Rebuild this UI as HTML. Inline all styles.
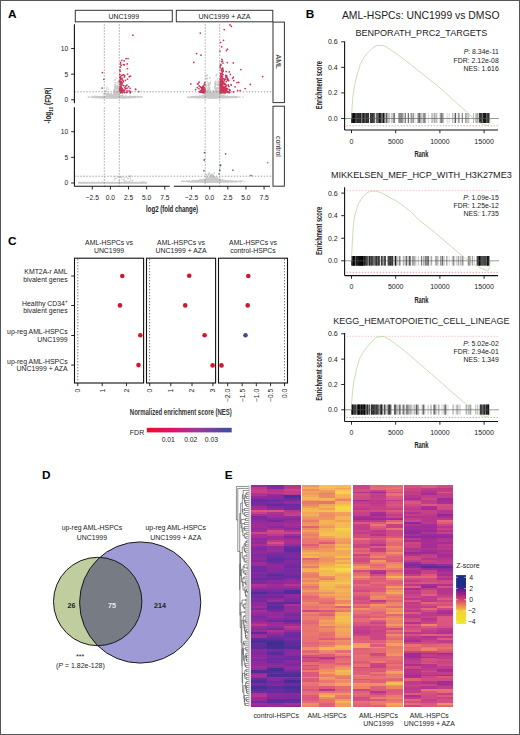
<!DOCTYPE html>
<html><head><meta charset="utf-8"><style>
html,body{margin:0;padding:0;background:#fff;}
svg{display:block;font-family:"Liberation Sans", sans-serif;}
text{stroke-width:0px;}
</style></head><body>
<svg width="520" height="735" viewBox="0 0 520 735">
<rect width="520" height="735" fill="#fff"/>
<text x="7.9" y="17.90" font-size="11.8" font-weight="bold" fill="#000">A</text>
<text x="305.8" y="18.00" font-size="11.8" font-weight="bold" fill="#000">B</text>
<text x="7.9" y="244.50" font-size="11.8" font-weight="bold" fill="#000">C</text>
<text x="41.9" y="478.70" font-size="11.8" font-weight="bold" fill="#000">D</text>
<text x="224.7" y="478.70" font-size="11.8" font-weight="bold" fill="#000">E</text>
<rect x="75.30" y="10.30" width="97.00" height="11.50" fill="#fff" stroke="#333" stroke-width="1" />
<rect x="176.30" y="10.30" width="96.50" height="11.50" fill="#fff" stroke="#333" stroke-width="1" />
<text x="123.80" y="18.61" font-size="7.0" text-anchor="middle" fill="#222" stroke="#222" font-weight="normal" >UNC1999</text>
<text x="224.50" y="18.61" font-size="7.0" text-anchor="middle" fill="#222" stroke="#222" font-weight="normal" >UNC1999 + AZA</text>
<rect x="273.00" y="22.10" width="11.40" height="80.50" fill="#fff" stroke="#333" stroke-width="1" />
<rect x="273.00" y="106.20" width="11.40" height="80.00" fill="#fff" stroke="#333" stroke-width="1" />
<text transform="translate(278.7,61.8) rotate(90)" y="2.51" font-size="7" text-anchor="middle" fill="#222" stroke="#222">AML</text>
<text transform="translate(278.7,146.4) rotate(90)" y="2.51" font-size="7" text-anchor="middle" fill="#222" stroke="#222">control</text>
<path d="M114.8 97.7h0M105.7 97.3h0M115.4 96.4h0M108.5 97.5h0M115.8 97.5h0M121.8 96.8h0M95.5 96.9h0M96.1 97.5h0M101.9 97.7h0M116.3 94.6h0M109.3 98.0h0M99.2 97.5h0M104.8 97.1h0M106.6 97.6h0M108.8 98.0h0M115.4 97.1h0M128.5 96.8h0M123.5 97.8h0M135.1 97.1h0M102.6 97.8h0M120.6 97.5h0M114.1 95.2h0M107.9 97.6h0M116.0 96.4h0M112.8 95.7h0M101.3 97.3h0M121.3 96.3h0M113.8 96.0h0M111.4 97.6h0M130.2 97.4h0M111.7 97.8h0M112.7 97.3h0M110.2 96.5h0M114.5 97.2h0M125.4 97.9h0M120.7 96.9h0M97.6 96.6h0M111.7 97.3h0M137.5 97.0h0M108.4 97.6h0M113.0 97.0h0M120.0 97.3h0M115.1 97.0h0M106.0 97.2h0M115.7 97.6h0M94.5 97.0h0M118.4 95.6h0M97.0 97.2h0M106.2 97.4h0M99.2 97.0h0M129.4 97.7h0M112.0 96.8h0M125.9 97.5h0M114.2 96.6h0M101.8 97.1h0M113.2 97.5h0M107.7 97.5h0M114.8 97.5h0M100.8 97.3h0M131.5 97.3h0M104.1 97.5h0M100.0 97.7h0M108.3 96.1h0M114.5 97.0h0M119.4 97.6h0M103.5 97.0h0M109.6 97.9h0M110.3 97.1h0M111.7 98.1h0M126.7 97.4h0M118.6 96.3h0M124.4 97.3h0M120.3 96.9h0M124.1 97.4h0M102.1 97.3h0M119.8 95.9h0M129.8 97.1h0M97.6 97.2h0M104.4 97.8h0M98.1 96.5h0M117.4 97.9h0M115.1 95.2h0M113.1 94.8h0M119.9 97.8h0M104.7 97.3h0M105.8 97.6h0M118.4 95.8h0M100.6 97.3h0M113.8 95.8h0M110.1 97.5h0M115.6 96.3h0M114.5 95.2h0M94.8 96.0h0M109.4 97.1h0M102.8 97.3h0M126.2 97.8h0M115.2 98.3h0M122.9 97.5h0M104.2 97.5h0M125.9 97.0h0M113.4 96.1h0M132.2 96.8h0M110.0 97.2h0M88.2 97.2h0M114.1 96.4h0M112.0 96.4h0M118.1 96.5h0M109.1 96.1h0M130.7 97.1h0M124.1 97.5h0M116.9 97.8h0M115.3 96.1h0M114.2 96.7h0M131.0 97.4h0M115.4 96.3h0M114.1 96.9h0M112.4 98.0h0M98.6 97.6h0M106.1 97.0h0M120.6 96.7h0M108.6 98.0h0M104.7 97.2h0M112.1 96.6h0M118.0 95.9h0M127.7 97.2h0M125.7 96.9h0M117.4 95.4h0M112.8 95.7h0M115.2 95.5h0M105.2 97.2h0M117.7 97.8h0M117.8 97.9h0M116.8 97.5h0M133.7 97.2h0M115.3 96.2h0M95.0 96.9h0M123.4 97.5h0M97.4 97.5h0M107.9 95.9h0M117.0 96.1h0M114.2 96.2h0M115.9 95.7h0M125.5 97.2h0M109.9 97.7h0M110.8 96.3h0M100.1 97.3h0M112.8 96.6h0M97.2 97.2h0M116.5 97.4h0M125.2 97.8h0M102.4 97.3h0M122.9 97.1h0M128.4 97.4h0M128.4 97.5h0M111.7 93.7h0M113.0 95.9h0M116.4 96.3h0M124.7 97.1h0M118.2 96.8h0M110.1 97.6h0M106.4 97.3h0M101.7 97.8h0M123.7 96.9h0M108.2 96.7h0M109.5 96.2h0M118.7 97.2h0M120.7 97.6h0M114.3 97.2h0M115.3 96.1h0M114.4 95.7h0M103.8 96.7h0M126.0 96.9h0M103.7 97.3h0M118.6 96.8h0M120.7 97.2h0M104.9 96.6h0M133.6 97.4h0M117.2 98.0h0M115.3 95.0h0M98.9 97.1h0M101.2 97.4h0M123.1 96.9h0M111.1 93.4h0M120.1 96.5h0M103.8 97.6h0M104.8 96.8h0M110.7 95.2h0M110.8 98.1h0M113.8 97.3h0M114.4 94.0h0M113.4 97.6h0M108.6 97.5h0M104.2 97.5h0M117.3 97.2h0M105.1 97.7h0M117.1 96.5h0M115.4 96.2h0M111.8 96.4h0M116.3 97.6h0M111.0 97.1h0M109.1 96.9h0M117.1 98.0h0M110.3 95.8h0M119.4 97.7h0M118.6 97.4h0M121.2 97.6h0M99.4 97.4h0M126.6 97.2h0M117.1 95.7h0M113.3 95.5h0M99.6 97.0h0M108.3 96.8h0M117.5 94.8h0M113.7 96.0h0M107.7 97.5h0M115.9 96.3h0M114.2 96.7h0M125.6 97.6h0M111.6 96.6h0M98.1 97.4h0M114.2 95.1h0M111.0 96.6h0M91.9 97.3h0M123.9 97.6h0M114.6 93.0h0M113.5 96.7h0M132.0 97.0h0M117.9 97.1h0M109.3 97.3h0M134.6 97.4h0M114.3 95.9h0M114.4 95.4h0M112.9 96.9h0M125.4 96.9h0M105.5 97.5h0M99.3 97.1h0M119.8 97.4h0M125.2 97.7h0M125.9 97.3h0M106.1 97.6h0M121.6 97.4h0M115.5 96.6h0M108.3 96.8h0M137.5 96.6h0M115.4 95.8h0M113.5 97.3h0M119.3 96.0h0M100.2 97.4h0M107.1 97.9h0M121.0 97.5h0M105.7 97.3h0M126.2 97.8h0M107.2 97.7h0M121.9 96.4h0M110.9 94.9h0M113.6 94.2h0M112.4 96.2h0M119.8 97.2h0M134.3 96.7h0M120.5 96.1h0M121.2 97.7h0M121.7 96.9h0M118.5 97.3h0M108.6 95.8h0M127.1 97.7h0M126.0 96.6h0M115.0 95.3h0M102.5 97.6h0M115.6 96.0h0M99.4 97.6h0M113.6 98.0h0M109.3 96.0h0M114.4 93.3h0M128.2 97.3h0M107.9 97.0h0M114.1 98.0h0M110.3 96.9h0M111.0 96.2h0M112.3 96.8h0M103.4 97.7h0M117.5 96.3h0M107.9 97.7h0M129.9 96.6h0M107.9 97.2h0M120.9 96.0h0M122.4 97.5h0M120.2 95.8h0M111.0 96.2h0M118.5 96.3h0M112.7 95.8h0M105.4 97.0h0M108.2 96.0h0M113.6 97.9h0M121.2 97.3h0M119.1 97.5h0M100.0 97.7h0M112.1 96.1h0M131.3 97.6h0M102.5 96.8h0M111.9 97.2h0M115.7 96.9h0M107.4 97.4h0M140.9 96.9h0M110.0 96.6h0M103.1 97.6h0M114.4 95.8h0M109.9 94.9h0M110.6 97.9h0M96.7 97.4h0M122.9 97.6h0M105.7 97.3h0M102.9 97.4h0M129.5 97.6h0M126.5 97.5h0M124.3 97.5h0M140.0 97.0h0M109.7 97.8h0M127.0 97.5h0M97.1 97.5h0M114.9 96.1h0M118.0 96.3h0M123.6 96.3h0M117.3 95.9h0M105.3 97.8h0M122.3 97.6h0M111.9 98.0h0M103.2 97.9h0M104.9 97.6h0M103.9 97.7h0M126.3 96.4h0M135.3 97.4h0M122.3 97.9h0M130.5 96.9h0M125.5 97.9h0M129.0 97.6h0M107.9 97.3h0M115.1 97.1h0M93.1 97.1h0M121.8 97.9h0M125.3 97.6h0M107.6 97.1h0M100.7 97.1h0M108.3 96.2h0M113.8 96.6h0M124.2 97.1h0M118.9 97.0h0M118.4 97.6h0M109.8 98.1h0M109.0 96.8h0M116.9 95.9h0M120.7 95.8h0M123.0 97.2h0M132.0 96.6h0M104.9 97.3h0M122.2 97.8h0M121.4 97.4h0M91.8 97.1h0M104.3 97.3h0M105.7 97.4h0M105.5 96.9h0M119.8 97.2h0M125.4 97.9h0M113.8 96.0h0M111.3 97.9h0M115.6 96.0h0M110.7 96.8h0M118.4 97.4h0M135.3 97.3h0M132.8 97.1h0M108.0 97.5h0M115.4 97.9h0M96.4 97.5h0M92.2 97.3h0M107.4 97.4h0M117.5 94.9h0M103.9 96.4h0M130.9 97.1h0M121.4 96.9h0M111.5 97.5h0M132.6 97.5h0M116.0 96.6h0M112.3 97.5h0M132.4 96.6h0M111.7 97.0h0M106.7 97.1h0M116.0 94.5h0M103.5 97.3h0M124.9 97.4h0M107.7 96.8h0M111.0 95.3h0M107.7 95.8h0M108.4 96.2h0M126.7 97.1h0M123.6 97.0h0M105.1 97.4h0M129.7 96.3h0M103.5 97.7h0M116.4 97.8h0M126.3 96.5h0M114.7 97.5h0M117.0 96.7h0M122.8 97.5h0M135.5 96.4h0M99.9 97.6h0M140.2 97.0h0M117.0 97.4h0M112.6 96.7h0M110.7 96.4h0M114.2 97.3h0M125.3 97.7h0M119.9 97.8h0M113.5 96.8h0M103.7 97.0h0M107.2 97.3h0M116.4 96.1h0M106.8 95.9h0M94.4 97.5h0M125.5 97.5h0M101.2 97.4h0M132.8 97.4h0M114.8 93.3h0M127.9 97.7h0M118.4 97.0h0M104.0 97.8h0M114.1 94.2h0M106.1 97.9h0M119.2 96.9h0M106.4 96.3h0M120.2 97.3h0M111.0 97.6h0M108.7 96.3h0M103.1 96.8h0M92.5 97.3h0M117.0 96.9h0M114.1 98.3h0M95.7 97.5h0M106.1 97.5h0M121.3 97.1h0M124.1 97.0h0M128.9 97.7h0M113.0 95.4h0M116.9 97.3h0M97.1 97.2h0M114.5 95.9h0M113.9 96.8h0M118.8 97.4h0M132.5 97.6h0M99.6 97.2h0M99.9 97.1h0M128.0 97.6h0M99.3 97.4h0M127.5 97.6h0M107.9 97.6h0M121.2 96.5h0M126.8 97.0h0M121.5 96.8h0M117.9 96.9h0M111.1 95.6h0M121.5 97.4h0M125.5 97.7h0M89.8 97.1h0M110.1 97.2h0M126.9 97.5h0M103.2 96.5h0M102.2 97.7h0M119.1 96.9h0M109.8 97.3h0M122.6 97.4h0M113.8 94.6h0M128.8 97.7h0M113.5 96.2h0M127.6 97.6h0M108.7 97.3h0M120.6 96.7h0M125.5 96.9h0M116.4 95.4h0M100.2 96.8h0M106.1 96.9h0M132.2 97.1h0M113.7 98.1h0M116.5 97.8h0M131.1 96.7h0M117.4 97.3h0M123.3 97.7h0M98.6 97.1h0M108.6 97.5h0M88.5 97.0h0M117.0 96.6h0M117.4 95.3h0M133.1 97.5h0M112.5 95.5h0M142.2 96.9h0M127.6 97.5h0M104.8 96.7h0M112.6 96.7h0M119.0 97.1h0M101.7 97.8h0M107.5 96.2h0M109.8 95.2h0M98.2 97.6h0M118.9 95.1h0M107.9 97.3h0M111.4 96.4h0M103.0 97.0h0M118.2 96.4h0M104.7 97.5h0M108.2 97.2h0M96.7 97.5h0M119.0 95.6h0M111.9 95.4h0M92.5 96.3h0M103.3 97.2h0M124.7 97.8h0M121.1 96.0h0M121.9 96.3h0M129.6 96.8h0M130.5 97.7h0M102.5 97.8h0M92.4 96.7h0M115.7 97.2h0M113.6 94.4h0M114.3 95.9h0M111.3 95.8h0M111.9 97.0h0M131.3 97.2h0M117.0 96.0h0M102.2 96.9h0M138.7 97.1h0M107.5 97.3h0M122.9 97.7h0M120.9 97.4h0M97.3 97.4h0M100.3 97.7h0M105.0 97.8h0M100.3 97.3h0M105.2 96.9h0M123.4 97.4h0M99.4 96.9h0M108.1 93.8h0M130.8 97.1h0M116.5 98.0h0M99.7 97.4h0M119.5 96.9h0M115.6 95.2h0M117.4 95.1h0M128.2 97.2h0M120.1 97.3h0M111.2 97.2h0M122.4 97.3h0M105.5 97.8h0M125.2 96.1h0M123.3 97.9h0M106.1 96.9h0M110.7 97.0h0M110.7 96.6h0M131.4 97.4h0M132.9 97.2h0M129.9 97.6h0M122.0 95.5h0M126.7 96.8h0M119.0 96.3h0M107.9 97.1h0M107.7 97.5h0M116.3 95.8h0M135.3 96.9h0M122.3 97.7h0M120.4 96.5h0M122.5 95.1h0M125.1 97.7h0M113.6 95.0h0M116.4 96.7h0M110.4 97.6h0M130.9 97.1h0M123.9 97.0h0M113.7 96.0h0M103.6 97.5h0M103.1 97.2h0M129.8 97.6h0M130.8 97.5h0M105.5 97.5h0M124.6 97.9h0M113.6 94.4h0M114.8 96.5h0M122.3 97.5h0M107.8 96.8h0M101.2 97.3h0M109.7 96.5h0M121.5 96.8h0M121.7 97.4h0M119.0 97.4h0M113.0 96.3h0M111.8 95.5h0M111.0 98.1h0M102.9 97.5h0M102.1 97.7h0M128.4 97.3h0M109.4 96.9h0M111.7 96.6h0M91.8 97.1h0M104.2 97.0h0M106.0 97.4h0M116.0 96.9h0M116.1 96.4h0M108.1 97.3h0M117.6 96.5h0M112.6 96.5h0M116.7 96.3h0M109.4 96.0h0M109.4 97.6h0M121.4 96.8h0M116.9 96.7h0M120.9 96.9h0M114.1 94.3h0M123.7 97.6h0M112.2 97.5h0M101.8 97.3h0M117.7 97.7h0M108.9 97.5h0M126.7 97.2h0M130.2 97.2h0M110.2 95.9h0M97.2 97.0h0M110.6 97.4h0M115.8 95.7h0M100.3 97.4h0M110.6 95.6h0M104.5 97.8h0M120.5 96.8h0M105.4 96.9h0M127.3 97.5h0M106.8 97.2h0M118.2 97.2h0M127.2 97.0h0M113.7 96.8h0M115.6 97.1h0M122.6 96.8h0M118.3 95.6h0M113.7 96.5h0M115.7 95.2h0M108.0 96.0h0M121.8 97.5h0M105.4 96.8h0M106.3 97.4h0M104.4 96.8h0M107.6 95.9h0M126.0 97.3h0M126.5 97.3h0M113.0 94.8h0M124.7 97.4h0M115.5 96.5h0M133.0 97.3h0M102.4 97.6h0M128.7 97.5h0M106.9 97.2h0M103.6 97.6h0M117.8 96.8h0M122.0 96.7h0M123.9 97.5h0M109.2 96.5h0M103.9 96.3h0M107.4 96.9h0M101.3 97.1h0M111.1 95.0h0M122.4 96.7h0M121.6 97.2h0M133.5 97.1h0M117.3 96.3h0M110.1 96.5h0M126.1 97.4h0M111.1 96.2h0M115.9 95.8h0M106.5 96.9h0M126.2 97.1h0M108.9 97.5h0M114.9 96.6h0M94.0 97.3h0M110.6 97.7h0M102.3 97.5h0M112.9 95.6h0M102.7 97.7h0M105.0 97.6h0M125.2 96.9h0M111.7 95.9h0M117.9 97.3h0M126.9 97.3h0M122.0 97.5h0M117.1 96.8h0M109.6 96.7h0M124.8 97.9h0M135.4 97.3h0M101.8 97.4h0M111.5 96.1h0M124.2 97.2h0M121.6 96.3h0M120.9 97.2h0M114.6 94.2h0M120.8 97.4h0M101.2 96.9h0M117.4 95.7h0M109.5 97.3h0M114.1 98.3h0M126.1 97.8h0M113.2 97.6h0M105.7 97.6h0M109.0 97.5h0M135.1 96.9h0M119.3 96.1h0M118.0 97.8h0M117.9 97.0h0M136.1 97.0h0M121.8 96.4h0M111.4 97.0h0M127.5 97.1h0M111.2 96.9h0M113.7 96.9h0M110.8 97.0h0M130.1 96.6h0M113.6 97.2h0M105.1 97.6h0M121.8 97.9h0M118.5 96.4h0M120.8 97.8h0M124.7 97.1h0M106.8 96.1h0M107.3 96.8h0M109.7 96.9h0M101.8 97.1h0M124.0 97.5h0M121.1 97.3h0M115.2 94.8h0M121.3 97.2h0M122.0 96.8h0M128.7 97.4h0M113.8 96.8h0M116.3 95.8h0M93.5 97.2h0M115.9 95.9h0M111.0 97.8h0M105.7 97.2h0M109.7 96.2h0M121.4 96.8h0M122.0 97.7h0M103.4 97.0h0M117.1 95.4h0M124.7 96.8h0M127.4 97.4h0M112.8 97.7h0M99.2 97.2h0M128.2 97.1h0M101.0 97.6h0M108.1 95.6h0M116.3 94.9h0M116.2 97.5h0M104.2 97.4h0M109.1 96.2h0M123.5 97.3h0M119.7 97.0h0M133.6 97.1h0M112.2 96.6h0M120.0 96.5h0M114.8 96.8h0M102.7 97.9h0M97.2 97.6h0M115.0 96.1h0M100.7 96.7h0M101.1 96.9h0M120.8 97.1h0M125.3 96.8h0M105.3 97.4h0M118.2 95.9h0M120.3 95.5h0M107.3 96.3h0M113.3 96.1h0M114.6 95.2h0M114.1 96.5h0M111.7 98.2h0M105.5 96.6h0M126.6 97.2h0M113.8 97.3h0M119.5 97.3h0M124.8 97.5h0M98.8 97.3h0M116.3 96.3h0M121.8 95.9h0M100.0 97.1h0M140.0 97.1h0M115.5 97.6h0M121.3 96.5h0M130.7 97.2h0M117.6 96.4h0M105.2 97.4h0M114.2 95.1h0M119.5 97.2h0M119.5 96.5h0M123.4 97.2h0M95.5 96.9h0M112.1 96.6h0M95.8 97.4h0M107.8 96.6h0M129.3 97.6h0M112.2 96.5h0M103.3 97.6h0M112.9 96.7h0M105.7 97.1h0M121.1 96.8h0M100.4 96.8h0M122.1 97.5h0M108.4 96.9h0M107.8 97.2h0M123.6 97.0h0M100.7 96.9h0M119.5 95.2h0M124.4 97.7h0M111.9 97.1h0M134.3 96.6h0M118.6 97.3h0M116.3 97.3h0M119.0 95.6h0M129.8 96.4h0M124.7 97.2h0M113.5 96.6h0M124.6 97.4h0M95.4 97.5h0M115.7 96.6h0M133.9 96.9h0M104.1 97.2h0M136.1 97.3h0M107.5 97.0h0M105.5 96.4h0M115.5 96.6h0M130.5 97.1h0M126.7 97.6h0M107.0 97.9h0M104.7 96.6h0M129.5 96.6h0M121.3 96.9h0M114.0 96.2h0M104.7 97.8h0M104.0 97.7h0M125.1 97.9h0M111.7 98.0h0M108.0 97.2h0M121.3 96.1h0M110.8 97.7h0M110.2 96.9h0M116.6 95.5h0M124.9 97.5h0M107.3 97.1h0M106.6 97.4h0M116.7 98.1h0M109.1 95.1h0M95.5 97.5h0M126.2 97.7h0M110.8 97.9h0M109.2 96.8h0M126.8 97.8h0M124.5 97.8h0M113.0 96.6h0M117.2 96.7h0M131.6 97.5h0M111.8 95.5h0M120.2 96.0h0M118.7 97.6h0M100.4 97.0h0M118.9 97.6h0M102.9 96.9h0M111.4 95.8h0M126.4 96.0h0M123.7 97.4h0M108.7 97.1h0M121.0 97.5h0M121.5 96.4h0M110.1 95.2h0M127.9 97.3h0M102.6 97.8h0M112.4 98.0h0M120.0 97.1h0M117.2 97.9h0M110.3 97.2h0M117.7 96.2h0M123.9 97.1h0M119.0 95.9h0M109.5 96.3h0M122.3 97.7h0M110.4 97.1h0M114.5 97.8h0M110.1 97.1h0M118.3 97.2h0M120.3 96.0h0M118.2 95.1h0M116.0 95.7h0M112.2 97.3h0M116.4 97.7h0M101.0 97.7h0M122.6 96.3h0M117.5 96.0h0M131.6 97.1h0M113.6 97.8h0M117.8 97.2h0M93.4 97.2h0M94.2 97.5h0M114.8 95.7h0M123.5 97.5h0M133.7 97.0h0M125.3 97.6h0M119.0 96.7h0M108.7 96.8h0M113.8 95.2h0M120.6 97.8h0M95.6 97.2h0M109.1 97.6h0M124.2 97.9h0M114.9 97.0h0M126.1 97.6h0M116.3 97.5h0M125.1 97.3h0M118.6 97.4h0M127.5 97.8h0M93.7 96.9h0M115.8 97.0h0M105.8 96.3h0M98.8 97.4h0M110.7 95.3h0M91.9 97.4h0M111.2 95.1h0M119.1 95.0h0M126.6 97.5h0M138.6 97.1h0M112.8 96.5h0M108.7 97.1h0M96.6 96.6h0M111.2 97.3h0M98.9 96.9h0M109.7 97.7h0M126.1 97.6h0M119.8 96.8h0M117.1 96.1h0M119.4 96.9h0M115.9 96.6h0M113.5 96.1h0M122.1 97.1h0M111.7 97.9h0M107.1 97.7h0M130.3 96.9h0M112.1 96.8h0M118.6 97.2h0M139.3 97.2h0M102.6 97.0h0M110.6 94.3h0M124.9 97.4h0M122.9 96.7h0M114.3 96.2h0M111.2 96.9h0M101.2 97.6h0M112.9 96.9h0M110.6 95.6h0M132.7 96.8h0M117.0 96.9h0M102.3 97.7h0M116.2 96.7h0M102.9 97.2h0M126.0 97.6h0M108.6 97.7h0M123.3 97.1h0M113.1 97.0h0M115.1 97.4h0M100.3 97.8h0M119.1 96.9h0M102.6 96.9h0M117.2 95.2h0M121.0 96.9h0M106.2 95.7h0M118.1 97.0h0M133.1 97.4h0M127.1 97.2h0M100.6 96.9h0M129.7 97.4h0M117.0 97.2h0M130.4 97.3h0M119.9 97.0h0M119.9 96.6h0M119.9 96.0h0M113.4 95.9h0M121.1 96.5h0M102.7 97.4h0M120.3 97.3h0M122.6 97.2h0M108.2 96.9h0M103.7 97.5h0M104.6 96.7h0M119.4 97.2h0M125.4 97.7h0M121.6 95.7h0M126.9 97.7h0M102.9 97.7h0M95.8 97.2h0M122.3 97.8h0M124.4 97.2h0M109.7 97.0h0M104.7 96.5h0M134.9 97.0h0M120.9 96.3h0M116.4 95.9h0M126.8 97.3h0M116.1 97.1h0M96.5 96.8h0M120.5 97.0h0M97.6 96.9h0M120.3 97.0h0M109.4 96.6h0M108.8 96.7h0M115.2 95.3h0M102.9 97.6h0M112.5 97.2h0M117.0 96.8h0M92.9 97.2h0M105.1 97.5h0M102.1 97.2h0M113.7 97.1h0M119.8 97.1h0M115.2 95.6h0M126.6 97.0h0M130.0 97.2h0M135.2 97.4h0M112.2 97.2h0M115.3 96.2h0M107.4 96.8h0M121.9 96.7h0M125.7 97.6h0M132.6 96.9h0M117.0 96.0h0M107.5 96.9h0M107.4 96.7h0M124.8 97.4h0M125.2 97.5h0M107.1 96.4h0M103.1 96.2h0M100.0 97.2h0M113.4 97.6h0M107.6 97.3h0M114.3 93.1h0M123.0 97.1h0M110.3 96.0h0M107.3 97.1h0M106.7 96.4h0M114.1 96.2h0M108.4 97.1h0M114.7 94.4h0M122.3 96.9h0M122.5 97.6h0M108.0 97.1h0M112.4 97.2h0M118.0 95.6h0M117.4 96.4h0M125.1 97.9h0M120.2 96.8h0M91.8 96.9h0M95.5 97.2h0M106.3 97.2h0M117.5 95.6h0M118.4 96.8h0M122.0 97.7h0M113.8 98.0h0M118.8 97.0h0M122.3 96.5h0M130.5 96.2h0M107.7 96.3h0M141.1 96.4h0M129.3 96.8h0M124.1 97.8h0M105.6 97.0h0M112.0 95.8h0M111.1 96.4h0M126.6 97.6h0M99.4 97.7h0M106.9 97.5h0M107.5 96.9h0M124.7 97.9h0M109.3 96.6h0M120.6 95.9h0M127.8 97.6h0M112.6 98.0h0M129.6 97.2h0M106.3 96.8h0M117.9 96.7h0M110.8 97.4h0M94.8 97.1h0M102.5 97.5h0M107.2 97.5h0M114.9 96.7h0M99.8 97.6h0M118.5 96.0h0M120.1 97.6h0M112.8 95.7h0M101.5 97.2h0M120.0 97.0h0M102.1 97.1h0M133.3 97.4h0M100.4 97.6h0M111.1 93.7h0M117.7 94.8h0M115.8 91.9h0M116.6 91.3h0M119.2 90.6h0M116.7 91.8h0M116.1 95.1h0M115.2 79.8h0M119.0 84.5h0M115.2 82.7h0M114.9 90.2h0M115.6 94.2h0M117.6 89.6h0M119.1 94.2h0M118.7 87.4h0M115.1 94.6h0M117.2 93.3h0M114.3 93.4h0M116.4 87.0h0M118.7 91.2h0M116.0 89.4h0M115.6 84.6h0M115.0 89.2h0M118.3 86.9h0M114.9 91.5h0M118.7 94.7h0M113.8 93.4h0M118.9 95.1h0M114.0 94.1h0M118.6 90.2h0M117.5 87.8h0M116.1 78.1h0M116.2 88.1h0M115.4 95.1h0M117.0 94.7h0M115.2 93.7h0M115.7 93.8h0M117.2 92.2h0M114.0 92.5h0M117.1 94.1h0M119.2 90.8h0M116.5 86.5h0M113.9 91.7h0M118.8 93.9h0M114.6 85.1h0M117.7 88.1h0M113.9 94.8h0M115.9 95.1h0M114.1 90.1h0M116.1 95.0h0M118.6 94.2h0M118.6 91.2h0M117.1 91.2h0M117.4 85.6h0M115.1 86.2h0M114.8 88.7h0M117.8 93.7h0M115.7 88.9h0M114.8 86.6h0M118.6 91.8h0M115.5 90.1h0M115.5 94.6h0M114.9 80.0h0M118.3 93.4h0M114.8 93.0h0M114.4 93.7h0M116.5 86.1h0M114.0 92.9h0M114.3 92.6h0M114.7 87.3h0M115.7 93.3h0M117.4 86.5h0M118.1 81.8h0M115.8 93.7h0M115.3 86.6h0M118.1 86.3h0M118.5 82.8h0M117.5 94.1h0M115.0 90.5h0M118.8 94.5h0M118.7 90.3h0M118.2 91.4h0M117.9 94.6h0M117.3 95.1h0M119.1 80.9h0M114.6 88.9h0M118.3 93.5h0M116.8 94.6h0M117.1 82.9h0M117.7 93.1h0M116.8 91.1h0M113.7 92.9h0M115.7 92.6h0M115.0 87.4h0M119.0 92.1h0M117.3 91.6h0M117.4 88.8h0M113.7 90.0h0M114.6 92.5h0M116.5 87.6h0M117.9 92.7h0M118.9 82.2h0M118.4 88.3h0M114.1 95.1h0M117.2 91.0h0M116.1 92.8h0M114.7 86.5h0M115.1 73.0h0M114.7 90.9h0M118.5 94.9h0M118.0 93.5h0M106.6 89.1h0M108.7 95.1h0M109.1 94.9h0M103.9 93.4h0M105.6 91.5h0M106.7 94.8h0M109.1 94.6h0M105.5 94.0h0M105.0 93.3h0M108.0 95.2h0M108.4 89.3h0M106.1 93.4h0M107.0 87.3h0M108.6 93.1h0M105.7 91.1h0M107.4 93.7h0M106.3 90.9h0M109.4 94.2h0M195.0 97.4h0M213.9 96.8h0M206.9 97.4h0M219.5 96.7h0M213.3 97.7h0M222.4 96.5h0M209.8 96.1h0M208.9 95.9h0M219.3 97.1h0M203.5 96.2h0M210.1 96.5h0M218.1 96.4h0M213.0 95.7h0M216.8 95.4h0M197.3 97.2h0M196.9 97.1h0M219.5 96.5h0M201.5 97.8h0M204.7 97.3h0M215.6 93.5h0M210.7 97.7h0M209.0 96.4h0M212.8 96.1h0M207.0 96.6h0M200.5 97.2h0M215.3 96.8h0M210.2 96.0h0M227.9 97.6h0M220.8 97.5h0M211.2 96.8h0M218.0 97.6h0M205.5 96.8h0M223.5 96.4h0M237.6 97.2h0M201.8 97.2h0M211.7 97.6h0M209.5 95.5h0M207.9 97.2h0M217.5 97.4h0M198.8 97.5h0M210.4 95.9h0M205.9 96.3h0M213.8 95.9h0M207.0 96.2h0M187.7 97.2h0M196.5 97.5h0M221.9 97.5h0M204.8 95.6h0M224.8 96.6h0M224.3 97.7h0M216.7 95.9h0M213.5 96.5h0M218.5 96.3h0M224.8 97.1h0M219.8 95.1h0M210.5 97.7h0M199.2 97.4h0M227.7 97.4h0M204.1 96.1h0M234.4 97.5h0M204.4 95.6h0M198.8 96.8h0M228.4 97.5h0M197.3 97.5h0M222.7 95.3h0M220.4 97.4h0M210.3 97.1h0M187.5 97.3h0M213.0 94.4h0M208.5 95.7h0M207.2 94.6h0M219.3 97.1h0M223.0 97.4h0M204.6 97.5h0M222.7 96.6h0M224.9 96.9h0M215.8 94.4h0M220.3 96.5h0M206.3 95.6h0M227.5 96.4h0M216.5 96.4h0M213.5 96.1h0M223.4 96.9h0M198.9 97.0h0M221.9 96.5h0M225.3 97.3h0M208.5 95.8h0M217.7 96.4h0M205.2 97.3h0M206.4 94.3h0M220.8 95.3h0M195.7 97.4h0M208.4 96.0h0M209.5 92.4h0M215.4 96.9h0M215.7 94.0h0M224.3 96.8h0M209.2 97.1h0M201.9 97.5h0M217.0 95.7h0M215.2 94.7h0M212.7 96.8h0M210.8 96.4h0M208.8 96.5h0M219.0 95.6h0M219.6 97.2h0M217.1 95.6h0M207.5 96.1h0M230.3 97.4h0M227.5 97.6h0M192.5 96.8h0M214.3 98.1h0M219.9 95.9h0M224.4 97.4h0M230.9 97.2h0M209.9 96.4h0M218.8 96.4h0M205.3 96.9h0M221.6 96.6h0M215.7 96.9h0M211.8 96.0h0M222.3 97.7h0M195.9 97.7h0M225.4 96.2h0M220.3 97.4h0M211.7 96.1h0M222.8 96.1h0M203.1 95.7h0M224.8 97.7h0M225.1 96.9h0M226.8 97.6h0M217.8 95.9h0M212.2 97.0h0M212.0 94.4h0M221.1 96.7h0M210.2 97.5h0M208.2 96.5h0M203.5 96.1h0M214.1 96.4h0M208.3 97.4h0M232.0 97.0h0M229.9 97.1h0M211.0 96.3h0M216.2 96.2h0M202.9 96.0h0M215.2 96.4h0M200.2 97.2h0M219.0 97.0h0M226.4 97.0h0M217.4 96.6h0M222.6 96.8h0M206.4 95.2h0M208.5 96.7h0M215.4 94.6h0M222.6 96.4h0M195.2 96.5h0M213.9 96.7h0M224.2 96.5h0M235.7 97.3h0M213.5 96.0h0M213.6 97.1h0M217.1 97.4h0M213.9 95.5h0M210.9 94.7h0M221.0 95.4h0M201.7 96.7h0M208.7 96.0h0M213.1 97.1h0M229.9 97.1h0M212.4 95.3h0M219.2 96.5h0M217.0 96.9h0M218.4 97.0h0M237.1 96.9h0M208.5 97.1h0M205.1 96.5h0M223.7 97.0h0M223.9 97.1h0M206.4 97.0h0M224.2 96.7h0M208.5 97.1h0M198.5 97.8h0M211.3 97.2h0M213.4 97.0h0M204.7 97.6h0M215.3 93.9h0M210.3 97.2h0M222.4 96.7h0M213.1 95.3h0M208.6 97.7h0M213.4 96.9h0M215.4 97.5h0M207.8 96.6h0M217.6 97.4h0M236.5 97.1h0M211.1 95.7h0M214.5 94.9h0M219.7 97.5h0M223.1 97.6h0M214.4 96.9h0M220.2 95.2h0M237.1 96.8h0M210.1 97.0h0M203.3 97.1h0M223.1 95.7h0M216.3 95.2h0M207.1 96.5h0M197.9 97.2h0M233.8 97.2h0M218.9 96.6h0M218.8 96.9h0M239.4 97.0h0M217.6 94.9h0M201.7 97.3h0M220.4 96.0h0M228.8 97.3h0M209.4 96.3h0M202.5 97.2h0M215.5 94.7h0M204.9 97.1h0M219.2 96.3h0M217.3 97.2h0M198.5 96.7h0M227.3 97.5h0M220.2 96.3h0M227.5 96.9h0M222.2 97.7h0M213.4 94.5h0M194.5 97.6h0M206.1 96.7h0M218.0 96.9h0M223.6 97.6h0M198.9 97.5h0M207.7 94.1h0M194.5 96.9h0M208.4 98.1h0M212.6 96.7h0M200.5 96.3h0M189.5 97.4h0M228.1 97.5h0M204.9 97.2h0M225.6 97.1h0M215.9 94.9h0M209.8 96.3h0M231.4 97.3h0M215.7 94.3h0M222.5 97.6h0M214.2 95.1h0M207.9 96.1h0M208.7 96.1h0M209.7 97.1h0M219.7 97.3h0M197.5 97.2h0M215.1 93.6h0M196.5 96.5h0M204.4 96.7h0M213.0 96.6h0M210.3 97.7h0M191.1 97.3h0M227.1 97.6h0M211.9 96.8h0M224.7 97.3h0M207.5 93.9h0M221.4 95.8h0M222.0 97.0h0M220.8 95.6h0M198.7 97.0h0M199.8 96.9h0M215.3 96.4h0M206.1 96.5h0M213.7 96.9h0M231.7 97.3h0M213.7 95.8h0M204.6 96.8h0M218.4 98.0h0M226.1 97.1h0M213.0 96.8h0M210.8 96.8h0M195.0 97.6h0M207.0 96.3h0M208.6 95.6h0M220.1 97.3h0M201.6 96.9h0M208.1 96.9h0M214.8 96.6h0M214.8 96.5h0M212.2 97.5h0M208.7 96.2h0M221.5 96.5h0M212.3 95.9h0M209.0 96.9h0M208.0 95.4h0M227.9 97.4h0M215.6 96.5h0M213.4 97.0h0M212.7 97.6h0M227.3 97.6h0M196.0 97.1h0M196.8 97.3h0M218.5 97.0h0M215.5 94.9h0M198.6 97.2h0M199.3 96.9h0M211.0 96.9h0M212.6 97.8h0M222.9 97.0h0M216.1 97.7h0M201.5 97.6h0M204.1 95.5h0M204.0 96.0h0M204.8 95.8h0M211.4 95.9h0M221.0 96.7h0M208.0 96.5h0M206.6 96.0h0M215.0 96.1h0M199.0 97.6h0M214.0 95.0h0M218.0 97.4h0M200.5 97.7h0M215.4 95.9h0M217.9 96.4h0M199.7 97.4h0M214.7 96.8h0M206.9 96.4h0M198.4 97.5h0M196.3 97.2h0M212.9 94.8h0M220.8 96.5h0M217.6 97.4h0M210.4 94.1h0M211.8 93.1h0M207.1 94.6h0M203.2 97.5h0M218.0 95.2h0M218.7 96.7h0M210.0 93.8h0M204.4 97.6h0M202.0 95.8h0M204.8 97.2h0M202.8 97.1h0M237.1 97.1h0M220.3 96.8h0M200.7 97.3h0M213.1 96.8h0M197.3 97.5h0M198.7 97.0h0M205.6 96.8h0M215.3 98.1h0M221.4 96.4h0M203.3 97.0h0M208.8 96.0h0M189.1 97.4h0M232.6 97.2h0M227.4 97.8h0M198.2 97.1h0M222.5 97.2h0M215.4 96.0h0M229.2 96.5h0M211.6 95.5h0M204.5 95.4h0M208.9 95.9h0M214.6 93.8h0M209.1 94.1h0M222.1 96.8h0M213.7 96.1h0M213.8 96.2h0M206.6 94.2h0M204.6 97.1h0M204.4 95.8h0M209.9 96.7h0M204.9 95.5h0M208.4 95.0h0M192.9 97.3h0M213.2 96.8h0M209.8 94.5h0M210.6 94.4h0M218.9 97.5h0M236.4 97.4h0M218.0 95.7h0M205.8 97.7h0M205.2 95.6h0M208.2 96.0h0M218.6 97.2h0M232.2 97.6h0M215.7 94.3h0M206.4 97.2h0M220.6 95.0h0M194.3 97.0h0M207.1 96.1h0M221.9 97.5h0M192.1 97.0h0M216.8 95.9h0M210.9 96.8h0M217.2 98.0h0M207.7 96.3h0M212.9 93.1h0M210.5 95.9h0M196.6 97.0h0M218.4 96.2h0M202.4 96.9h0M207.9 96.6h0M202.6 97.9h0M220.4 96.2h0M199.4 97.4h0M221.5 96.7h0M201.0 97.1h0M220.7 97.3h0M216.2 97.1h0M223.9 94.8h0M213.7 95.3h0M196.0 97.2h0M216.5 94.7h0M224.0 97.2h0M199.4 96.8h0M219.2 97.6h0M207.2 95.7h0M212.9 94.2h0M208.1 95.8h0M231.1 96.8h0M208.5 96.1h0M204.3 97.3h0M237.1 97.2h0M211.5 95.9h0M219.8 97.0h0M199.2 97.1h0M199.4 97.2h0M218.2 97.2h0M201.5 96.3h0M193.2 97.2h0M219.6 97.1h0M200.0 97.4h0M205.1 95.9h0M201.0 97.2h0M201.0 96.9h0M218.5 96.9h0M191.0 96.9h0M217.2 95.6h0M205.0 97.0h0M207.4 97.6h0M224.2 97.1h0M211.7 95.2h0M203.0 96.1h0M223.0 97.7h0M218.4 96.2h0M208.8 97.5h0M232.1 97.1h0M203.5 97.1h0M213.0 93.2h0M194.3 97.1h0M217.4 97.3h0M207.9 96.7h0M197.5 97.0h0M209.1 96.4h0M225.5 97.3h0M213.5 96.2h0M220.2 94.3h0M211.0 94.8h0M210.7 93.7h0M204.0 95.9h0M220.9 97.6h0M204.2 97.0h0M214.4 96.0h0M188.6 97.3h0M215.8 97.9h0M204.7 96.2h0M220.3 96.5h0M227.4 96.2h0M204.4 97.4h0M220.7 97.5h0M235.0 97.4h0M211.5 95.7h0M219.7 97.7h0M206.0 95.4h0M209.6 96.5h0M214.7 96.1h0M231.4 97.2h0M225.3 97.6h0M221.1 94.9h0M210.9 98.0h0M199.0 97.7h0M207.4 95.4h0M209.1 94.0h0M218.0 95.3h0M211.6 97.8h0M207.8 96.1h0M225.7 97.3h0M211.7 96.7h0M243.0 97.1h0M207.4 96.2h0M213.0 97.2h0M221.8 97.2h0M217.7 96.4h0M204.3 97.3h0M215.1 96.3h0M212.0 94.5h0M207.1 95.7h0M216.8 95.9h0M209.4 96.3h0M218.1 96.7h0M217.7 97.7h0M215.9 97.2h0M213.6 94.8h0M226.5 97.7h0M212.0 98.3h0M214.0 95.7h0M206.3 94.8h0M202.6 97.2h0M206.5 96.5h0M214.1 95.4h0M206.7 96.5h0M204.7 96.2h0M192.5 96.4h0M228.9 97.7h0M206.8 96.1h0M227.1 97.7h0M211.3 94.5h0M209.6 95.2h0M210.7 97.3h0M205.7 97.0h0M225.8 97.2h0M219.5 97.4h0M222.4 97.4h0M203.7 97.6h0M205.3 97.2h0M220.7 97.1h0M228.8 97.5h0M197.0 97.7h0M223.9 97.2h0M219.7 97.5h0M208.2 97.9h0M218.7 97.4h0M214.1 94.7h0M205.6 97.3h0M210.7 96.4h0M220.3 96.1h0M213.6 93.7h0M208.9 97.8h0M211.5 95.0h0M215.8 95.5h0M203.6 96.2h0M223.2 96.9h0M217.7 94.3h0M219.3 97.7h0M222.8 96.8h0M225.9 96.7h0M208.6 97.3h0M228.2 97.4h0M202.9 97.0h0M208.1 97.6h0M195.0 97.2h0M217.0 96.2h0M205.7 97.3h0M214.2 94.5h0M226.8 97.4h0M230.9 97.5h0M227.5 96.8h0M208.0 97.9h0M204.8 97.0h0M222.2 97.6h0M208.8 94.6h0M189.8 97.2h0M219.2 96.3h0M226.2 97.3h0M202.3 97.5h0M215.7 96.2h0M227.2 97.4h0M201.3 97.5h0M198.8 97.0h0M217.3 97.4h0M216.6 97.8h0M192.0 96.9h0M202.2 95.8h0M205.0 96.7h0M216.4 93.7h0M219.0 95.3h0M220.2 96.7h0M220.4 95.7h0M201.7 96.5h0M203.7 96.9h0M219.0 96.4h0M213.6 96.7h0M221.7 96.8h0M211.3 92.9h0M209.4 96.0h0M205.3 97.7h0M206.3 95.9h0M207.9 93.0h0M228.7 97.0h0M216.5 95.2h0M223.7 96.8h0M217.7 96.0h0M201.8 97.0h0M199.5 96.4h0M209.5 97.8h0M223.3 97.0h0M216.8 96.3h0M225.1 97.4h0M218.3 97.4h0M204.9 97.8h0M226.1 96.7h0M205.7 97.3h0M227.4 97.6h0M212.8 95.7h0M216.3 98.0h0M230.4 97.6h0M230.5 97.0h0M213.9 97.3h0M204.9 96.9h0M218.5 97.4h0M221.7 95.5h0M195.0 97.6h0M204.4 96.6h0M196.0 97.6h0M212.5 95.2h0M213.7 96.4h0M209.3 95.1h0M209.6 97.8h0M202.7 97.3h0M199.5 97.3h0M221.9 97.4h0M213.5 93.8h0M207.1 96.8h0M203.7 97.8h0M208.6 96.1h0M224.8 97.7h0M237.2 96.9h0M215.6 97.2h0M220.0 97.1h0M226.3 97.7h0M212.8 98.0h0M201.8 96.4h0M230.6 97.0h0M203.5 96.3h0M212.8 94.3h0M221.9 97.7h0M204.4 97.3h0M223.9 96.4h0M208.2 96.1h0M202.0 97.8h0M196.6 97.4h0M218.6 96.0h0M229.4 97.0h0M196.9 97.0h0M217.2 96.8h0M208.7 93.5h0M191.0 96.9h0M223.6 96.9h0M218.3 97.3h0M210.0 95.6h0M214.9 97.8h0M209.5 97.0h0M210.3 96.3h0M218.3 95.3h0M219.0 96.6h0M204.7 96.3h0M206.0 97.2h0M208.7 94.4h0M194.8 97.5h0M213.4 96.6h0M234.4 97.3h0M207.8 96.4h0M222.0 96.9h0M213.6 96.3h0M202.6 96.4h0M195.7 97.6h0M222.2 96.6h0M210.9 95.3h0M217.3 96.7h0M219.0 95.7h0M214.7 97.2h0M231.1 96.8h0M231.9 97.0h0M206.7 95.8h0M206.0 94.4h0M224.1 97.5h0M209.1 96.9h0M206.1 96.5h0M204.5 97.0h0M219.0 94.9h0M218.9 95.7h0M197.6 96.7h0M216.4 97.7h0M201.0 96.6h0M208.6 97.0h0M222.0 97.1h0M220.4 95.5h0M209.4 97.2h0M193.7 97.2h0M220.9 96.6h0M213.4 96.7h0M212.5 96.7h0M228.0 96.4h0M203.0 96.5h0M220.8 97.1h0M204.0 97.6h0M212.3 93.2h0M213.4 95.5h0M221.7 95.6h0M203.8 96.2h0M213.3 91.6h0M207.5 94.1h0M207.9 97.1h0M229.9 96.7h0M213.8 94.8h0M212.9 93.7h0M218.8 95.9h0M217.2 97.9h0M211.1 97.0h0M210.1 97.9h0M221.2 96.7h0M212.0 96.9h0M225.0 97.0h0M216.6 94.0h0M212.8 96.0h0M198.6 97.5h0M218.5 97.7h0M208.1 96.5h0M212.7 93.6h0M205.3 95.0h0M215.9 95.9h0M217.0 95.2h0M219.0 97.2h0M201.9 96.7h0M228.4 97.7h0M201.5 96.4h0M206.7 95.0h0M216.5 93.4h0M223.5 97.9h0M202.4 97.0h0M203.5 96.7h0M229.3 97.0h0M205.7 97.9h0M221.4 97.2h0M209.4 96.8h0M220.4 95.5h0M235.1 97.0h0M216.0 97.1h0M203.2 97.6h0M207.0 96.6h0M219.2 97.7h0M192.3 97.5h0M212.1 93.4h0M217.5 96.8h0M209.1 97.1h0M198.0 97.7h0M210.0 96.9h0M209.3 95.5h0M221.0 96.8h0M221.1 97.0h0M214.0 93.2h0M213.5 97.4h0M213.0 95.6h0M193.2 97.4h0M197.0 97.6h0M214.8 94.0h0M217.1 95.9h0M205.3 95.7h0M214.1 97.0h0M209.9 96.8h0M208.6 96.6h0M229.0 97.6h0M217.0 95.1h0M205.5 97.4h0M203.6 97.3h0M215.1 97.9h0M209.5 97.2h0M214.0 94.6h0M206.5 97.7h0M225.3 96.7h0M190.9 97.0h0M208.2 93.4h0M214.9 98.0h0M205.2 96.3h0M204.6 96.2h0M209.6 97.0h0M219.9 96.7h0M223.2 97.2h0M205.6 96.9h0M213.8 97.5h0M197.8 97.4h0M222.8 96.3h0M217.0 95.0h0M210.4 93.4h0M221.3 95.9h0M204.4 96.9h0M217.5 96.0h0M218.9 97.0h0M220.7 97.1h0M209.4 97.1h0M223.7 96.0h0M223.7 96.4h0M209.5 97.1h0M212.0 96.9h0M210.6 96.2h0M213.1 97.5h0M220.7 97.5h0M197.0 96.4h0M193.6 96.8h0M194.8 97.4h0M228.3 97.5h0M229.9 96.7h0M222.9 95.9h0M205.9 97.2h0M200.1 96.3h0M207.9 97.2h0M214.8 97.3h0M201.1 96.6h0M216.4 94.7h0M232.0 97.3h0M212.6 97.2h0M191.7 97.4h0M230.0 97.5h0M225.0 97.2h0M208.7 95.9h0M233.6 97.2h0M209.9 97.6h0M200.9 97.7h0M217.5 97.1h0M195.9 97.2h0M203.2 97.5h0M207.7 94.7h0M231.2 97.5h0M216.3 96.3h0M219.2 96.6h0M218.7 97.6h0M216.5 93.8h0M212.3 97.4h0M193.6 97.2h0M205.1 97.4h0M196.7 97.5h0M195.0 97.2h0M210.5 98.1h0M212.3 95.4h0M201.3 97.2h0M211.9 96.1h0M230.4 97.6h0M210.2 97.8h0M227.8 97.5h0M225.1 95.7h0M224.4 96.5h0M196.3 97.4h0M207.6 95.9h0M224.4 96.8h0M203.0 95.3h0M212.9 94.1h0M218.2 97.3h0M213.0 94.1h0M223.8 97.1h0M213.6 94.6h0M218.1 97.4h0M198.5 97.5h0M211.2 96.6h0M218.2 96.9h0M215.7 97.3h0M196.3 97.0h0M200.7 97.3h0M225.1 97.5h0M224.7 97.7h0M214.6 95.7h0M216.2 96.4h0M214.9 95.9h0M212.9 97.1h0M213.6 95.1h0M223.6 97.5h0M202.3 96.8h0M207.4 96.7h0M197.7 96.5h0M209.4 97.3h0M208.3 97.6h0M207.8 96.8h0M223.6 96.9h0M203.7 97.6h0M197.5 96.9h0M217.0 97.4h0M210.4 96.6h0M209.3 96.1h0M212.8 94.5h0M202.9 96.0h0M204.4 96.7h0M212.0 97.0h0M234.2 96.8h0M219.6 98.0h0M210.0 96.0h0M220.1 95.6h0M200.8 97.3h0M226.2 97.4h0M213.8 96.5h0M235.9 97.2h0M226.2 97.5h0M208.3 95.5h0M200.2 96.9h0M228.7 97.6h0M216.6 97.3h0M211.2 98.0h0M224.7 96.6h0M217.8 95.7h0M220.6 97.0h0M222.3 96.9h0M224.8 97.0h0M209.3 96.9h0M205.3 96.8h0M213.7 96.0h0M222.2 97.6h0M215.2 95.1h0M188.9 97.4h0M217.3 95.6h0M217.6 96.9h0M194.7 97.5h0M201.9 97.0h0M232.2 97.5h0M205.9 96.5h0M218.1 96.7h0M223.5 97.1h0M237.5 96.8h0M226.6 96.9h0M199.5 97.0h0M209.8 96.8h0M215.3 97.6h0M225.5 97.0h0M210.7 96.3h0M218.7 96.2h0M200.4 97.1h0M205.3 97.4h0M233.7 97.5h0M202.1 96.7h0M215.3 96.3h0M215.7 97.4h0M212.7 96.1h0M222.0 96.3h0M205.8 94.9h0M209.2 97.0h0M202.6 95.7h0M211.3 94.3h0M202.5 95.4h0M211.3 97.1h0M200.6 97.4h0M216.1 95.3h0M204.8 97.0h0M216.1 97.9h0M213.3 96.6h0M218.3 96.6h0M206.7 97.6h0M215.6 97.1h0M213.9 91.2h0M213.2 94.9h0M201.5 96.9h0M216.5 95.8h0M197.7 97.5h0M217.5 94.7h0M216.3 97.8h0M214.6 96.3h0M233.8 96.6h0M216.1 97.6h0M203.7 97.5h0M202.5 97.7h0M207.8 96.0h0M217.8 97.1h0M214.1 96.1h0M205.5 97.3h0M220.9 96.8h0M214.1 92.3h0M204.5 96.0h0M195.2 97.4h0M205.1 94.2h0M214.9 96.7h0M205.5 95.1h0M199.9 97.6h0M227.4 96.8h0M205.7 97.3h0M223.2 96.4h0M208.2 96.8h0M209.8 97.1h0M206.5 96.5h0M197.3 97.6h0M196.8 96.6h0M230.1 97.1h0M210.8 95.4h0M214.7 96.4h0M223.7 97.3h0M195.4 97.3h0M217.9 97.1h0M220.8 96.8h0M188.4 97.2h0M217.9 94.9h0M221.7 96.6h0M218.8 97.3h0M204.0 96.9h0M216.1 95.3h0M213.4 94.6h0M195.2 96.7h0M206.4 96.8h0M199.3 97.8h0M218.3 96.0h0M217.8 97.2h0M203.3 96.7h0M220.8 96.0h0M225.3 96.8h0M204.6 96.6h0M210.8 92.6h0M210.9 95.5h0M207.5 95.1h0M209.1 97.6h0M211.4 96.3h0M225.4 97.2h0M213.3 95.5h0M225.2 96.3h0M202.0 96.0h0M205.7 96.2h0M198.8 96.7h0M212.3 97.0h0M207.0 95.5h0M206.2 95.5h0M215.3 96.5h0M210.1 96.6h0M206.2 95.1h0M220.0 94.4h0M202.3 97.5h0M205.9 96.1h0M209.8 94.7h0M211.1 97.3h0M223.9 97.2h0M216.4 96.2h0M199.3 97.5h0M222.5 97.5h0M208.4 95.7h0M207.1 96.2h0M200.4 97.6h0M227.8 97.6h0M209.0 97.6h0M208.0 96.0h0M230.3 97.1h0M220.7 96.9h0M220.0 97.4h0M212.8 95.3h0M219.9 96.8h0M217.5 95.8h0M209.4 95.3h0M215.5 94.8h0M211.1 96.8h0M208.6 95.6h0M213.4 96.1h0M204.6 97.8h0M210.5 97.8h0M203.6 97.2h0M224.2 96.6h0M224.0 97.4h0M217.9 95.0h0M202.3 97.5h0M210.9 95.8h0M202.8 97.6h0M198.8 97.3h0M214.6 94.6h0M213.4 94.3h0M208.0 95.6h0M223.9 97.6h0M214.7 96.6h0M205.2 97.7h0M229.4 97.3h0M208.1 95.2h0M200.7 96.9h0M211.6 93.2h0M209.2 96.6h0M213.1 95.7h0M216.6 96.9h0M198.3 97.6h0M205.9 97.1h0M221.1 97.5h0M195.2 97.4h0M225.1 97.5h0M208.2 96.0h0M216.3 97.1h0M216.0 97.2h0M211.0 95.9h0M207.1 97.0h0M208.2 96.1h0M214.5 95.5h0M222.3 97.2h0M212.2 97.4h0M219.6 97.1h0M210.6 94.1h0M210.7 94.4h0M228.7 96.8h0M221.2 96.8h0M211.1 95.9h0M207.2 95.3h0M212.9 90.3h0M200.3 97.5h0M211.8 97.7h0M222.8 97.2h0M213.2 98.1h0M218.9 97.5h0M200.0 96.9h0M215.0 94.5h0M209.9 95.3h0M219.3 96.3h0M219.4 95.6h0M202.0 97.4h0M202.9 97.2h0M194.0 96.6h0M210.9 97.1h0M190.2 97.5h0M199.9 97.4h0M215.9 96.8h0M221.5 96.8h0M226.6 97.4h0M215.9 97.3h0M207.9 97.6h0M223.9 97.7h0M198.5 97.7h0M221.3 97.2h0M203.4 96.8h0M200.8 96.9h0M231.3 96.9h0M217.5 97.0h0M202.8 97.9h0M208.7 95.3h0M207.3 97.4h0M212.9 91.5h0M206.4 96.3h0M210.9 94.3h0M231.3 97.0h0M208.8 95.1h0M214.9 97.2h0M198.1 97.3h0M216.6 96.3h0M210.0 97.9h0M220.2 97.9h0M199.0 97.1h0M197.2 97.6h0M206.5 96.7h0M206.4 96.6h0M213.7 91.4h0M213.0 96.1h0M209.4 93.8h0M202.1 97.0h0M202.1 97.1h0M221.6 97.2h0M209.3 98.0h0M219.3 97.4h0M215.3 96.7h0M230.4 97.4h0M220.7 96.7h0M191.0 96.6h0M210.9 97.0h0M235.8 97.2h0M200.6 97.1h0M198.9 97.7h0M234.9 97.3h0M226.3 97.3h0M223.1 96.5h0M219.5 96.9h0M215.2 97.1h0M207.1 97.2h0M199.6 97.5h0M213.8 96.0h0M221.6 95.5h0M199.2 97.0h0M212.5 97.7h0M227.0 97.5h0M206.2 97.1h0M231.8 97.0h0M213.0 96.3h0M217.0 95.5h0M202.5 97.0h0M218.2 97.2h0M217.6 96.1h0M213.0 95.2h0M223.6 97.0h0M213.1 97.0h0M219.7 95.5h0M223.3 97.7h0M216.3 94.9h0M223.9 97.0h0M226.5 96.9h0M210.2 98.0h0M202.4 96.9h0M221.5 96.3h0M236.2 97.0h0M216.6 96.3h0M215.4 94.6h0M214.4 95.9h0M203.9 97.2h0M210.3 97.5h0M215.2 96.6h0M202.8 96.9h0M207.4 97.6h0M217.0 96.7h0M210.7 95.5h0M222.2 97.1h0M209.4 95.4h0M212.4 95.8h0M205.9 96.5h0M205.7 97.5h0M205.6 96.4h0M215.0 96.2h0M209.8 96.9h0M214.4 96.7h0M211.6 92.7h0M229.1 97.4h0M220.0 97.3h0M215.1 96.6h0M205.2 97.4h0M192.0 97.5h0M225.7 97.4h0M198.5 97.3h0M200.5 96.8h0M206.9 96.6h0M215.3 94.5h0M197.1 97.6h0M216.8 96.3h0M198.1 97.3h0M221.4 97.3h0M202.9 96.7h0M240.0 97.2h0M229.2 97.0h0M207.6 96.9h0M204.3 97.6h0M208.5 97.5h0M213.0 96.5h0M214.6 98.2h0M218.7 96.1h0M228.7 97.1h0M208.1 96.2h0M214.6 97.2h0M210.0 95.7h0M223.6 96.6h0M215.8 96.1h0M194.6 96.8h0M217.2 97.5h0M202.5 97.5h0M197.7 96.8h0M217.4 96.7h0M212.0 93.9h0M204.2 95.6h0M213.7 91.6h0M227.4 97.8h0M194.4 97.3h0M223.5 96.5h0M212.7 96.6h0M212.7 96.9h0M213.5 97.0h0M235.9 96.5h0M201.6 96.8h0M201.4 97.1h0M202.6 97.2h0M209.5 96.4h0M217.7 96.5h0M202.9 97.4h0M223.3 96.8h0M226.4 97.0h0M215.1 95.4h0M210.0 96.9h0M218.6 97.0h0M213.0 96.1h0M200.4 96.0h0M210.7 96.6h0M227.7 96.9h0M223.9 96.9h0M207.5 96.3h0M215.4 95.1h0M219.8 96.3h0M214.0 97.5h0M220.9 96.1h0M210.0 96.3h0M227.1 96.6h0M212.4 95.1h0M229.9 97.2h0M209.3 96.0h0M199.8 96.9h0M217.9 95.4h0M220.5 96.7h0M212.0 97.1h0M215.8 97.8h0M211.7 97.3h0M223.4 96.1h0M211.3 97.3h0M221.6 96.5h0M213.8 97.8h0M196.8 97.6h0M210.5 97.2h0M197.5 97.0h0M217.5 95.3h0M201.3 96.9h0M215.3 97.0h0M215.5 95.0h0M219.3 96.0h0M199.5 97.5h0M204.7 96.5h0M206.5 97.2h0M227.4 97.1h0M200.6 96.9h0M209.3 97.3h0M208.1 96.1h0M207.0 96.4h0M222.6 97.0h0M219.9 96.1h0M209.6 95.4h0M216.3 95.2h0M206.3 96.3h0M223.7 97.5h0M209.1 95.9h0M224.2 97.8h0M222.7 97.1h0M212.9 96.0h0M197.7 97.4h0M203.8 96.6h0M218.3 97.5h0M208.9 95.2h0M213.0 93.9h0M211.8 97.9h0M202.5 96.4h0M219.0 94.3h0M215.0 97.9h0M204.8 96.2h0M213.8 96.4h0M203.2 97.5h0M213.0 98.2h0M199.3 96.0h0M226.5 96.8h0M215.4 96.6h0M225.1 97.7h0M216.5 96.0h0M218.6 96.8h0M222.6 97.0h0M202.3 97.2h0M214.1 93.9h0M218.2 97.6h0M215.6 97.0h0M197.7 97.6h0M225.1 97.4h0M218.4 97.5h0M196.6 97.2h0M218.9 97.6h0M231.8 97.4h0M214.7 96.4h0M211.6 92.4h0M225.9 97.5h0M213.5 97.1h0M219.4 95.8h0M202.7 96.2h0M213.1 96.0h0M218.4 97.7h0M203.8 97.1h0M196.8 97.2h0M218.7 96.3h0M201.3 97.7h0M213.8 94.5h0M208.0 96.5h0M212.4 94.6h0M223.5 97.8h0M196.7 97.5h0M211.7 96.2h0M200.1 97.6h0M216.4 96.9h0M210.1 97.1h0M204.3 97.3h0M213.8 93.2h0M211.7 96.8h0M218.2 97.1h0M199.2 97.3h0M217.9 97.5h0M212.1 98.0h0M215.5 96.1h0M217.9 94.3h0M213.6 92.5h0M219.4 96.8h0M201.3 97.7h0M204.8 97.4h0M218.2 94.2h0M212.4 97.0h0M228.4 96.9h0M215.2 94.6h0M212.9 96.6h0M212.1 96.1h0M212.5 96.2h0M209.2 95.2h0M200.4 97.1h0M225.8 97.6h0M219.0 97.4h0M216.3 97.6h0M202.9 96.7h0M218.6 97.0h0M207.2 95.5h0M214.1 95.0h0M208.1 96.0h0M215.7 96.4h0M209.9 96.8h0M201.2 96.9h0M194.7 97.3h0M208.9 97.2h0M218.9 97.4h0M220.5 97.5h0M205.4 96.7h0M219.4 97.4h0M226.3 97.6h0M209.2 93.3h0M215.7 97.9h0M235.4 97.0h0M220.4 97.0h0M209.5 98.0h0M208.4 95.3h0M223.0 96.6h0M223.5 97.2h0M208.6 96.4h0M220.8 96.4h0M213.3 97.1h0M218.3 96.0h0M207.8 97.5h0M208.9 95.1h0M206.6 95.5h0M222.9 96.6h0M215.4 97.2h0M220.8 97.4h0M214.8 97.2h0M212.5 96.0h0M216.2 97.0h0M205.1 97.4h0M218.9 96.2h0M212.0 96.1h0M232.3 97.1h0M196.5 97.5h0M208.0 97.2h0M211.6 97.5h0M213.6 97.9h0M218.2 97.3h0M212.2 96.4h0M201.1 97.3h0M218.5 97.8h0M217.0 96.3h0M206.2 97.8h0M221.0 95.9h0M215.0 97.0h0M219.5 96.6h0M207.9 97.6h0M213.6 92.7h0M208.2 97.1h0M192.4 97.6h0M195.8 96.7h0M215.1 95.9h0M205.9 97.7h0M202.1 96.7h0M226.0 97.6h0M196.1 96.9h0M227.1 97.1h0M214.9 98.0h0M210.8 96.9h0M195.9 96.6h0M221.7 97.0h0M204.8 97.7h0M215.6 96.4h0M221.4 96.1h0M205.7 97.5h0M206.1 97.0h0M204.9 96.8h0M201.7 96.7h0M210.7 93.9h0M219.0 95.8h0M227.5 97.3h0M211.4 97.4h0M199.1 97.3h0M214.3 96.1h0M212.8 97.2h0M212.3 97.7h0M226.0 97.4h0M199.7 97.6h0M226.3 97.3h0M230.9 96.9h0M220.2 96.1h0M213.0 96.7h0M210.6 94.2h0M202.4 97.2h0M197.8 97.3h0M222.3 97.0h0M208.8 94.6h0M213.8 95.9h0M218.8 95.4h0M207.8 95.9h0M214.8 96.2h0M209.1 96.3h0M197.7 97.4h0M215.7 96.3h0M223.5 96.5h0M218.4 96.0h0M210.9 97.0h0M212.5 96.4h0M198.1 97.0h0M203.9 97.2h0M205.1 97.0h0M206.1 96.9h0M216.8 97.2h0M213.0 95.6h0M221.9 96.9h0M223.5 96.6h0M232.5 97.0h0M204.4 97.1h0M219.0 96.4h0M217.2 92.9h0M215.2 95.3h0M202.9 97.9h0M206.2 85.3h0M208.6 92.7h0M207.0 92.5h0M206.5 93.4h0M207.4 81.8h0M209.6 95.0h0M206.7 94.8h0M210.0 94.5h0M208.0 90.4h0M206.3 75.7h0M210.3 91.6h0M205.9 86.3h0M207.9 84.1h0M208.4 82.9h0M209.2 92.6h0M209.1 93.0h0M210.3 94.1h0M205.3 88.7h0M206.6 90.3h0M208.4 85.7h0M209.1 94.0h0M209.6 85.2h0M206.9 85.8h0M206.7 94.3h0M207.6 92.2h0M206.7 94.0h0M206.8 94.2h0M208.2 95.1h0M206.5 93.4h0M208.9 91.6h0M205.7 93.3h0M207.5 87.9h0M206.9 93.7h0M208.1 95.1h0M210.3 93.4h0M210.0 77.7h0M209.2 90.7h0M209.9 91.2h0M207.4 94.1h0M206.1 86.4h0M210.3 91.3h0M209.0 90.8h0M207.8 92.6h0M208.1 94.4h0M209.1 84.1h0M207.8 91.6h0M210.3 94.3h0M208.9 91.1h0M207.0 74.7h0M205.4 95.1h0M208.6 86.3h0M208.9 95.1h0M208.1 93.5h0M208.8 91.9h0M207.0 95.2h0M206.8 93.4h0M207.0 90.8h0M208.6 94.4h0M209.6 87.9h0M207.5 92.6h0M209.9 91.9h0M210.2 95.1h0M210.2 94.9h0M209.9 94.8h0M209.7 78.4h0M208.8 93.9h0M207.2 94.7h0M205.9 78.1h0M207.0 94.9h0M206.1 93.8h0M206.2 91.8h0M210.0 89.4h0M209.1 93.6h0M208.8 88.9h0M210.4 83.6h0M208.4 90.0h0M205.9 85.6h0M209.0 83.7h0M207.1 95.0h0M205.9 93.4h0M206.8 79.3h0M205.8 87.2h0M207.7 93.3h0M206.5 92.6h0M207.1 94.3h0M206.3 85.1h0M207.4 88.4h0M208.9 94.6h0M210.1 93.4h0M206.2 94.7h0M206.6 94.6h0M208.5 93.8h0M205.3 90.1h0M209.0 87.5h0M210.1 90.4h0M206.1 91.7h0M210.2 94.1h0M207.8 94.9h0M209.9 94.5h0M209.4 94.7h0M208.6 89.3h0M209.2 94.0h0M207.7 93.6h0M205.9 93.1h0M206.0 91.9h0M208.1 92.3h0M207.7 95.0h0M206.3 92.3h0M208.8 87.8h0M210.3 82.1h0M209.6 93.2h0M209.2 90.9h0M209.7 92.3h0M210.4 95.0h0M209.4 88.2h0M209.5 94.7h0M209.6 87.5h0M208.5 85.5h0M205.8 84.2h0M207.9 92.9h0M208.7 91.9h0M208.0 91.1h0M205.2 89.3h0M208.8 92.5h0M205.6 81.4h0M209.1 92.6h0M205.7 92.6h0M209.3 84.1h0M209.5 93.0h0M208.5 94.1h0M207.2 94.0h0M208.7 93.0h0M208.5 90.1h0M207.3 92.3h0M208.6 85.3h0M206.1 89.6h0M207.4 78.3h0M208.4 94.5h0M209.4 92.9h0M205.6 86.0h0M205.5 84.9h0M208.8 94.3h0M208.7 93.5h0M208.5 84.8h0M205.2 88.3h0M206.8 93.2h0M210.1 83.3h0M207.2 75.5h0M205.4 92.6h0M207.9 93.6h0M214.5 94.0h0M216.9 95.0h0M217.8 82.5h0M219.2 94.1h0M217.1 84.6h0M214.8 88.3h0M215.9 92.7h0M217.6 79.1h0M214.7 91.7h0M216.6 94.5h0M216.6 91.5h0M217.5 84.3h0M215.9 90.1h0M216.8 74.3h0M219.1 85.5h0M217.1 89.4h0M217.4 91.4h0M219.5 87.2h0M214.5 94.1h0M219.4 94.6h0M216.5 88.0h0M218.6 90.9h0M215.3 91.8h0M216.4 74.6h0M217.3 91.2h0M219.6 86.2h0M216.6 93.7h0M217.3 94.4h0M218.9 92.7h0M218.3 90.6h0M218.5 95.2h0M218.9 92.2h0M215.2 94.4h0M216.1 92.1h0M219.2 88.3h0M217.6 94.2h0M219.6 92.2h0M214.9 92.8h0M217.9 82.8h0M218.3 95.1h0M216.0 91.8h0M217.8 94.8h0M215.9 93.5h0M214.7 90.9h0M215.5 93.8h0M215.5 87.1h0M215.0 85.0h0M217.9 92.7h0M216.4 90.8h0M216.8 90.5h0M214.5 93.6h0M218.1 93.8h0M218.9 90.5h0M214.6 92.7h0M215.7 89.0h0M219.1 95.0h0M214.6 86.5h0M216.6 94.3h0M217.6 87.8h0M218.6 84.5h0M218.0 87.4h0M214.9 94.7h0M216.8 90.1h0M216.5 95.0h0M215.1 93.1h0M219.0 90.3h0M219.0 81.6h0M218.5 82.1h0M215.8 93.2h0M215.7 95.0h0M219.3 90.9h0M217.7 92.8h0M217.3 92.6h0M218.2 93.4h0M215.9 94.3h0M216.1 81.0h0M219.5 94.9h0M218.9 88.8h0M214.8 92.6h0M219.0 93.5h0M219.2 90.3h0M219.6 88.5h0M215.1 82.1h0M216.8 93.8h0M218.7 84.1h0M217.8 85.5h0M215.4 92.9h0M218.3 92.1h0M218.1 81.0h0M216.2 94.3h0M219.7 95.0h0M215.8 85.4h0M214.6 94.0h0M219.0 94.7h0M217.5 95.0h0M216.7 94.6h0M216.5 90.3h0M216.7 90.9h0M218.5 94.4h0M219.2 91.5h0M215.2 85.7h0M219.0 89.9h0M218.8 92.5h0M215.4 94.8h0M216.8 92.6h0M216.0 83.0h0M214.5 92.4h0M215.3 81.8h0M219.3 92.5h0M215.9 94.8h0M215.6 91.5h0M219.4 86.3h0M214.8 83.4h0M214.6 94.5h0M217.7 94.3h0M219.2 81.4h0M215.3 91.3h0M218.7 83.0h0M217.4 92.9h0M217.4 92.3h0M217.4 88.3h0M216.3 91.3h0M216.7 94.1h0M215.7 89.0h0M218.4 87.8h0M218.9 92.0h0M214.9 91.9h0M215.2 94.6h0M216.3 89.2h0M218.8 82.5h0M218.4 91.0h0M219.1 88.4h0M215.3 90.9h0M215.3 94.5h0M218.6 94.1h0M219.5 93.2h0M214.4 87.7h0M219.3 92.5h0M217.3 88.9h0M217.3 94.1h0M218.0 85.8h0M214.8 92.6h0M214.4 93.7h0M215.5 84.3h0M216.1 94.0h0M216.1 75.8h0M215.4 89.3h0M216.4 93.8h0M214.8 84.8h0M215.5 95.0h0M78.8 182.7h0M123.5 182.7h0M79.6 182.9h0M122.0 183.0h0M122.9 183.0h0M101.3 182.6h0M108.6 182.8h0M122.9 182.6h0M121.8 182.8h0M112.4 182.7h0M126.8 182.8h0M124.1 182.4h0M132.4 182.8h0M83.4 182.8h0M119.3 182.7h0M117.7 182.9h0M108.5 182.4h0M141.4 182.8h0M143.1 183.0h0M128.9 183.0h0M91.3 183.0h0M139.0 183.0h0M139.7 182.5h0M146.5 183.0h0M83.1 182.9h0M91.1 182.9h0M103.6 182.6h0M88.0 183.0h0M140.5 183.0h0M104.0 183.0h0M98.9 182.6h0M140.7 182.6h0M114.9 182.9h0M131.2 182.8h0M133.8 182.9h0M141.9 182.8h0M112.1 182.7h0M97.4 182.8h0M139.3 182.8h0M133.7 182.7h0M84.6 182.9h0M135.2 183.0h0M116.9 182.9h0M112.5 183.0h0M87.3 182.8h0M88.0 182.7h0M133.5 183.0h0M128.3 182.9h0M141.3 182.3h0M120.8 182.9h0M142.7 182.7h0M94.7 182.9h0M133.7 182.7h0M131.9 182.6h0M119.7 183.0h0M140.5 183.0h0M95.2 182.8h0M113.4 182.7h0M126.1 182.8h0M110.3 183.0h0M142.0 182.9h0M87.1 183.0h0M92.3 182.9h0M120.2 182.7h0M79.0 182.9h0M87.8 183.0h0M119.7 182.9h0M107.6 182.9h0M143.7 182.9h0M110.6 183.0h0M105.0 182.8h0M140.5 182.7h0M142.4 183.0h0M123.6 182.6h0M123.6 182.9h0M83.6 182.4h0M80.3 182.8h0M136.2 182.7h0M141.9 182.6h0M107.3 182.9h0M92.4 182.8h0M127.3 182.7h0M81.8 182.7h0M135.1 183.0h0M106.9 182.8h0M107.3 182.9h0M112.4 182.9h0M105.2 182.7h0M83.8 182.5h0M118.2 182.8h0M95.1 182.9h0M126.7 182.7h0M119.2 183.0h0M102.2 183.0h0M112.1 183.0h0M94.5 182.6h0M110.0 182.8h0M103.7 182.9h0M113.9 182.5h0M146.4 182.6h0M81.6 183.0h0M84.1 182.6h0M80.9 182.7h0M90.3 182.8h0M91.7 182.4h0M140.8 182.9h0M110.1 183.0h0M129.5 182.9h0M102.7 182.9h0M107.6 182.9h0M141.2 182.7h0M93.7 182.9h0M90.6 182.8h0M82.1 182.7h0M85.6 182.9h0M144.4 182.9h0M90.5 182.9h0M119.2 182.9h0M98.5 182.1h0M120.5 182.8h0M119.4 182.1h0M133.5 182.8h0M80.3 183.0h0M100.6 183.0h0M88.8 183.0h0M106.2 182.8h0M120.5 182.8h0M78.9 182.9h0M128.7 182.5h0M136.0 182.8h0M124.0 182.9h0M140.9 182.4h0M106.5 183.0h0M99.2 183.0h0M114.3 182.9h0M144.7 182.8h0M127.8 182.8h0M93.0 183.0h0M84.8 182.9h0M82.4 182.9h0M104.6 182.9h0M101.6 183.0h0M106.4 182.8h0M80.2 183.0h0M129.1 182.9h0M95.9 182.8h0M135.3 182.9h0M98.2 182.8h0M79.9 182.7h0M137.6 182.9h0M141.5 182.9h0M79.6 182.7h0M96.9 182.7h0M127.9 182.6h0M100.3 182.4h0M84.4 182.8h0M112.5 182.2h0M112.8 182.7h0M134.2 182.5h0M113.0 182.8h0M85.3 183.0h0M94.9 182.9h0M116.4 182.5h0M140.5 182.7h0M144.9 182.8h0M131.7 182.8h0M128.3 182.7h0M79.8 182.2h0M81.5 182.8h0M93.3 182.7h0M90.9 182.5h0M131.0 182.4h0M135.6 183.0h0M124.1 182.8h0M140.9 182.7h0M137.8 183.0h0M136.8 182.6h0M126.0 182.6h0M131.7 182.8h0M83.3 182.5h0M117.8 182.5h0M132.5 182.7h0M85.1 182.6h0M136.1 182.8h0M138.9 182.9h0M130.9 183.0h0M104.7 183.0h0M99.5 182.9h0M112.6 182.9h0M79.4 182.8h0M91.5 182.5h0M95.7 182.9h0M137.5 183.0h0M122.6 183.0h0M123.6 182.7h0M130.0 183.0h0M107.0 182.6h0M139.9 182.5h0M113.0 182.5h0M101.5 182.7h0M80.9 182.9h0M89.9 183.0h0M93.8 182.9h0M105.7 182.5h0M133.0 182.7h0M125.3 182.7h0M100.6 182.8h0M92.3 182.8h0M132.4 182.9h0M89.8 182.5h0M144.3 182.3h0M88.2 182.5h0M115.2 182.8h0M119.8 182.7h0M79.5 183.0h0M119.5 182.9h0M93.4 182.5h0M96.7 183.0h0M83.9 182.9h0M142.9 182.6h0M95.7 182.8h0M108.1 182.6h0M88.1 182.6h0M92.9 182.4h0M127.4 182.6h0M99.1 182.7h0M120.5 182.8h0M105.0 182.8h0M113.1 182.9h0M102.1 182.7h0M95.0 182.8h0M122.4 183.0h0M88.3 182.9h0M137.6 183.0h0M117.5 183.0h0M85.9 182.7h0M86.2 182.9h0M108.2 182.8h0M85.2 182.8h0M88.1 183.0h0M93.9 183.0h0M123.3 183.0h0M93.9 182.5h0M79.2 182.6h0M111.2 182.6h0M118.0 182.8h0M82.2 183.0h0M111.8 182.9h0M82.4 182.9h0M97.9 183.0h0M141.4 183.0h0M97.9 182.9h0M145.4 182.6h0M107.5 182.9h0M109.7 183.0h0M144.5 182.4h0M93.4 182.5h0M142.7 182.9h0M121.9 183.0h0M118.1 182.8h0M139.1 182.8h0M136.8 182.6h0M124.8 183.0h0M131.4 183.0h0M125.1 182.8h0M96.4 182.8h0M136.8 182.5h0M78.5 182.8h0M137.4 183.0h0M142.5 182.7h0M90.5 183.0h0M126.8 182.9h0M102.9 182.9h0M139.4 182.8h0M137.5 183.0h0M95.4 182.8h0M123.1 182.9h0M80.8 182.6h0M130.9 183.0h0M102.6 182.3h0M90.7 182.8h0M102.3 182.9h0M91.9 183.0h0M110.0 182.7h0M92.5 182.5h0M92.9 182.6h0M94.9 182.6h0M97.0 182.7h0M108.9 183.0h0M86.0 182.9h0M116.4 182.4h0M138.9 182.7h0M99.0 182.6h0M121.6 182.7h0M110.8 182.7h0M110.2 182.9h0M98.2 182.8h0M140.7 182.7h0M143.6 183.0h0M141.5 182.9h0M129.5 182.7h0M86.8 182.7h0M111.2 182.9h0M111.7 183.0h0M146.3 182.7h0M127.7 182.9h0M144.9 182.7h0M139.3 183.0h0M123.1 182.8h0M88.3 182.9h0M140.1 182.9h0M143.5 182.8h0M79.8 182.8h0M86.2 182.6h0M116.9 182.8h0M87.7 182.8h0M81.6 183.0h0M117.7 183.0h0M81.7 182.7h0M108.8 182.9h0M100.8 183.0h0M111.7 183.0h0M119.7 182.5h0M121.9 182.7h0M107.1 182.6h0M103.6 182.7h0M108.5 182.6h0M88.7 182.9h0M108.8 182.8h0M118.7 182.8h0M92.1 182.9h0M114.2 182.8h0M88.3 182.9h0M94.2 182.8h0M79.9 182.7h0M107.7 183.0h0M137.5 182.9h0M93.8 182.9h0M95.3 182.9h0M141.5 182.7h0M142.3 182.5h0M91.6 182.9h0M86.2 182.8h0M84.7 183.0h0M89.7 183.0h0M125.9 182.9h0M80.3 182.6h0M134.4 183.0h0M93.4 182.7h0M116.5 182.7h0M140.1 182.9h0M135.8 182.7h0M122.5 183.0h0M115.4 183.0h0M129.3 182.7h0M117.7 182.8h0M85.4 182.7h0M86.6 182.8h0M133.1 183.0h0M104.2 182.9h0M96.1 182.9h0M140.8 182.9h0M118.5 183.0h0M145.4 182.9h0M109.1 182.8h0M122.2 183.0h0M125.8 182.8h0M137.2 182.6h0M104.4 182.7h0M80.6 182.8h0M100.0 182.7h0M100.4 182.8h0M131.9 183.0h0M145.7 182.5h0M142.4 182.6h0M81.7 183.0h0M138.2 182.6h0M128.5 182.9h0M144.4 182.8h0M111.2 182.7h0M104.7 183.0h0M103.0 182.6h0M135.5 182.8h0M91.9 182.8h0M124.2 182.4h0M131.9 182.9h0M101.4 182.6h0M103.7 182.8h0M86.0 182.7h0M113.3 182.7h0M137.7 182.7h0M139.0 182.8h0M114.5 182.9h0M110.6 183.0h0M128.3 182.6h0M103.7 182.9h0M115.0 182.7h0M129.3 182.3h0M141.8 183.0h0M86.3 182.9h0M126.0 182.8h0M134.7 182.7h0M143.3 182.1h0M125.4 182.5h0M125.0 182.8h0M102.5 182.7h0M133.3 182.9h0M116.1 182.9h0M136.2 182.8h0M79.5 182.6h0M109.3 182.9h0M83.1 183.0h0M81.6 182.9h0M104.4 182.8h0M134.3 182.7h0M107.3 182.8h0M135.1 182.8h0M114.2 183.0h0M105.4 182.6h0M131.7 182.2h0M139.7 182.8h0M136.3 182.9h0M90.0 183.0h0M145.8 182.8h0M109.1 183.0h0M136.3 183.0h0M111.9 182.8h0M85.2 182.8h0M138.1 182.7h0M95.6 182.7h0M115.5 183.0h0M101.8 182.7h0M103.7 182.7h0M108.2 182.9h0M131.8 182.9h0M87.8 183.0h0M140.5 183.0h0M130.4 182.7h0M129.5 182.8h0M123.2 182.6h0M83.0 182.9h0M85.7 183.0h0M134.6 183.0h0M80.9 183.0h0M113.2 182.4h0M145.0 183.0h0M114.2 182.7h0M128.7 183.0h0M129.5 182.8h0M107.1 182.5h0M115.5 178.6h0M130.2 176.4h0M115.9 178.3h0M119.0 180.9h0M120.3 177.3h0M132.0 181.7h0M118.7 176.7h0M123.0 179.5h0M129.4 182.3h0M132.5 180.4h0M130.4 176.1h0M130.2 177.7h0M126.2 182.1h0M121.6 177.7h0M118.3 177.2h0M124.2 177.4h0M130.6 179.9h0M125.7 182.1h0M129.3 176.2h0M127.0 177.2h0M124.4 180.0h0M129.3 181.5h0M124.8 181.7h0M128.2 178.6h0M125.9 181.2h0M121.3 177.4h0M121.8 176.9h0M114.4 179.7h0M114.8 176.8h0M120.9 176.7h0M213.6 179.1h0M206.2 180.8h0M193.3 181.6h0M212.5 177.6h0M222.8 181.7h0M222.8 181.5h0M208.0 181.1h0M222.8 181.2h0M222.3 181.6h0M226.6 181.8h0M203.9 181.2h0M220.9 181.9h0M217.4 180.7h0M205.3 180.8h0M215.5 180.8h0M214.1 177.3h0M210.4 180.9h0M211.9 181.3h0M219.2 180.1h0M210.2 180.0h0M206.3 180.3h0M206.0 181.8h0M221.2 181.5h0M224.3 181.8h0M235.5 181.4h0M200.9 181.8h0M204.4 179.9h0M221.6 181.9h0M215.2 180.3h0M209.1 180.9h0M215.8 180.4h0M232.7 181.4h0M214.5 179.8h0M212.1 179.9h0M210.0 180.5h0M197.9 181.0h0M200.9 181.9h0M206.2 181.9h0M207.1 180.2h0M206.9 180.6h0M219.7 181.0h0M209.0 181.0h0M182.1 181.5h0M215.1 180.1h0M220.6 182.0h0M225.0 181.7h0M221.1 180.3h0M210.3 179.5h0M226.8 182.1h0M230.2 180.9h0M205.2 180.6h0M218.8 181.2h0M198.8 181.4h0M194.6 181.2h0M194.9 182.0h0M217.4 181.9h0M205.1 181.8h0M209.3 182.1h0M206.8 181.0h0M224.4 180.9h0M197.3 181.1h0M222.4 181.4h0M200.0 182.1h0M241.2 181.1h0M226.5 181.8h0M215.7 180.9h0M217.3 182.3h0M214.3 178.9h0M207.1 180.0h0M203.7 179.5h0M227.8 181.3h0M213.4 180.7h0M226.8 181.8h0M222.3 181.1h0M190.4 181.9h0M219.0 181.0h0M213.4 180.4h0M211.8 179.3h0M217.2 180.5h0M212.5 176.9h0M209.9 181.2h0M228.7 182.1h0M232.6 181.6h0M221.1 181.2h0M209.1 181.4h0M191.5 181.9h0M203.5 182.0h0M208.5 180.4h0M218.7 181.4h0M196.7 181.2h0M201.2 181.1h0M218.7 181.6h0M212.6 180.1h0M220.2 180.3h0M227.1 182.1h0M196.1 181.8h0M210.3 180.0h0M213.1 178.8h0M218.3 179.9h0M231.2 182.0h0M194.9 182.0h0M214.6 181.4h0M199.3 181.9h0M232.4 181.6h0M205.3 181.0h0M207.6 181.7h0M209.8 180.6h0M197.7 181.9h0M205.3 182.4h0M218.5 182.2h0M203.0 181.4h0M231.9 182.0h0M210.1 181.7h0M213.6 181.3h0M202.3 181.0h0M205.6 181.6h0M220.4 179.9h0M218.7 182.1h0M218.2 180.4h0M215.1 179.0h0M222.1 180.5h0M209.6 181.0h0M227.7 180.8h0M212.8 180.6h0M212.1 181.0h0M201.1 181.7h0M207.3 180.1h0M238.4 181.2h0M220.6 179.5h0M203.0 180.4h0M227.1 181.8h0M226.0 181.3h0M226.1 182.0h0M199.5 181.9h0M197.5 181.0h0M182.4 180.9h0M207.7 179.1h0M196.5 181.4h0M237.5 181.7h0M211.2 180.4h0M227.3 182.1h0M208.9 182.1h0M227.2 182.1h0M232.8 181.5h0M218.5 179.4h0M216.3 180.7h0M210.9 181.9h0M196.4 181.6h0M218.4 180.1h0M208.6 180.1h0M213.3 181.2h0M199.1 180.8h0M209.5 178.3h0M217.4 178.8h0M219.9 180.5h0M229.0 182.1h0M215.8 181.5h0M225.2 182.1h0M216.9 179.5h0M213.3 181.1h0M224.1 181.6h0M201.6 181.4h0M213.3 182.2h0M199.1 182.1h0M219.3 181.0h0M215.2 180.5h0M196.7 181.5h0M228.6 182.1h0M217.5 178.3h0M206.4 180.3h0M213.6 181.2h0M229.9 181.5h0M208.5 181.5h0M201.0 180.8h0M210.1 175.0h0M222.0 180.4h0M223.6 181.9h0M202.5 180.7h0M217.4 180.0h0M234.0 181.3h0M224.3 181.8h0M205.4 179.0h0M232.9 181.5h0M220.5 182.1h0M219.5 182.2h0M197.5 182.0h0M207.6 182.1h0M201.3 181.2h0M209.6 180.4h0M200.7 180.3h0M207.8 178.6h0M229.2 181.7h0M223.4 181.8h0M206.1 181.3h0M230.5 181.0h0M206.1 181.3h0M224.9 181.8h0M211.7 182.5h0M214.7 179.8h0M231.9 181.8h0M192.7 180.6h0M181.7 181.4h0M228.1 181.0h0M209.4 178.9h0M217.1 180.3h0M231.4 181.3h0M206.5 180.0h0M193.4 180.8h0M210.9 182.1h0M235.6 181.6h0M226.3 182.0h0M191.6 181.4h0M204.7 181.8h0M214.1 180.4h0M214.9 182.2h0M220.7 181.2h0M205.1 181.2h0M226.3 181.9h0M209.2 182.2h0M216.5 178.8h0M219.6 180.3h0M218.1 179.7h0M231.6 182.0h0M190.0 181.5h0M209.7 181.4h0M191.3 181.6h0M210.6 179.6h0M213.5 180.3h0M212.4 180.5h0M201.4 181.5h0M212.8 178.2h0M215.3 180.5h0M219.6 180.2h0M222.4 181.6h0M240.6 181.7h0M203.2 180.5h0M230.5 181.4h0M208.6 181.0h0M234.7 181.6h0M198.6 180.7h0M195.5 182.1h0M217.6 181.0h0M226.4 182.1h0M215.7 179.7h0M202.7 180.1h0M201.4 181.9h0M199.3 182.0h0M212.9 178.8h0M196.3 181.6h0M208.1 180.8h0M197.3 181.8h0M201.7 181.3h0M236.7 181.8h0M220.9 181.5h0M184.5 181.6h0M216.3 181.0h0M222.3 181.3h0M210.5 182.0h0M226.2 181.1h0M202.7 181.0h0M215.5 181.5h0M217.3 181.1h0M206.2 181.8h0M208.9 179.9h0M207.8 181.9h0M203.5 180.7h0M203.9 180.6h0M208.5 181.8h0M218.6 179.9h0M208.5 179.5h0M211.7 178.6h0M209.1 181.8h0M210.1 179.8h0M224.2 182.1h0M209.1 179.6h0M217.1 181.7h0M207.5 182.1h0M216.7 179.7h0M217.1 181.7h0M210.4 180.6h0M220.8 180.6h0M218.2 180.8h0M215.7 180.7h0M200.2 181.6h0M191.3 181.5h0M196.0 181.8h0M224.0 182.1h0M210.4 182.1h0M216.9 181.1h0M207.3 181.2h0M228.9 182.0h0M228.0 181.3h0M205.4 181.4h0M211.3 180.4h0M216.2 179.6h0M222.4 181.1h0M217.0 181.6h0M223.0 181.6h0M222.6 182.0h0M201.4 181.1h0M223.8 181.8h0M212.9 175.2h0M226.2 181.3h0M205.1 181.9h0M203.6 181.8h0M206.9 182.1h0M204.6 180.8h0M228.7 181.0h0M212.0 181.5h0M215.8 179.7h0M212.2 181.6h0M206.4 180.5h0M207.7 182.1h0M214.7 181.8h0M214.4 179.8h0M203.7 180.6h0M220.1 182.0h0M191.6 181.0h0M204.6 180.7h0M213.7 177.7h0M220.6 181.5h0M198.6 182.1h0M207.7 180.2h0M222.6 180.6h0M214.4 180.4h0M201.7 181.1h0M232.7 181.4h0M213.2 181.5h0M216.2 181.6h0M235.6 181.8h0M210.9 181.5h0M210.6 179.8h0M220.9 181.0h0M210.9 179.5h0M211.4 180.7h0M214.3 180.9h0M212.3 180.1h0M212.9 182.1h0M207.6 179.3h0M195.7 181.3h0M217.8 182.3h0M225.3 181.3h0M216.9 179.9h0M197.5 181.4h0M217.2 179.7h0M209.6 178.2h0M227.6 182.1h0M201.1 181.5h0M215.0 181.7h0M215.5 181.5h0M229.3 181.7h0M209.5 181.6h0M218.9 180.2h0M217.7 179.1h0M225.2 181.4h0M196.8 181.9h0M207.3 179.9h0M209.3 180.1h0M208.6 178.8h0M217.6 181.7h0M209.8 181.5h0M198.6 181.8h0M222.6 181.7h0M217.0 178.7h0M214.0 179.6h0M203.3 181.2h0M205.9 179.9h0M203.5 179.6h0M199.5 180.6h0M199.2 180.6h0M210.8 181.2h0M204.5 180.1h0M212.6 181.0h0M223.1 181.1h0M207.5 180.9h0M212.6 178.6h0M212.5 181.1h0M215.7 180.8h0M186.0 181.3h0M226.6 181.1h0M220.9 181.7h0M217.9 180.0h0M225.4 181.3h0M209.3 181.4h0M202.7 180.7h0M207.8 179.9h0M219.0 181.3h0M196.5 181.4h0M215.5 181.6h0M228.3 181.8h0M202.0 180.6h0M228.7 181.7h0M216.7 181.1h0M209.7 179.3h0M216.3 180.4h0M202.8 181.0h0M207.5 181.4h0M192.6 181.7h0M222.1 180.9h0M217.6 181.8h0M204.6 181.1h0M217.6 180.5h0M225.5 180.6h0M201.7 180.6h0M221.0 180.6h0M218.7 179.5h0M214.5 179.7h0M216.9 180.7h0M222.4 181.4h0M207.4 181.4h0M204.9 179.8h0M216.3 181.8h0M209.7 178.6h0M215.7 178.6h0M189.3 181.8h0M211.9 179.6h0M219.0 181.7h0M211.1 180.6h0M222.3 181.6h0M200.0 181.7h0M207.5 181.3h0M220.9 181.5h0M213.8 180.8h0M220.6 181.4h0M196.9 180.8h0M216.8 181.9h0M207.6 178.3h0M211.9 180.4h0M198.8 181.7h0M207.3 180.2h0M217.0 180.0h0M200.2 179.6h0M218.0 180.5h0M208.2 180.9h0M216.1 181.5h0M224.3 181.7h0M220.1 181.0h0M208.3 182.2h0M213.9 181.2h0M235.2 181.5h0M206.7 177.6h0M213.0 180.5h0M225.0 182.0h0M217.0 180.4h0M236.6 181.2h0M217.4 181.8h0M225.8 181.5h0M215.0 179.9h0M210.8 178.1h0M218.9 181.9h0M209.9 180.7h0M197.1 182.1h0M211.4 181.3h0M216.7 181.8h0M197.4 181.5h0M206.3 181.8h0M204.7 181.0h0M209.7 180.2h0M232.1 181.5h0M225.5 182.0h0M211.4 180.3h0M235.6 181.8h0M218.7 182.1h0M216.1 178.9h0M212.4 181.2h0M198.3 181.0h0M192.4 181.2h0M222.0 181.4h0M212.9 180.5h0M204.6 182.1h0M209.6 179.1h0M194.8 181.7h0M210.2 177.5h0M231.3 181.8h0M233.1 181.9h0M206.9 179.0h0M208.1 180.1h0M206.2 181.3h0M199.3 182.1h0M200.1 181.3h0M223.1 181.9h0M218.0 181.5h0M206.1 180.5h0M214.9 180.8h0M194.3 182.0h0M217.0 181.3h0M208.2 179.8h0M197.6 181.5h0M202.5 181.1h0M203.5 180.6h0M226.2 181.6h0M202.0 180.1h0M210.9 181.4h0M211.8 179.4h0M232.3 181.3h0M215.6 180.4h0M212.7 180.5h0M224.1 182.0h0M220.5 182.1h0M223.2 181.9h0M199.7 181.9h0M222.5 181.8h0M206.1 180.4h0M213.2 180.8h0M225.8 181.5h0M201.2 181.5h0M202.4 181.5h0M196.6 181.5h0M203.4 180.6h0M207.9 182.0h0M207.1 181.2h0M215.3 181.7h0M228.7 181.7h0M214.1 180.7h0M213.8 181.3h0M213.5 177.2h0M223.6 181.3h0M212.9 180.9h0M209.8 181.0h0M219.7 181.0h0M232.1 181.7h0M215.5 178.1h0M235.6 181.1h0M225.2 181.0h0M217.3 182.1h0M202.8 181.4h0M208.9 181.0h0M209.7 182.2h0M222.7 181.9h0M197.1 182.0h0M221.6 181.4h0M202.2 181.0h0M204.8 180.8h0M218.1 181.4h0M211.3 181.3h0M206.2 182.1h0M213.6 182.0h0M197.8 181.6h0M192.0 182.0h0M199.7 181.0h0M222.2 181.5h0M211.7 181.1h0M219.2 181.3h0M207.7 181.1h0M213.7 178.7h0M220.0 181.4h0M242.8 181.0h0M241.4 181.5h0M217.1 181.3h0M216.0 180.3h0M214.1 181.5h0M193.3 181.7h0M225.3 181.1h0M209.3 179.5h0M231.7 181.4h0M205.9 180.5h0M234.2 181.5h0M225.2 181.5h0M196.3 180.8h0M218.8 178.6h0M217.8 182.0h0M219.3 180.4h0M193.0 182.0h0M198.3 181.6h0M210.7 181.6h0M203.7 181.8h0M216.8 181.3h0M211.0 181.6h0M214.1 176.3h0M205.1 181.9h0M207.2 181.5h0M207.8 179.9h0M199.8 180.5h0M200.8 181.5h0M194.0 181.1h0M213.8 179.8h0M192.9 181.4h0M220.6 181.8h0M211.3 181.5h0M211.1 180.7h0M205.9 181.8h0M204.3 181.4h0M212.3 180.2h0M239.5 181.4h0M195.6 181.6h0M202.2 180.5h0M221.6 180.7h0M220.5 181.1h0M205.7 180.8h0M225.7 181.5h0M209.0 182.3h0M221.5 182.1h0M196.0 181.9h0M192.8 180.9h0M227.5 181.7h0M224.4 180.5h0M195.0 182.0h0M186.7 181.4h0M198.8 182.2h0M202.2 182.0h0M210.5 177.9h0M207.4 181.6h0M196.1 182.0h0M215.1 180.6h0M203.5 182.0h0M236.4 181.7h0M206.0 181.3h0M214.3 180.0h0M212.0 178.7h0M209.6 180.1h0M194.5 181.7h0M195.6 181.8h0M221.6 180.7h0M207.9 181.4h0M214.1 182.1h0M223.5 180.8h0M220.0 181.2h0M226.1 182.0h0M216.0 180.8h0M231.5 181.5h0M215.0 179.7h0M210.0 181.5h0M219.2 179.8h0M208.3 181.5h0M208.5 181.6h0M207.7 181.4h0M225.2 181.7h0M197.5 182.0h0M213.1 181.1h0M210.2 179.8h0M232.2 180.8h0M215.7 180.8h0M213.4 177.3h0M202.3 180.9h0M204.3 179.4h0M208.3 182.2h0M196.4 181.6h0M187.5 181.8h0M195.1 180.2h0M224.8 181.9h0M216.0 180.1h0M200.8 180.8h0M192.1 181.5h0M233.6 181.8h0M223.8 181.9h0M184.1 181.2h0M207.3 180.6h0M202.3 181.2h0M207.8 181.1h0M220.6 181.8h0M198.9 181.1h0M210.5 180.6h0M195.3 181.5h0M208.3 180.7h0M209.8 179.7h0M204.0 180.5h0M217.1 180.1h0M227.5 182.0h0M237.5 181.8h0M201.2 181.8h0M221.4 181.3h0M206.2 180.8h0M203.5 181.7h0M207.4 182.0h0M220.7 181.0h0M214.6 179.4h0M208.5 178.9h0M230.4 180.8h0M216.3 181.7h0M240.8 181.7h0M203.9 180.2h0M196.6 181.4h0M205.3 182.1h0M195.6 181.9h0M236.9 181.5h0M210.9 179.7h0M205.0 180.5h0M224.4 181.0h0M188.8 181.2h0M195.8 181.9h0M214.8 179.5h0M213.7 179.9h0M196.9 182.2h0M222.7 180.6h0M221.8 181.9h0M209.3 181.2h0M203.5 180.8h0M222.4 179.6h0M220.0 181.3h0M203.9 181.0h0M204.4 181.4h0M199.3 180.8h0M240.1 181.1h0M218.8 181.7h0M220.6 180.8h0M216.2 180.7h0M193.6 181.7h0M215.9 180.7h0M218.5 179.8h0M237.0 181.8h0M221.9 182.0h0M213.0 178.2h0M219.2 180.3h0M218.1 180.6h0M212.8 178.4h0M189.4 180.7h0M216.0 179.4h0M209.1 180.2h0M210.5 180.2h0M224.4 180.8h0M209.7 179.2h0M200.1 182.1h0M199.0 181.8h0M207.4 181.1h0M227.9 180.9h0M214.8 179.7h0M217.8 180.2h0M206.0 179.8h0M244.7 181.6h0M210.1 180.9h0M216.8 179.8h0M204.3 181.6h0M190.6 181.7h0M210.7 181.2h0M187.4 181.0h0M207.2 180.1h0M225.2 182.1h0M216.0 180.9h0M207.6 181.6h0M220.3 181.1h0M214.8 181.7h0M206.2 181.4h0M218.6 181.2h0M206.8 180.3h0M213.8 180.8h0M197.8 182.1h0M211.1 179.6h0M231.4 181.2h0M213.9 177.9h0M207.9 181.7h0M235.1 181.9h0M215.5 177.5h0M188.4 181.4h0M221.2 180.8h0M213.1 180.9h0M207.5 181.7h0M210.0 179.8h0M195.0 181.8h0M228.6 181.9h0M224.7 182.1h0M202.2 180.8h0M227.0 181.1h0M189.0 181.6h0M210.7 181.8h0M212.3 181.4h0M216.5 179.3h0M204.4 181.8h0M207.6 180.6h0M224.5 181.9h0M204.4 181.4h0M203.2 182.3h0M229.0 181.0h0M218.3 179.4h0M208.3 181.2h0M216.0 181.9h0M219.3 180.4h0M198.9 181.2h0M216.1 179.4h0M212.8 179.8h0M216.4 180.5h0M217.1 180.6h0M210.9 180.7h0M211.1 178.9h0M223.5 181.0h0M197.3 181.7h0M225.1 181.5h0M213.6 179.7h0M201.6 180.1h0M183.1 181.3h0M202.2 181.1h0M225.5 182.0h0M221.0 181.1h0M206.4 180.5h0M207.3 182.5h0M224.8 181.8h0M224.1 181.6h0M227.9 181.9h0M217.0 177.6h0M209.8 180.5h0M210.4 180.6h0M201.3 181.7h0M225.1 181.1h0M215.9 179.7h0M233.3 181.5h0M221.4 181.4h0M220.0 180.7h0M204.0 181.0h0M223.0 182.0h0M215.1 180.2h0M214.5 180.1h0M214.0 173.4h0M214.2 179.0h0M212.1 177.2h0M210.9 175.7h0M208.6 179.5h0M209.7 179.8h0M213.6 178.6h0M206.4 176.1h0M214.7 176.9h0M208.5 173.6h0M211.6 176.3h0M210.1 174.9h0M211.9 176.9h0M209.0 174.7h0M214.0 181.1h0M206.3 181.1h0M213.7 176.3h0M209.5 173.0h0M214.3 178.1h0M209.3 177.1h0M211.2 174.2h0M213.7 179.3h0M213.5 181.3h0M207.9 178.1h0M206.7 178.8h0M206.3 174.5h0M212.0 179.6h0M210.6 178.4h0M213.2 179.3h0M208.1 174.8h0M212.7 175.5h0M206.6 181.6h0M214.2 173.0h0M207.9 177.4h0M210.1 179.4h0M206.8 179.6h0M214.4 177.9h0M207.9 181.3h0M211.7 174.2h0M208.3 175.0h0M206.3 180.8h0M211.6 181.1h0M210.1 177.5h0M206.3 174.4h0M212.5 174.7h0M211.8 179.4h0M212.1 176.7h0M211.5 175.0h0M208.6 173.5h0M210.1 179.1h0" stroke="#c9c9c9" stroke-width="1.5" stroke-linecap="round" fill="none"/>
<path d="M121.9 75.6h0M121.8 84.1h0M120.4 89.7h0M119.8 74.6h0M120.1 88.8h0M121.2 90.1h0M119.7 88.7h0M121.1 91.5h0M120.8 87.2h0M121.2 78.1h0M119.9 69.9h0M122.1 78.3h0M122.4 88.8h0M130.5 76.2h0M126.1 58.6h0M122.0 91.0h0M120.5 81.5h0M124.0 91.6h0M122.8 82.6h0M120.1 71.3h0M127.0 90.8h0M121.6 89.6h0M119.8 88.6h0M120.1 83.1h0M121.3 81.8h0M120.9 87.2h0M125.4 88.4h0M130.1 88.3h0M123.4 91.3h0M119.8 77.4h0M127.5 68.5h0M123.1 74.8h0M128.7 86.7h0M120.1 88.0h0M120.4 76.5h0M121.7 88.2h0M124.3 77.0h0M127.6 74.1h0M122.1 85.0h0M130.5 92.1h0M120.1 88.7h0M121.6 82.5h0M125.6 88.7h0M127.2 92.0h0M119.6 80.8h0M123.5 64.7h0M120.5 63.9h0M119.8 81.5h0M130.1 91.6h0M130.3 92.8h0M122.4 89.7h0M122.9 91.8h0M120.1 88.1h0M119.9 89.6h0M122.4 79.8h0M128.0 58.5h0M119.7 90.3h0M125.4 80.4h0M121.0 87.0h0M120.1 79.9h0M122.1 91.7h0M122.2 92.1h0M123.7 85.7h0M123.0 90.7h0M127.5 79.1h0M120.9 87.4h0M119.6 88.3h0M130.1 91.7h0M126.5 92.5h0M119.8 88.4h0M121.6 87.7h0M129.1 90.8h0M127.1 88.0h0M119.9 86.4h0M121.1 87.5h0M120.6 92.8h0M120.2 88.9h0M120.0 74.7h0M121.2 65.3h0M119.9 81.8h0M120.2 90.9h0M123.8 74.8h0M123.3 90.1h0M119.9 91.6h0M121.8 89.8h0M126.9 85.1h0M120.3 91.3h0M122.2 91.8h0M121.7 88.7h0M122.3 88.6h0M120.1 84.2h0M120.9 89.3h0M123.3 81.2h0M135.5 89.1h0M124.3 64.8h0M120.7 78.5h0M119.8 80.5h0M120.9 92.0h0M120.3 67.2h0M120.6 62.3h0M120.4 83.6h0M121.9 79.8h0M120.3 89.5h0M120.9 86.0h0M122.4 89.9h0M123.4 90.9h0M122.6 92.7h0M125.7 86.2h0M121.7 92.7h0M130.3 91.5h0M122.1 92.6h0M120.6 86.1h0M124.9 87.7h0M121.9 60.3h0M120.7 91.3h0M121.4 88.1h0M124.7 92.5h0M120.0 86.5h0M121.6 90.3h0M122.0 89.0h0M124.5 90.2h0M124.8 75.8h0M120.1 91.4h0M122.0 82.5h0M120.8 91.4h0M132.9 35.2h0M102.4 72.6h0M103.9 79.3h0M102.1 88.0h0M138.7 91.6h0M135.8 89.5h0M129.2 76.7h0M124.2 60.8h0M127.1 63.9h0M227.8 92.3h0M220.0 88.8h0M226.0 85.3h0M223.4 92.0h0M222.9 88.2h0M221.2 88.2h0M221.3 91.7h0M221.7 87.4h0M223.1 83.3h0M225.2 86.8h0M223.0 88.9h0M222.4 89.4h0M222.6 69.6h0M223.8 88.9h0M224.4 87.8h0M220.2 90.6h0M227.3 62.5h0M229.0 91.3h0M233.4 91.9h0M220.5 82.0h0M220.6 92.0h0M220.5 91.6h0M222.4 76.8h0M222.8 88.9h0M221.1 90.0h0M222.4 79.1h0M221.6 91.7h0M222.1 92.7h0M228.3 84.9h0M222.8 68.2h0M220.3 88.2h0M220.2 67.8h0M220.4 79.1h0M227.5 80.0h0M220.8 79.5h0M228.9 86.4h0M220.9 88.1h0M224.1 89.1h0M221.4 92.6h0M221.8 90.8h0M220.5 86.7h0M230.1 90.6h0M225.5 91.1h0M222.0 91.9h0M222.5 92.7h0M225.2 88.7h0M220.8 74.2h0M220.1 89.1h0M220.7 91.5h0M220.6 83.2h0M223.2 78.6h0M223.5 83.8h0M220.0 85.7h0M221.3 82.0h0M222.6 74.7h0M222.2 92.8h0M225.2 84.0h0M222.9 87.0h0M224.5 89.1h0M220.7 91.9h0M224.6 92.1h0M221.2 84.4h0M226.6 91.3h0M220.0 85.6h0M223.6 81.9h0M222.2 82.1h0M222.3 91.0h0M220.8 73.7h0M221.1 83.7h0M221.1 75.8h0M222.1 73.0h0M224.1 91.3h0M220.2 85.8h0M226.2 90.3h0M221.1 92.9h0M223.1 87.7h0M224.5 80.4h0M223.7 82.9h0M224.5 84.4h0M222.6 90.6h0M220.9 90.1h0M226.7 75.5h0M222.0 71.6h0M221.5 90.7h0M221.1 88.1h0M222.5 86.4h0M220.2 78.5h0M220.4 88.9h0M225.5 92.4h0M221.3 85.4h0M221.4 81.0h0M220.7 76.5h0M226.8 88.9h0M221.9 76.2h0M220.2 90.9h0M224.0 80.8h0M220.0 84.6h0M220.2 91.3h0M221.1 90.7h0M229.7 89.6h0M223.2 82.1h0M222.4 91.9h0M225.8 75.4h0M233.3 62.9h0M220.3 83.4h0M225.1 92.8h0M226.3 92.1h0M221.9 85.0h0M223.0 89.4h0M225.6 89.9h0M221.0 87.2h0M233.8 80.5h0M227.4 49.2h0M224.4 79.9h0M221.7 81.4h0M221.6 61.5h0M220.8 87.8h0M223.7 88.9h0M225.8 77.0h0M228.8 92.3h0M220.8 92.6h0M220.9 89.0h0M226.9 91.1h0M223.3 82.5h0M227.1 77.0h0M224.9 83.7h0M235.1 86.8h0M228.4 91.9h0M223.3 90.3h0M220.6 73.7h0M220.6 87.7h0M220.8 87.0h0M223.8 89.2h0M231.0 84.6h0M226.5 85.3h0M220.1 83.4h0M229.2 71.9h0M237.7 90.6h0M223.3 88.8h0M226.4 85.9h0M220.5 86.2h0M221.3 77.6h0M221.9 91.3h0M223.3 92.7h0M220.7 82.1h0M222.3 92.0h0M221.4 73.6h0M222.1 86.8h0M220.3 92.8h0M220.7 84.8h0M223.3 86.6h0M220.1 88.0h0M223.1 71.4h0M226.2 90.9h0M221.7 87.4h0M220.5 76.2h0M222.2 72.1h0M223.4 86.3h0M220.3 87.2h0M223.2 89.2h0M221.4 89.5h0M223.9 88.3h0M222.0 85.4h0M221.9 88.9h0M223.7 92.4h0M223.0 89.6h0M225.2 87.2h0M220.4 91.1h0M227.0 77.6h0M227.9 89.0h0M222.0 85.7h0M233.8 80.5h0M220.3 92.1h0M220.6 80.1h0M222.2 80.5h0M221.9 80.2h0M220.8 86.0h0M227.2 88.5h0M221.2 87.1h0M220.7 90.1h0M220.4 85.3h0M220.7 83.1h0M221.8 68.9h0M220.1 90.4h0M223.5 89.9h0M225.9 91.3h0M220.2 89.0h0M224.2 88.5h0M221.9 91.0h0M228.5 80.2h0M227.7 78.7h0M220.8 65.3h0M222.6 92.4h0M222.5 92.1h0M224.6 79.0h0M220.9 92.7h0M220.6 92.5h0M221.7 77.6h0M220.9 76.1h0M221.5 81.7h0M224.1 86.8h0M222.1 87.6h0M224.4 92.8h0M220.1 65.9h0M220.8 64.4h0M222.0 91.5h0M225.8 79.1h0M221.8 89.3h0M222.1 92.5h0M221.7 76.4h0M225.2 89.3h0M220.3 88.1h0M221.7 46.8h0M226.0 92.1h0M222.8 81.9h0M223.0 74.5h0M221.8 90.3h0M223.3 88.0h0M237.0 82.6h0M229.7 92.7h0M220.6 77.0h0M221.0 89.5h0M227.3 91.0h0M222.3 85.0h0M221.2 91.3h0M220.1 81.0h0M221.0 85.5h0M221.3 70.2h0M226.2 71.6h0M225.8 87.7h0M220.0 51.0h0M221.7 88.3h0M225.8 89.9h0M222.3 91.2h0M222.7 83.4h0M220.5 88.9h0M222.7 83.8h0M222.5 88.0h0M220.7 90.5h0M220.3 79.6h0M220.9 84.4h0M222.5 61.1h0M222.8 90.7h0M231.2 85.0h0M228.7 80.7h0M232.6 78.3h0M221.3 89.3h0M221.6 88.8h0M225.0 91.6h0M220.3 90.5h0M221.1 86.1h0M233.3 77.0h0M228.5 80.6h0M222.6 91.1h0M226.9 90.8h0M220.8 91.5h0M221.8 92.8h0M221.2 88.6h0M230.4 74.3h0M221.9 59.3h0M222.2 88.2h0M223.3 90.8h0M226.0 90.9h0M223.2 70.2h0M220.2 92.8h0M223.0 63.1h0M226.4 81.5h0M221.3 91.1h0M220.4 92.4h0M224.1 90.2h0M202.4 87.8h0M204.1 88.1h0M201.3 92.3h0M203.6 86.5h0M203.6 86.6h0M204.8 89.1h0M199.4 91.7h0M204.2 87.5h0M202.7 86.7h0M204.8 84.4h0M201.8 87.4h0M201.2 91.0h0M199.2 85.9h0M204.9 91.9h0M202.3 92.3h0M204.9 82.5h0M197.6 83.9h0M205.0 91.4h0M200.3 86.8h0M195.7 89.6h0M202.7 87.0h0M204.9 89.7h0M200.7 90.7h0M200.1 92.2h0M202.7 92.5h0M204.3 84.0h0M203.0 89.8h0M204.4 90.9h0M204.1 88.4h0M204.2 90.6h0M204.3 90.0h0M204.5 90.5h0M204.9 91.2h0M200.8 87.3h0M203.7 91.9h0M202.6 90.7h0M201.3 90.1h0M204.2 92.5h0M198.9 88.7h0M203.4 91.6h0M197.3 87.5h0M202.3 91.9h0M204.1 90.6h0M204.3 91.6h0M203.6 85.8h0M200.5 87.0h0M203.3 89.0h0M204.1 91.5h0M199.1 82.2h0M200.1 91.3h0M203.7 92.9h0M198.2 83.8h0M204.6 90.5h0M203.9 92.6h0M201.8 88.9h0M230.0 24.9h0M231.4 26.4h0M224.2 29.5h0M223.5 40.3h0M220.6 42.3h0M226.4 50.6h0M200.3 33.1h0M196.6 53.6h0M201.0 55.2h0M193.8 62.4h0M190.8 83.9h0M240.9 69.5h0M262.6 76.7h0M250.3 84.4h0M245.2 88.5h0M240.1 90.6h0M238.7 82.4h0" stroke="#cc3458" stroke-width="1.75" stroke-linecap="round" fill="none"/>
<path d="M250.3 175.3h0M251.8 175.6h0" stroke="#999" stroke-width="1.75" stroke-linecap="round" fill="none"/>
<path d="M232.9 170.2h0M203.9 170.7h0M219.1 173.8h0" stroke="#777" stroke-width="1.75" stroke-linecap="round" fill="none"/>
<path d="M267.7 162.5h0" stroke="#888" stroke-width="1.75" stroke-linecap="round" fill="none"/>
<path d="M225.6 153.8h0" stroke="#666" stroke-width="1.75" stroke-linecap="round" fill="none"/>
<path d="M204.6 152.7h0M204.3 159.9h0M220.6 165.0h0M220.2 165.6h0M219.8 170.2h0" stroke="#3a5a98" stroke-width="1.75" stroke-linecap="round" fill="none"/>
<line x1="104.30" y1="24.30" x2="104.30" y2="103.30" stroke="#777" stroke-width="0.7" stroke-dasharray="1.4,1.6"/>
<line x1="119.30" y1="24.30" x2="119.30" y2="103.30" stroke="#777" stroke-width="0.7" stroke-dasharray="1.4,1.6"/>
<line x1="74.40" y1="91.80" x2="172.20" y2="91.80" stroke="#777" stroke-width="0.7" stroke-dasharray="1.4,1.6"/>
<line x1="205.20" y1="24.30" x2="205.20" y2="103.30" stroke="#777" stroke-width="0.7" stroke-dasharray="1.4,1.6"/>
<line x1="219.70" y1="24.30" x2="219.70" y2="103.30" stroke="#777" stroke-width="0.7" stroke-dasharray="1.4,1.6"/>
<line x1="173.80" y1="91.80" x2="272.50" y2="91.80" stroke="#777" stroke-width="0.7" stroke-dasharray="1.4,1.6"/>
<line x1="104.30" y1="107.30" x2="104.30" y2="186.30" stroke="#777" stroke-width="0.7" stroke-dasharray="1.4,1.6"/>
<line x1="119.30" y1="107.30" x2="119.30" y2="186.30" stroke="#777" stroke-width="0.7" stroke-dasharray="1.4,1.6"/>
<line x1="74.40" y1="176.20" x2="172.20" y2="176.20" stroke="#777" stroke-width="0.7" stroke-dasharray="1.4,1.6"/>
<line x1="205.20" y1="107.30" x2="205.20" y2="186.30" stroke="#777" stroke-width="0.7" stroke-dasharray="1.4,1.6"/>
<line x1="219.70" y1="107.30" x2="219.70" y2="186.30" stroke="#777" stroke-width="0.7" stroke-dasharray="1.4,1.6"/>
<line x1="173.80" y1="176.20" x2="272.50" y2="176.20" stroke="#777" stroke-width="0.7" stroke-dasharray="1.4,1.6"/>
<line x1="74.40" y1="24.30" x2="74.40" y2="103.30" stroke="#111" stroke-width="1.1" />
<line x1="71.10" y1="99.80" x2="74.40" y2="99.80" stroke="#111" stroke-width="0.9" />
<text x="68.20" y="102.20" font-size="6.7" text-anchor="end" fill="#222" stroke="#222" font-weight="normal" >0</text>
<line x1="71.10" y1="74.15" x2="74.40" y2="74.15" stroke="#111" stroke-width="0.9" />
<text x="68.20" y="76.55" font-size="6.7" text-anchor="end" fill="#222" stroke="#222" font-weight="normal" >5</text>
<line x1="71.10" y1="48.50" x2="74.40" y2="48.50" stroke="#111" stroke-width="0.9" />
<text x="68.20" y="50.90" font-size="6.7" text-anchor="end" fill="#222" stroke="#222" font-weight="normal" >10</text>
<line x1="74.40" y1="107.30" x2="74.40" y2="186.30" stroke="#111" stroke-width="1.1" />
<line x1="71.10" y1="183.00" x2="74.40" y2="183.00" stroke="#111" stroke-width="0.9" />
<text x="68.20" y="185.40" font-size="6.7" text-anchor="end" fill="#222" stroke="#222" font-weight="normal" >0</text>
<line x1="71.10" y1="157.35" x2="74.40" y2="157.35" stroke="#111" stroke-width="0.9" />
<text x="68.20" y="159.75" font-size="6.7" text-anchor="end" fill="#222" stroke="#222" font-weight="normal" >5</text>
<line x1="71.10" y1="131.70" x2="74.40" y2="131.70" stroke="#111" stroke-width="0.9" />
<text x="68.20" y="134.10" font-size="6.7" text-anchor="end" fill="#222" stroke="#222" font-weight="normal" >10</text>
<line x1="74.40" y1="186.30" x2="169.70" y2="186.30" stroke="#111" stroke-width="1.1" />
<line x1="92.28" y1="186.30" x2="92.28" y2="189.50" stroke="#111" stroke-width="0.9" />
<text x="92.28" y="199.70" font-size="6.7" text-anchor="middle" fill="#222" stroke="#222" font-weight="normal" >−2.5</text>
<line x1="110.40" y1="186.30" x2="110.40" y2="189.50" stroke="#111" stroke-width="0.9" />
<text x="110.40" y="199.70" font-size="6.7" text-anchor="middle" fill="#222" stroke="#222" font-weight="normal" >0.0</text>
<line x1="128.53" y1="186.30" x2="128.53" y2="189.50" stroke="#111" stroke-width="0.9" />
<text x="128.53" y="199.70" font-size="6.7" text-anchor="middle" fill="#222" stroke="#222" font-weight="normal" >2.5</text>
<line x1="146.65" y1="186.30" x2="146.65" y2="189.50" stroke="#111" stroke-width="0.9" />
<text x="146.65" y="199.70" font-size="6.7" text-anchor="middle" fill="#222" stroke="#222" font-weight="normal" >5.0</text>
<line x1="164.78" y1="186.30" x2="164.78" y2="189.50" stroke="#111" stroke-width="0.9" />
<text x="164.78" y="199.70" font-size="6.7" text-anchor="middle" fill="#222" stroke="#222" font-weight="normal" >7.5</text>
<line x1="173.80" y1="186.30" x2="270.00" y2="186.30" stroke="#111" stroke-width="1.1" />
<line x1="191.57" y1="186.30" x2="191.57" y2="189.50" stroke="#111" stroke-width="0.9" />
<text x="191.57" y="199.70" font-size="6.7" text-anchor="middle" fill="#222" stroke="#222" font-weight="normal" >−2.5</text>
<line x1="209.70" y1="186.30" x2="209.70" y2="189.50" stroke="#111" stroke-width="0.9" />
<text x="209.70" y="199.70" font-size="6.7" text-anchor="middle" fill="#222" stroke="#222" font-weight="normal" >0.0</text>
<line x1="227.82" y1="186.30" x2="227.82" y2="189.50" stroke="#111" stroke-width="0.9" />
<text x="227.82" y="199.70" font-size="6.7" text-anchor="middle" fill="#222" stroke="#222" font-weight="normal" >2.5</text>
<line x1="245.95" y1="186.30" x2="245.95" y2="189.50" stroke="#111" stroke-width="0.9" />
<text x="245.95" y="199.70" font-size="6.7" text-anchor="middle" fill="#222" stroke="#222" font-weight="normal" >5.0</text>
<line x1="264.07" y1="186.30" x2="264.07" y2="189.50" stroke="#111" stroke-width="0.9" />
<text x="264.07" y="199.70" font-size="6.7" text-anchor="middle" fill="#222" stroke="#222" font-weight="normal" >7.5</text>
<text x="172.1" y="212.3" font-size="9" font-weight="bold" text-anchor="middle" fill="#222" stroke="#222" textLength="52" lengthAdjust="spacingAndGlyphs">log2 (fold change)</text>
<text transform="translate(51.4,105.5) rotate(-90)" font-size="8.6" font-weight="bold" text-anchor="middle" fill="#222" stroke="#222" textLength="36" lengthAdjust="spacingAndGlyphs">-log<tspan font-size="6" dy="1.8">10</tspan><tspan dy="-1.8"> (FDR)</tspan></text>
<text x="341.90" y="18.52" font-size="10.4" text-anchor="start" fill="#222" stroke="#222" font-weight="normal" >AML-HSPCs: UNC1999 vs DMSO</text>
<text x="421.40" y="35.86" font-size="9.1" text-anchor="middle" fill="#222" stroke="#222" font-weight="normal" textLength="132" lengthAdjust="spacingAndGlyphs">BENPORATH_PRC2_TARGETS</text>
<line x1="346.60" y1="125.80" x2="498.00" y2="125.80" stroke="#e05a6a" stroke-width="0.7" stroke-dasharray="1.2,1.8"/>
<path d="M415.81 113.0V123.0M392.57 113.0V123.0M394.78 113.0V123.0M403.71 113.0V123.0M421.13 113.0V123.0M393.99 113.0V123.0M401.77 113.0V123.0M437.64 113.0V123.0M439.47 113.0V123.0M443.71 113.0V123.0M457.34 113.0V123.0M473.58 113.0V123.0" stroke="#000" stroke-opacity="0.20" stroke-width="0.55"/>
<path d="M367.51 113.0V123.0M383.96 113.0V123.0M382.91 113.0V123.0M370.71 113.0V123.0M372.52 113.0V123.0M377.87 113.0V123.0M379.96 113.0V123.0M386.28 113.0V123.0M403.68 113.0V123.0M401.17 113.0V123.0M404.99 113.0V123.0M420.12 113.0V123.0M392.90 113.0V123.0M424.69 113.0V123.0M449.17 113.0V123.0M432.68 113.0V123.0M458.49 113.0V123.0M468.06 113.0V123.0M428.45 113.0V123.0M443.54 113.0V123.0M447.18 113.0V123.0" stroke="#000" stroke-opacity="0.30" stroke-width="0.55"/>
<path d="M385.53 113.0V123.0M372.28 113.0V123.0M367.52 113.0V123.0M381.47 113.0V123.0M375.86 113.0V123.0M381.91 113.0V123.0M376.64 113.0V123.0M379.22 113.0V123.0M377.13 113.0V123.0M370.91 113.0V123.0M365.45 113.0V123.0M391.53 113.0V123.0M410.91 113.0V123.0M408.58 113.0V123.0M411.86 113.0V123.0M405.04 113.0V123.0M399.78 113.0V123.0M402.03 113.0V123.0M458.66 113.0V123.0M468.77 113.0V123.0M454.13 113.0V123.0M422.98 113.0V123.0M434.31 113.0V123.0M435.58 113.0V123.0M423.74 113.0V123.0M477.46 113.0V123.0M473.47 113.0V123.0M483.94 113.0V123.0M481.63 113.0V123.0M485.30 113.0V123.0M480.88 113.0V123.0M486.79 113.0V123.0M484.44 113.0V123.0M486.06 113.0V123.0" stroke="#000" stroke-opacity="0.40" stroke-width="0.55"/>
<path d="M351.88 113.0V123.0M353.46 113.0V123.0M363.81 113.0V123.0M364.07 113.0V123.0M358.28 113.0V123.0M353.33 113.0V123.0M358.29 113.0V123.0M362.33 113.0V123.0M352.60 113.0V123.0M363.38 113.0V123.0M357.72 113.0V123.0M360.75 113.0V123.0M357.60 113.0V123.0M352.22 113.0V123.0M362.72 113.0V123.0M370.59 113.0V123.0M386.54 113.0V123.0M379.62 113.0V123.0M373.29 113.0V123.0M388.14 113.0V123.0M400.89 113.0V123.0M418.44 113.0V123.0M393.79 113.0V123.0M407.95 113.0V123.0M418.94 113.0V123.0M421.13 113.0V123.0M412.84 113.0V123.0M394.28 113.0V123.0M389.72 113.0V123.0M452.57 113.0V123.0M455.65 113.0V123.0M436.54 113.0V123.0M434.24 113.0V123.0M423.25 113.0V123.0M476.83 113.0V123.0M488.00 113.0V123.0M487.49 113.0V123.0M484.27 113.0V123.0M488.96 113.0V123.0M480.83 113.0V123.0M488.87 113.0V123.0M478.16 113.0V123.0" stroke="#000" stroke-opacity="0.50" stroke-width="0.55"/>
<path d="M358.12 113.0V123.0M359.48 113.0V123.0M356.39 113.0V123.0M360.39 113.0V123.0M358.78 113.0V123.0M357.91 113.0V123.0M356.18 113.0V123.0M359.34 113.0V123.0M363.00 113.0V123.0M357.69 113.0V123.0M353.46 113.0V123.0M360.66 113.0V123.0M366.21 113.0V123.0M370.29 113.0V123.0M373.16 113.0V123.0M378.16 113.0V123.0M387.75 113.0V123.0M384.01 113.0V123.0M381.07 113.0V123.0M368.20 113.0V123.0M365.94 113.0V123.0M371.14 113.0V123.0M374.08 113.0V123.0M371.58 113.0V123.0M383.83 113.0V123.0M374.67 113.0V123.0M367.05 113.0V123.0M368.46 113.0V123.0M382.79 113.0V123.0M417.87 113.0V123.0M411.25 113.0V123.0M398.43 113.0V123.0M394.21 113.0V123.0M462.16 113.0V123.0M431.88 113.0V123.0M459.22 113.0V123.0M425.65 113.0V123.0M441.93 113.0V123.0M462.48 113.0V123.0M475.85 113.0V123.0M480.05 113.0V123.0M483.80 113.0V123.0M483.70 113.0V123.0M483.22 113.0V123.0M481.52 113.0V123.0M487.89 113.0V123.0M489.18 113.0V123.0M479.80 113.0V123.0" stroke="#000" stroke-opacity="0.60" stroke-width="0.55"/>
<path d="M353.22 113.0V123.0M354.21 113.0V123.0M353.21 113.0V123.0M357.20 113.0V123.0M356.00 113.0V123.0M368.57 113.0V123.0M366.64 113.0V123.0M365.68 113.0V123.0M378.01 113.0V123.0M366.82 113.0V123.0M366.35 113.0V123.0M370.48 113.0V123.0M383.47 113.0V123.0M419.84 113.0V123.0M402.29 113.0V123.0M400.90 113.0V123.0M419.38 113.0V123.0M399.54 113.0V123.0M405.50 113.0V123.0M408.59 113.0V123.0M440.93 113.0V123.0M465.46 113.0V123.0M466.83 113.0V123.0M442.26 113.0V123.0M455.20 113.0V123.0M424.59 113.0V123.0M455.43 113.0V123.0M483.84 113.0V123.0M483.37 113.0V123.0M484.75 113.0V123.0" stroke="#000" stroke-opacity="0.70" stroke-width="0.55"/>
<path d="M353.20 113.0V123.0M360.29 113.0V123.0M364.51 113.0V123.0M363.45 113.0V123.0M354.38 113.0V123.0M351.94 113.0V123.0M363.52 113.0V123.0M373.29 113.0V123.0M376.65 113.0V123.0M379.34 113.0V123.0M379.96 113.0V123.0M372.51 113.0V123.0M380.12 113.0V123.0M379.14 113.0V123.0M371.69 113.0V123.0M377.96 113.0V123.0M383.84 113.0V123.0M413.69 113.0V123.0M441.05 113.0V123.0M481.65 113.0V123.0M482.19 113.0V123.0M483.06 113.0V123.0M485.20 113.0V123.0" stroke="#000" stroke-opacity="0.80" stroke-width="0.55"/>
<path d="M352.43 113.0V123.0M359.75 113.0V123.0M355.15 113.0V123.0M361.95 113.0V123.0M358.84 113.0V123.0M355.17 113.0V123.0M360.43 113.0V123.0M354.18 113.0V123.0M354.16 113.0V123.0M351.72 113.0V123.0M353.62 113.0V123.0M364.71 113.0V123.0M379.95 113.0V123.0M367.88 113.0V123.0M374.19 113.0V123.0M386.41 113.0V123.0M383.90 113.0V123.0M383.61 113.0V123.0M368.05 113.0V123.0M382.30 113.0V123.0M380.83 113.0V123.0M371.89 113.0V123.0M380.15 113.0V123.0M487.21 113.0V123.0M479.67 113.0V123.0M485.14 113.0V123.0M488.15 113.0V123.0M488.73 113.0V123.0M486.21 113.0V123.0M485.69 113.0V123.0" stroke="#000" stroke-opacity="0.90" stroke-width="0.55"/>
<path d="M354.62 113.0V123.0M362.14 113.0V123.0M356.08 113.0V123.0M351.95 113.0V123.0M485.00 113.0V123.0M479.65 113.0V123.0M484.90 113.0V123.0M480.54 113.0V123.0" stroke="#000" stroke-opacity="1.00" stroke-width="0.55"/>
<line x1="344.60" y1="118.50" x2="499.00" y2="118.50" stroke="#555" stroke-width="0.6" />
<path d="M351.50,118.50 L352.03,108.27 L352.70,98.05 L354.40,86.54 L356.70,76.06 L360.20,64.43 L364.19,57.01 L368.20,52.41 L372.80,47.81 L376.90,45.51 L383.79,45.51 L390.19,49.47 L397.09,54.20 L403.99,59.31 L438.49,86.54 L476.88,121.18 L484.58,124.89 L488.52,125.53 L489.85,122.33 L490.29,118.50" fill="none" stroke="#a9cf8c" stroke-width="0.65" stroke-linejoin="round"/>
<line x1="344.60" y1="41.50" x2="344.60" y2="130.00" stroke="#111" stroke-width="1.1" />
<line x1="344.60" y1="130.00" x2="498.00" y2="130.00" stroke="#111" stroke-width="1.1" />
<line x1="341.20" y1="118.50" x2="344.60" y2="118.50" stroke="#111" stroke-width="0.9" />
<text x="337.70" y="121.01" font-size="7.0" text-anchor="end" fill="#222" stroke="#222" font-weight="normal" >0.0</text>
<line x1="341.20" y1="92.93" x2="344.60" y2="92.93" stroke="#111" stroke-width="0.9" />
<text x="337.70" y="95.44" font-size="7.0" text-anchor="end" fill="#222" stroke="#222" font-weight="normal" >0.2</text>
<line x1="341.20" y1="67.37" x2="344.60" y2="67.37" stroke="#111" stroke-width="0.9" />
<text x="337.70" y="69.87" font-size="7.0" text-anchor="end" fill="#222" stroke="#222" font-weight="normal" >0.4</text>
<line x1="341.20" y1="41.80" x2="344.60" y2="41.80" stroke="#111" stroke-width="0.9" />
<text x="337.70" y="44.31" font-size="7.0" text-anchor="end" fill="#222" stroke="#222" font-weight="normal" >0.6</text>
<line x1="351.50" y1="130.00" x2="351.50" y2="133.20" stroke="#111" stroke-width="0.9" />
<text x="351.50" y="143.71" font-size="7.0" text-anchor="middle" fill="#222" stroke="#222" font-weight="normal" >0</text>
<line x1="395.70" y1="130.00" x2="395.70" y2="133.20" stroke="#111" stroke-width="0.9" />
<text x="395.70" y="143.71" font-size="7.0" text-anchor="middle" fill="#222" stroke="#222" font-weight="normal" >5000</text>
<line x1="439.90" y1="130.00" x2="439.90" y2="133.20" stroke="#111" stroke-width="0.9" />
<text x="439.90" y="143.71" font-size="7.0" text-anchor="middle" fill="#222" stroke="#222" font-weight="normal" >10000</text>
<line x1="484.10" y1="130.00" x2="484.10" y2="133.20" stroke="#111" stroke-width="0.9" />
<text x="484.10" y="143.71" font-size="7.0" text-anchor="middle" fill="#222" stroke="#222" font-weight="normal" >15000</text>
<text x="421.5" y="157.40" font-size="9" font-weight="bold" text-anchor="middle" fill="#222" stroke="#222" textLength="14.2" lengthAdjust="spacingAndGlyphs">Rank</text>
<text transform="translate(322.2,85.25) rotate(-90)" font-size="9.2" font-weight="bold" text-anchor="middle" fill="#222" stroke="#222" textLength="48.2" lengthAdjust="spacingAndGlyphs">Enrichment score</text>
<text x="498.80" y="54.37" font-size="6.9" text-anchor="end" fill="#222" stroke="#222" font-weight="normal" ><tspan font-style="italic">P</tspan>: 8.34e-11</text>
<text x="498.80" y="62.67" font-size="6.9" text-anchor="end" fill="#222" stroke="#222" font-weight="normal" >FDR: 2.12e-08</text>
<text x="498.80" y="70.87" font-size="6.9" text-anchor="end" fill="#222" stroke="#222" font-weight="normal" >NES: 1.616</text>
<text x="421.40" y="178.06" font-size="9.1" text-anchor="middle" fill="#222" stroke="#222" font-weight="normal" textLength="181" lengthAdjust="spacingAndGlyphs">MIKKELSEN_MEF_HCP_WITH_H3K27ME3</text>
<line x1="346.60" y1="190.60" x2="498.00" y2="190.60" stroke="#ee9aa8" stroke-width="0.7" stroke-dasharray="1.2,1.8"/>
<line x1="346.60" y1="272.30" x2="498.00" y2="272.30" stroke="#e05a6a" stroke-width="0.7" stroke-dasharray="1.2,1.8"/>
<path d="M417.05 256.0V265.6M399.47 256.0V265.6M436.80 256.0V265.6M456.50 256.0V265.6M440.51 256.0V265.6M451.86 256.0V265.6M455.00 256.0V265.6M443.08 256.0V265.6M447.31 256.0V265.6" stroke="#000" stroke-opacity="0.20" stroke-width="0.55"/>
<path d="M372.62 256.0V265.6M377.16 256.0V265.6M380.86 256.0V265.6M381.92 256.0V265.6M395.08 256.0V265.6M393.68 256.0V265.6M391.51 256.0V265.6M391.97 256.0V265.6M430.29 256.0V265.6M427.05 256.0V265.6M425.81 256.0V265.6M405.58 256.0V265.6M426.56 256.0V265.6M408.25 256.0V265.6M397.72 256.0V265.6M406.60 256.0V265.6M449.19 256.0V265.6M438.64 256.0V265.6M435.69 256.0V265.6M453.62 256.0V265.6M461.35 256.0V265.6M446.68 256.0V265.6M474.24 256.0V265.6" stroke="#000" stroke-opacity="0.30" stroke-width="0.55"/>
<path d="M370.27 256.0V265.6M378.34 256.0V265.6M376.27 256.0V265.6M373.25 256.0V265.6M381.46 256.0V265.6M370.71 256.0V265.6M369.03 256.0V265.6M394.12 256.0V265.6M391.03 256.0V265.6M406.37 256.0V265.6M407.88 256.0V265.6M415.64 256.0V265.6M413.94 256.0V265.6M412.34 256.0V265.6M423.40 256.0V265.6M418.62 256.0V265.6M423.24 256.0V265.6M442.61 256.0V265.6M457.15 256.0V265.6M452.65 256.0V265.6M470.38 256.0V265.6M441.17 256.0V265.6M458.67 256.0V265.6M436.50 256.0V265.6M435.43 256.0V265.6M472.46 256.0V265.6M477.81 256.0V265.6M478.28 256.0V265.6M485.29 256.0V265.6M479.88 256.0V265.6M482.16 256.0V265.6M479.82 256.0V265.6M482.05 256.0V265.6M487.84 256.0V265.6M485.43 256.0V265.6M481.70 256.0V265.6" stroke="#000" stroke-opacity="0.40" stroke-width="0.55"/>
<path d="M352.73 256.0V265.6M356.71 256.0V265.6M353.66 256.0V265.6M355.22 256.0V265.6M353.46 256.0V265.6M359.88 256.0V265.6M356.97 256.0V265.6M360.04 256.0V265.6M352.44 256.0V265.6M361.82 256.0V265.6M363.21 256.0V265.6M390.09 256.0V265.6M378.85 256.0V265.6M367.90 256.0V265.6M388.16 256.0V265.6M384.36 256.0V265.6M385.60 256.0V265.6M371.41 256.0V265.6M371.48 256.0V265.6M385.44 256.0V265.6M385.23 256.0V265.6M428.68 256.0V265.6M424.70 256.0V265.6M404.89 256.0V265.6M437.38 256.0V265.6M444.13 256.0V265.6M458.72 256.0V265.6M460.69 256.0V265.6M442.05 256.0V265.6M446.76 256.0V265.6M440.64 256.0V265.6M472.29 256.0V265.6M476.50 256.0V265.6M477.47 256.0V265.6M484.08 256.0V265.6M485.29 256.0V265.6M481.64 256.0V265.6M480.00 256.0V265.6M481.01 256.0V265.6M488.67 256.0V265.6M483.94 256.0V265.6" stroke="#000" stroke-opacity="0.50" stroke-width="0.55"/>
<path d="M362.38 256.0V265.6M355.52 256.0V265.6M361.36 256.0V265.6M354.46 256.0V265.6M356.29 256.0V265.6M362.26 256.0V265.6M361.52 256.0V265.6M354.02 256.0V265.6M360.61 256.0V265.6M353.05 256.0V265.6M358.40 256.0V265.6M356.32 256.0V265.6M354.05 256.0V265.6M362.34 256.0V265.6M362.41 256.0V265.6M357.25 256.0V265.6M371.55 256.0V265.6M372.04 256.0V265.6M391.82 256.0V265.6M376.11 256.0V265.6M372.66 256.0V265.6M368.87 256.0V265.6M382.70 256.0V265.6M366.99 256.0V265.6M377.22 256.0V265.6M392.52 256.0V265.6M392.37 256.0V265.6M384.16 256.0V265.6M410.12 256.0V265.6M425.47 256.0V265.6M426.19 256.0V265.6M421.50 256.0V265.6M421.40 256.0V265.6M462.69 256.0V265.6M462.96 256.0V265.6M468.80 256.0V265.6M488.36 256.0V265.6M484.73 256.0V265.6M486.82 256.0V265.6M479.37 256.0V265.6M487.53 256.0V265.6M480.31 256.0V265.6" stroke="#000" stroke-opacity="0.60" stroke-width="0.55"/>
<path d="M354.38 256.0V265.6M354.15 256.0V265.6M362.16 256.0V265.6M352.24 256.0V265.6M353.81 256.0V265.6M357.92 256.0V265.6M361.91 256.0V265.6M358.58 256.0V265.6M365.40 256.0V265.6M391.97 256.0V265.6M363.08 256.0V265.6M385.34 256.0V265.6M364.33 256.0V265.6M395.27 256.0V265.6M390.34 256.0V265.6M389.35 256.0V265.6M395.47 256.0V265.6M369.50 256.0V265.6M378.66 256.0V265.6M389.26 256.0V265.6M367.16 256.0V265.6M410.41 256.0V265.6M409.50 256.0V265.6M400.20 256.0V265.6M414.15 256.0V265.6M403.26 256.0V265.6M412.84 256.0V265.6M409.40 256.0V265.6M442.53 256.0V265.6M469.81 256.0V265.6M431.65 256.0V265.6M468.23 256.0V265.6M483.92 256.0V265.6M487.51 256.0V265.6M484.09 256.0V265.6M487.33 256.0V265.6M479.77 256.0V265.6M482.14 256.0V265.6" stroke="#000" stroke-opacity="0.70" stroke-width="0.55"/>
<path d="M357.72 256.0V265.6M356.88 256.0V265.6M354.47 256.0V265.6M362.38 256.0V265.6M361.62 256.0V265.6M356.19 256.0V265.6M359.10 256.0V265.6M351.73 256.0V265.6M357.66 256.0V265.6M354.75 256.0V265.6M359.39 256.0V265.6M390.92 256.0V265.6M388.83 256.0V265.6M376.38 256.0V265.6M388.94 256.0V265.6M366.21 256.0V265.6M364.41 256.0V265.6M376.70 256.0V265.6M390.51 256.0V265.6M364.23 256.0V265.6M375.07 256.0V265.6M367.25 256.0V265.6M372.45 256.0V265.6M370.99 256.0V265.6M378.65 256.0V265.6M378.99 256.0V265.6M381.83 256.0V265.6M364.86 256.0V265.6M363.24 256.0V265.6M369.59 256.0V265.6M384.63 256.0V265.6M363.73 256.0V265.6M396.72 256.0V265.6M427.45 256.0V265.6M399.27 256.0V265.6M406.46 256.0V265.6M428.45 256.0V265.6M453.72 256.0V265.6M483.69 256.0V265.6M479.86 256.0V265.6M479.66 256.0V265.6M482.53 256.0V265.6M479.72 256.0V265.6" stroke="#000" stroke-opacity="0.80" stroke-width="0.55"/>
<path d="M353.56 256.0V265.6M359.20 256.0V265.6M352.82 256.0V265.6M351.53 256.0V265.6M359.21 256.0V265.6M362.10 256.0V265.6M360.45 256.0V265.6M353.04 256.0V265.6M360.28 256.0V265.6M362.37 256.0V265.6M360.47 256.0V265.6M358.40 256.0V265.6M359.68 256.0V265.6M362.38 256.0V265.6M379.48 256.0V265.6M365.56 256.0V265.6M395.56 256.0V265.6M377.23 256.0V265.6M366.23 256.0V265.6M374.18 256.0V265.6M370.16 256.0V265.6M381.50 256.0V265.6M382.96 256.0V265.6M375.58 256.0V265.6M369.17 256.0V265.6M388.02 256.0V265.6M373.85 256.0V265.6M392.33 256.0V265.6M395.56 256.0V265.6M364.16 256.0V265.6M477.99 256.0V265.6M487.64 256.0V265.6M478.39 256.0V265.6M480.85 256.0V265.6M486.82 256.0V265.6M488.96 256.0V265.6" stroke="#000" stroke-opacity="0.90" stroke-width="0.55"/>
<path d="M353.68 256.0V265.6M361.80 256.0V265.6M358.96 256.0V265.6M362.01 256.0V265.6M360.70 256.0V265.6M356.66 256.0V265.6M487.08 256.0V265.6M479.48 256.0V265.6M485.36 256.0V265.6M488.36 256.0V265.6M488.92 256.0V265.6M477.99 256.0V265.6" stroke="#000" stroke-opacity="1.00" stroke-width="0.55"/>
<line x1="344.60" y1="260.80" x2="499.00" y2="260.80" stroke="#555" stroke-width="0.6" />
<path d="M351.50,260.80 L351.70,254.26 L352.50,238.80 L353.50,223.56 L355.50,212.73 L358.60,203.48 L362.50,197.27 L367.09,192.65 L370.89,191.18 L377.09,191.18 L384.00,194.23 L397.80,201.90 L410.19,211.15 L419.98,220.74 L435.38,233.04 L450.78,246.24 L464.58,257.75 L472.28,263.06 L481.47,268.47 L487.67,270.84 L489.40,267.57 L490.29,260.80" fill="none" stroke="#a9cf8c" stroke-width="0.65" stroke-linejoin="round"/>
<line x1="344.60" y1="187.30" x2="344.60" y2="275.60" stroke="#111" stroke-width="1.1" />
<line x1="344.60" y1="275.60" x2="498.00" y2="275.60" stroke="#111" stroke-width="1.1" />
<line x1="341.20" y1="260.80" x2="344.60" y2="260.80" stroke="#111" stroke-width="0.9" />
<text x="337.70" y="263.31" font-size="7.0" text-anchor="end" fill="#222" stroke="#222" font-weight="normal" >0.0</text>
<line x1="341.20" y1="238.23" x2="344.60" y2="238.23" stroke="#111" stroke-width="0.9" />
<text x="337.70" y="240.74" font-size="7.0" text-anchor="end" fill="#222" stroke="#222" font-weight="normal" >0.2</text>
<line x1="341.20" y1="215.67" x2="344.60" y2="215.67" stroke="#111" stroke-width="0.9" />
<text x="337.70" y="218.17" font-size="7.0" text-anchor="end" fill="#222" stroke="#222" font-weight="normal" >0.4</text>
<line x1="341.20" y1="193.10" x2="344.60" y2="193.10" stroke="#111" stroke-width="0.9" />
<text x="337.70" y="195.61" font-size="7.0" text-anchor="end" fill="#222" stroke="#222" font-weight="normal" >0.6</text>
<line x1="351.50" y1="275.60" x2="351.50" y2="278.80" stroke="#111" stroke-width="0.9" />
<text x="351.50" y="289.01" font-size="7.0" text-anchor="middle" fill="#222" stroke="#222" font-weight="normal" >0</text>
<line x1="395.70" y1="275.60" x2="395.70" y2="278.80" stroke="#111" stroke-width="0.9" />
<text x="395.70" y="289.01" font-size="7.0" text-anchor="middle" fill="#222" stroke="#222" font-weight="normal" >5000</text>
<line x1="439.90" y1="275.60" x2="439.90" y2="278.80" stroke="#111" stroke-width="0.9" />
<text x="439.90" y="289.01" font-size="7.0" text-anchor="middle" fill="#222" stroke="#222" font-weight="normal" >10000</text>
<line x1="484.10" y1="275.60" x2="484.10" y2="278.80" stroke="#111" stroke-width="0.9" />
<text x="484.10" y="289.01" font-size="7.0" text-anchor="middle" fill="#222" stroke="#222" font-weight="normal" >15000</text>
<text x="421.5" y="303.10" font-size="9" font-weight="bold" text-anchor="middle" fill="#222" stroke="#222" textLength="14.2" lengthAdjust="spacingAndGlyphs">Rank</text>
<text transform="translate(322.2,230.95) rotate(-90)" font-size="9.2" font-weight="bold" text-anchor="middle" fill="#222" stroke="#222" textLength="48.2" lengthAdjust="spacingAndGlyphs">Enrichment score</text>
<text x="498.80" y="200.37" font-size="6.9" text-anchor="end" fill="#222" stroke="#222" font-weight="normal" ><tspan font-style="italic">P</tspan>: 1.09e-15</text>
<text x="498.80" y="208.17" font-size="6.9" text-anchor="end" fill="#222" stroke="#222" font-weight="normal" >FDR: 1.25e-12</text>
<text x="498.80" y="216.37" font-size="6.9" text-anchor="end" fill="#222" stroke="#222" font-weight="normal" >NES: 1.735</text>
<text x="421.40" y="323.66" font-size="9.1" text-anchor="middle" fill="#222" stroke="#222" font-weight="normal" textLength="176.4" lengthAdjust="spacingAndGlyphs">KEGG_HEMATOPOIETIC_CELL_LINEAGE</text>
<line x1="346.60" y1="336.30" x2="498.00" y2="336.30" stroke="#ee9aa8" stroke-width="0.7" stroke-dasharray="1.2,1.8"/>
<line x1="346.60" y1="417.50" x2="498.00" y2="417.50" stroke="#e05a6a" stroke-width="0.7" stroke-dasharray="1.2,1.8"/>
<path d="M418.95 404.6V414.6M421.08 404.6V414.6M418.07 404.6V414.6M422.20 404.6V414.6M460.35 404.6V414.6M456.36 404.6V414.6M424.13 404.6V414.6M453.08 404.6V414.6M428.03 404.6V414.6M441.37 404.6V414.6" stroke="#000" stroke-opacity="0.20" stroke-width="0.55"/>
<path d="M388.86 404.6V414.6M387.44 404.6V414.6M368.88 404.6V414.6M400.71 404.6V414.6M413.38 404.6V414.6M404.73 404.6V414.6M394.11 404.6V414.6M409.57 404.6V414.6M433.62 404.6V414.6M425.00 404.6V414.6M445.93 404.6V414.6M459.79 404.6V414.6M447.96 404.6V414.6M428.21 404.6V414.6M444.18 404.6V414.6M465.78 404.6V414.6M434.67 404.6V414.6M435.66 404.6V414.6M479.64 404.6V414.6M479.16 404.6V414.6" stroke="#000" stroke-opacity="0.30" stroke-width="0.55"/>
<path d="M380.26 404.6V414.6M369.52 404.6V414.6M365.60 404.6V414.6M389.38 404.6V414.6M367.73 404.6V414.6M384.72 404.6V414.6M378.72 404.6V414.6M376.17 404.6V414.6M389.47 404.6V414.6M380.55 404.6V414.6M386.41 404.6V414.6M369.06 404.6V414.6M403.28 404.6V414.6M402.39 404.6V414.6M395.56 404.6V414.6M418.55 404.6V414.6M434.34 404.6V414.6M436.80 404.6V414.6M443.09 404.6V414.6M444.84 404.6V414.6M456.19 404.6V414.6M475.53 404.6V414.6M488.58 404.6V414.6M483.46 404.6V414.6M480.84 404.6V414.6M489.18 404.6V414.6M481.09 404.6V414.6" stroke="#000" stroke-opacity="0.40" stroke-width="0.55"/>
<path d="M362.84 404.6V414.6M364.05 404.6V414.6M362.29 404.6V414.6M353.05 404.6V414.6M361.80 404.6V414.6M359.52 404.6V414.6M377.13 404.6V414.6M380.21 404.6V414.6M375.73 404.6V414.6M365.90 404.6V414.6M377.93 404.6V414.6M367.90 404.6V414.6M389.53 404.6V414.6M391.20 404.6V414.6M381.46 404.6V414.6M411.89 404.6V414.6M403.37 404.6V414.6M399.41 404.6V414.6M416.60 404.6V414.6M404.76 404.6V414.6M394.98 404.6V414.6M403.40 404.6V414.6M422.59 404.6V414.6M445.79 404.6V414.6M445.77 404.6V414.6M470.85 404.6V414.6M477.25 404.6V414.6M488.64 404.6V414.6M480.89 404.6V414.6M481.12 404.6V414.6M487.64 404.6V414.6M484.83 404.6V414.6M484.00 404.6V414.6M480.85 404.6V414.6" stroke="#000" stroke-opacity="0.50" stroke-width="0.55"/>
<path d="M364.56 404.6V414.6M352.59 404.6V414.6M358.37 404.6V414.6M362.29 404.6V414.6M358.64 404.6V414.6M355.75 404.6V414.6M356.43 404.6V414.6M358.92 404.6V414.6M369.44 404.6V414.6M372.31 404.6V414.6M375.89 404.6V414.6M371.60 404.6V414.6M372.48 404.6V414.6M378.83 404.6V414.6M367.78 404.6V414.6M388.57 404.6V414.6M365.78 404.6V414.6M381.67 404.6V414.6M364.86 404.6V414.6M383.12 404.6V414.6M387.86 404.6V414.6M381.10 404.6V414.6M377.36 404.6V414.6M374.31 404.6V414.6M371.61 404.6V414.6M375.97 404.6V414.6M373.72 404.6V414.6M414.70 404.6V414.6M416.06 404.6V414.6M396.57 404.6V414.6M394.65 404.6V414.6M397.80 404.6V414.6M468.74 404.6V414.6M435.06 404.6V414.6M445.02 404.6V414.6M423.84 404.6V414.6M453.10 404.6V414.6M481.43 404.6V414.6M486.24 404.6V414.6M483.81 404.6V414.6M488.26 404.6V414.6M482.19 404.6V414.6M482.81 404.6V414.6M487.19 404.6V414.6" stroke="#000" stroke-opacity="0.60" stroke-width="0.55"/>
<path d="M362.97 404.6V414.6M362.25 404.6V414.6M354.97 404.6V414.6M362.34 404.6V414.6M356.92 404.6V414.6M361.27 404.6V414.6M359.44 404.6V414.6M364.33 404.6V414.6M354.46 404.6V414.6M358.76 404.6V414.6M364.21 404.6V414.6M360.25 404.6V414.6M357.54 404.6V414.6M361.21 404.6V414.6M353.15 404.6V414.6M361.37 404.6V414.6M363.10 404.6V414.6M373.07 404.6V414.6M371.65 404.6V414.6M381.62 404.6V414.6M371.77 404.6V414.6M385.32 404.6V414.6M372.02 404.6V414.6M367.19 404.6V414.6M374.33 404.6V414.6M395.28 404.6V414.6M407.06 404.6V414.6M406.55 404.6V414.6M407.66 404.6V414.6M416.59 404.6V414.6M410.69 404.6V414.6M399.29 404.6V414.6M470.09 404.6V414.6M466.80 404.6V414.6M484.27 404.6V414.6M488.58 404.6V414.6M488.02 404.6V414.6M485.70 404.6V414.6M480.59 404.6V414.6M486.15 404.6V414.6M488.21 404.6V414.6M484.04 404.6V414.6M487.59 404.6V414.6" stroke="#000" stroke-opacity="0.70" stroke-width="0.55"/>
<path d="M363.57 404.6V414.6M357.31 404.6V414.6M364.48 404.6V414.6M352.18 404.6V414.6M358.81 404.6V414.6M364.04 404.6V414.6M355.05 404.6V414.6M360.18 404.6V414.6M374.24 404.6V414.6M377.46 404.6V414.6M388.45 404.6V414.6M378.90 404.6V414.6M373.74 404.6V414.6M390.70 404.6V414.6M384.48 404.6V414.6M384.67 404.6V414.6M382.05 404.6V414.6M381.64 404.6V414.6M367.84 404.6V414.6M375.93 404.6V414.6M369.93 404.6V414.6M389.91 404.6V414.6M417.23 404.6V414.6M408.75 404.6V414.6M400.20 404.6V414.6M394.97 404.6V414.6M438.85 404.6V414.6M457.83 404.6V414.6M430.98 404.6V414.6M423.46 404.6V414.6M434.06 404.6V414.6M488.41 404.6V414.6M486.58 404.6V414.6M486.51 404.6V414.6M482.73 404.6V414.6M484.35 404.6V414.6" stroke="#000" stroke-opacity="0.80" stroke-width="0.55"/>
<path d="M351.53 404.6V414.6M355.30 404.6V414.6M358.10 404.6V414.6M354.79 404.6V414.6M351.90 404.6V414.6M358.80 404.6V414.6M361.08 404.6V414.6M358.83 404.6V414.6M361.30 404.6V414.6M352.48 404.6V414.6M357.84 404.6V414.6M361.40 404.6V414.6M353.63 404.6V414.6M389.99 404.6V414.6M376.35 404.6V414.6M366.37 404.6V414.6M367.30 404.6V414.6M373.18 404.6V414.6M380.85 404.6V414.6M364.78 404.6V414.6M484.82 404.6V414.6M487.07 404.6V414.6M480.92 404.6V414.6" stroke="#000" stroke-opacity="0.90" stroke-width="0.55"/>
<path d="M352.52 404.6V414.6M359.64 404.6V414.6M364.66 404.6V414.6M353.06 404.6V414.6M363.81 404.6V414.6M358.53 404.6V414.6" stroke="#000" stroke-opacity="1.00" stroke-width="0.55"/>
<line x1="344.60" y1="409.80" x2="499.00" y2="409.80" stroke="#555" stroke-width="0.6" />
<path d="M351.50,409.80 L351.68,402.33 L352.50,391.56 L354.00,380.79 L356.30,370.03 L359.40,359.13 L362.50,353.05 L367.09,346.85 L371.70,341.53 L377.09,336.97 L384.00,336.46 L390.19,340.01 L405.49,351.53 L419.98,364.20 L435.38,377.37 L450.78,391.18 L466.17,404.23 L475.37,411.19 L481.47,415.75 L487.67,416.51 L489.40,414.87 L490.29,409.80" fill="none" stroke="#a9cf8c" stroke-width="0.65" stroke-linejoin="round"/>
<line x1="344.60" y1="332.90" x2="344.60" y2="421.50" stroke="#111" stroke-width="1.1" />
<line x1="344.60" y1="421.50" x2="498.00" y2="421.50" stroke="#111" stroke-width="1.1" />
<line x1="341.20" y1="409.80" x2="344.60" y2="409.80" stroke="#111" stroke-width="0.9" />
<text x="337.70" y="412.31" font-size="7.0" text-anchor="end" fill="#222" stroke="#222" font-weight="normal" >0.0</text>
<line x1="341.20" y1="384.47" x2="344.60" y2="384.47" stroke="#111" stroke-width="0.9" />
<text x="337.70" y="386.97" font-size="7.0" text-anchor="end" fill="#222" stroke="#222" font-weight="normal" >0.2</text>
<line x1="341.20" y1="359.13" x2="344.60" y2="359.13" stroke="#111" stroke-width="0.9" />
<text x="337.70" y="361.64" font-size="7.0" text-anchor="end" fill="#222" stroke="#222" font-weight="normal" >0.4</text>
<line x1="341.20" y1="333.80" x2="344.60" y2="333.80" stroke="#111" stroke-width="0.9" />
<text x="337.70" y="336.31" font-size="7.0" text-anchor="end" fill="#222" stroke="#222" font-weight="normal" >0.6</text>
<line x1="351.50" y1="421.50" x2="351.50" y2="424.70" stroke="#111" stroke-width="0.9" />
<text x="351.50" y="435.01" font-size="7.0" text-anchor="middle" fill="#222" stroke="#222" font-weight="normal" >0</text>
<line x1="395.70" y1="421.50" x2="395.70" y2="424.70" stroke="#111" stroke-width="0.9" />
<text x="395.70" y="435.01" font-size="7.0" text-anchor="middle" fill="#222" stroke="#222" font-weight="normal" >5000</text>
<line x1="439.90" y1="421.50" x2="439.90" y2="424.70" stroke="#111" stroke-width="0.9" />
<text x="439.90" y="435.01" font-size="7.0" text-anchor="middle" fill="#222" stroke="#222" font-weight="normal" >10000</text>
<line x1="484.10" y1="421.50" x2="484.10" y2="424.70" stroke="#111" stroke-width="0.9" />
<text x="484.10" y="435.01" font-size="7.0" text-anchor="middle" fill="#222" stroke="#222" font-weight="normal" >15000</text>
<text x="421.5" y="448.30" font-size="9" font-weight="bold" text-anchor="middle" fill="#222" stroke="#222" textLength="14.2" lengthAdjust="spacingAndGlyphs">Rank</text>
<text transform="translate(322.2,376.70) rotate(-90)" font-size="9.2" font-weight="bold" text-anchor="middle" fill="#222" stroke="#222" textLength="48.2" lengthAdjust="spacingAndGlyphs">Enrichment score</text>
<text x="498.80" y="345.97" font-size="6.9" text-anchor="end" fill="#222" stroke="#222" font-weight="normal" ><tspan font-style="italic">P</tspan>: 5.02e-02</text>
<text x="498.80" y="354.07" font-size="6.9" text-anchor="end" fill="#222" stroke="#222" font-weight="normal" >FDR: 2.94e-01</text>
<text x="498.80" y="361.97" font-size="6.9" text-anchor="end" fill="#222" stroke="#222" font-weight="normal" >NES: 1.349</text>
<text x="109.05" y="244.77" font-size="6.9" text-anchor="middle" fill="#222" stroke="#222" font-weight="normal" >AML-HSPCs vs</text>
<text x="109.05" y="252.97" font-size="6.9" text-anchor="middle" fill="#222" stroke="#222" font-weight="normal" >UNC1999</text>
<text x="181.05" y="244.77" font-size="6.9" text-anchor="middle" fill="#222" stroke="#222" font-weight="normal" >AML-HSPCs vs</text>
<text x="181.05" y="252.97" font-size="6.9" text-anchor="middle" fill="#222" stroke="#222" font-weight="normal" >UNC1999 + AZA</text>
<text x="253.00" y="244.77" font-size="6.9" text-anchor="middle" fill="#222" stroke="#222" font-weight="normal" >AML-HSPCs vs</text>
<text x="253.00" y="252.97" font-size="6.9" text-anchor="middle" fill="#222" stroke="#222" font-weight="normal" >control-HSPCs</text>
<line x1="77.80" y1="259.20" x2="77.80" y2="382.50" stroke="#111" stroke-width="0.7" stroke-dasharray="1.1,1.9"/>
<line x1="149.60" y1="259.20" x2="149.60" y2="382.50" stroke="#111" stroke-width="0.7" stroke-dasharray="1.1,1.9"/>
<line x1="284.50" y1="259.20" x2="284.50" y2="382.50" stroke="#111" stroke-width="0.7" stroke-dasharray="1.1,1.9"/>
<line x1="71.20" y1="276.00" x2="74.50" y2="276.00" stroke="#111" stroke-width="0.9" />
<text x="67.60" y="274.17" font-size="6.9" text-anchor="end" fill="#222" stroke="#222" font-weight="normal" >KMT2A-r AML</text>
<text x="67.60" y="282.37" font-size="6.9" text-anchor="end" fill="#222" stroke="#222" font-weight="normal" >bivalent genes</text>
<line x1="71.20" y1="305.50" x2="74.50" y2="305.50" stroke="#111" stroke-width="0.9" />
<text x="67.60" y="305.97" font-size="6.9" text-anchor="end" fill="#222" stroke="#222" font-weight="normal" >Healthy CD34<tspan font-size="4.5" dy="-2.6">+</tspan></text>
<text x="67.60" y="313.47" font-size="6.9" text-anchor="end" fill="#222" stroke="#222" font-weight="normal" >bivalent genes</text>
<line x1="71.20" y1="335.50" x2="74.50" y2="335.50" stroke="#111" stroke-width="0.9" />
<text x="67.60" y="333.97" font-size="6.9" text-anchor="end" fill="#222" stroke="#222" font-weight="normal" >up-reg AML-HSPCs</text>
<text x="67.60" y="342.07" font-size="6.9" text-anchor="end" fill="#222" stroke="#222" font-weight="normal" >UNC1999</text>
<line x1="71.20" y1="365.10" x2="74.50" y2="365.10" stroke="#111" stroke-width="0.9" />
<text x="67.60" y="363.67" font-size="6.9" text-anchor="end" fill="#222" stroke="#222" font-weight="normal" >up-reg AML-HSPCs</text>
<text x="67.60" y="371.47" font-size="6.9" text-anchor="end" fill="#222" stroke="#222" font-weight="normal" >UNC1999 + AZA</text>
<circle cx="122.3" cy="276.0" r="2.3" fill="#d4152b"/>
<circle cx="189.2" cy="275.8" r="2.3" fill="#d4152b"/>
<circle cx="248.3" cy="276.0" r="2.3" fill="#d4152b"/>
<circle cx="120.0" cy="305.4" r="2.3" fill="#d4152b"/>
<circle cx="185.2" cy="305.4" r="2.3" fill="#d4152b"/>
<circle cx="247.7" cy="305.4" r="2.3" fill="#d4152b"/>
<circle cx="140.3" cy="335.2" r="2.3" fill="#d4152b"/>
<circle cx="204.6" cy="335.2" r="2.3" fill="#d4152b"/>
<circle cx="245.5" cy="335.3" r="2.3" fill="#3c4c9c"/>
<circle cx="138.5" cy="365.1" r="2.3" fill="#d4152b"/>
<circle cx="212.6" cy="365.4" r="2.3" fill="#d4152b"/>
<circle cx="221.5" cy="365.4" r="2.3" fill="#d4152b"/>
<rect x="74.50" y="258.20" width="69.10" height="124.80" fill="none" stroke="#111" stroke-width="1.1" />
<rect x="146.50" y="258.20" width="69.10" height="124.80" fill="none" stroke="#111" stroke-width="1.1" />
<rect x="218.50" y="258.20" width="69.00" height="124.80" fill="none" stroke="#111" stroke-width="1.1" />
<line x1="77.80" y1="383.00" x2="77.80" y2="386.20" stroke="#111" stroke-width="0.9" />
<text transform="translate(80.27,388.60) rotate(-90)" font-size="6.9" text-anchor="end" fill="#222" stroke="#222">0</text>
<line x1="102.20" y1="383.00" x2="102.20" y2="386.20" stroke="#111" stroke-width="0.9" />
<text transform="translate(104.67,388.60) rotate(-90)" font-size="6.9" text-anchor="end" fill="#222" stroke="#222">1</text>
<line x1="126.50" y1="383.00" x2="126.50" y2="386.20" stroke="#111" stroke-width="0.9" />
<text transform="translate(128.97,388.60) rotate(-90)" font-size="6.9" text-anchor="end" fill="#222" stroke="#222">2</text>
<line x1="149.70" y1="383.00" x2="149.70" y2="386.20" stroke="#111" stroke-width="0.9" />
<text transform="translate(152.17,388.60) rotate(-90)" font-size="6.9" text-anchor="end" fill="#222" stroke="#222">0</text>
<line x1="170.80" y1="383.00" x2="170.80" y2="386.20" stroke="#111" stroke-width="0.9" />
<text transform="translate(173.27,388.60) rotate(-90)" font-size="6.9" text-anchor="end" fill="#222" stroke="#222">1</text>
<line x1="192.00" y1="383.00" x2="192.00" y2="386.20" stroke="#111" stroke-width="0.9" />
<text transform="translate(194.47,388.60) rotate(-90)" font-size="6.9" text-anchor="end" fill="#222" stroke="#222">2</text>
<line x1="212.90" y1="383.00" x2="212.90" y2="386.20" stroke="#111" stroke-width="0.9" />
<text transform="translate(215.37,388.60) rotate(-90)" font-size="6.9" text-anchor="end" fill="#222" stroke="#222">3</text>
<line x1="227.70" y1="383.00" x2="227.70" y2="386.20" stroke="#111" stroke-width="0.9" />
<text transform="translate(230.17,388.60) rotate(-90)" font-size="6.9" text-anchor="end" fill="#222" stroke="#222">−2.0</text>
<line x1="242.20" y1="383.00" x2="242.20" y2="386.20" stroke="#111" stroke-width="0.9" />
<text transform="translate(244.67,388.60) rotate(-90)" font-size="6.9" text-anchor="end" fill="#222" stroke="#222">−1.5</text>
<line x1="256.30" y1="383.00" x2="256.30" y2="386.20" stroke="#111" stroke-width="0.9" />
<text transform="translate(258.77,388.60) rotate(-90)" font-size="6.9" text-anchor="end" fill="#222" stroke="#222">−1.0</text>
<line x1="270.60" y1="383.00" x2="270.60" y2="386.20" stroke="#111" stroke-width="0.9" />
<text transform="translate(273.07,388.60) rotate(-90)" font-size="6.9" text-anchor="end" fill="#222" stroke="#222">−0.5</text>
<line x1="284.50" y1="383.00" x2="284.50" y2="386.20" stroke="#111" stroke-width="0.9" />
<text transform="translate(286.97,388.60) rotate(-90)" font-size="6.9" text-anchor="end" fill="#222" stroke="#222">0.0</text>
<text x="180.8" y="414.8" font-size="9" font-weight="bold" text-anchor="middle" fill="#333" stroke="#333" textLength="102" lengthAdjust="spacingAndGlyphs">Normalized enrichment score (NES)</text>
<defs><linearGradient id="fdr" x1="0" x2="1" y1="0" y2="0"><stop offset="0" stop-color="#e8102a"/><stop offset="0.3" stop-color="#e2106a"/><stop offset="0.6" stop-color="#9a3a96"/><stop offset="1" stop-color="#3a4ea0"/></linearGradient></defs>
<rect x="146.80" y="427.80" width="84.90" height="4.60" fill="url(#fdr)" stroke="none" stroke-width="1" />
<text x="129.80" y="434.91" font-size="7.0" text-anchor="start" fill="#222" stroke="#222" font-weight="normal" >FDR</text>
<text x="168.30" y="441.83" font-size="6.8" text-anchor="middle" fill="#222" stroke="#222" font-weight="normal" >0.01</text>
<text x="190.80" y="441.83" font-size="6.8" text-anchor="middle" fill="#222" stroke="#222" font-weight="normal" >0.02</text>
<text x="211.40" y="441.83" font-size="6.8" text-anchor="middle" fill="#222" stroke="#222" font-weight="normal" >0.03</text>
<text x="91.90" y="530.47" font-size="6.9" text-anchor="middle" fill="#222" stroke="#222" font-weight="normal" >up-reg AML-HSPCs</text>
<text x="91.90" y="539.57" font-size="6.9" text-anchor="middle" fill="#222" stroke="#222" font-weight="normal" >UNC1999</text>
<text x="175.80" y="530.47" font-size="6.9" text-anchor="middle" fill="#222" stroke="#222" font-weight="normal" >up-reg AML-HSPCs</text>
<text x="175.80" y="539.57" font-size="6.9" text-anchor="middle" fill="#222" stroke="#222" font-weight="normal" >UNC1999 + AZA</text>
<defs><clipPath id="cg"><circle cx="97.7" cy="601.5" r="44.2"/></clipPath></defs>
<circle cx="97.7" cy="601.5" r="44.2" fill="#bfcd9f"/>
<circle cx="140.2" cy="602.5" r="60.6" fill="#9e9ad6"/>
<circle cx="140.2" cy="602.5" r="60.6" fill="#777b84" clip-path="url(#cg)"/>
<circle cx="97.7" cy="601.5" r="44.2" fill="none" stroke="#1a1a1a" stroke-width="1"/>
<circle cx="140.2" cy="602.5" r="60.6" fill="none" stroke="#1a1a1a" stroke-width="1"/>
<text x="71.50" y="607.98" font-size="7.2" text-anchor="middle" fill="#222" stroke="#222" font-weight="bold" >26</text>
<text x="112.00" y="607.98" font-size="7.2" text-anchor="middle" fill="#e8e8e8" stroke="#e8e8e8" font-weight="bold" >75</text>
<text x="160.00" y="607.98" font-size="7.2" text-anchor="middle" fill="#222" stroke="#222" font-weight="bold" >214</text>
<text x="80.20" y="658.81" font-size="7.0" text-anchor="middle" fill="#222" stroke="#222" font-weight="normal" >***</text>
<text x="80.40" y="667.91" font-size="7.0" text-anchor="middle" fill="#222" stroke="#222" font-weight="normal" >(<tspan font-style="italic">P</tspan> = 1.82e-128)</text>
<path d="M250.8 485.40h16.6v2.26h-16.6zM250.8 495.45h16.6v2.26h-16.6zM250.8 521.60h16.6v2.26h-16.6zM250.8 539.69h16.6v2.26h-16.6zM250.8 563.83h16.6v2.26h-16.6zM250.8 612.09h16.6v2.26h-16.6zM250.8 626.16h16.6v2.26h-16.6zM250.8 630.19h16.6v2.26h-16.6zM250.8 634.21h16.6v2.26h-16.6zM250.8 676.44h16.6v2.26h-16.6zM250.8 696.55h16.6v2.26h-16.6zM250.8 698.56h16.6v2.26h-16.6zM267.4 493.44h16.6v2.26h-16.6zM267.4 523.61h16.6v2.26h-16.6zM267.4 547.74h16.6v2.26h-16.6zM267.4 549.75h16.6v2.26h-16.6zM267.4 585.95h16.6v2.26h-16.6zM267.4 612.09h16.6v2.26h-16.6zM267.4 616.11h16.6v2.26h-16.6zM267.4 622.14h16.6v2.26h-16.6zM267.4 664.37h16.6v2.26h-16.6zM267.4 704.59h16.6v2.26h-16.6zM284.1 515.56h16.6v2.26h-16.6zM284.1 525.62h16.6v2.26h-16.6zM284.1 537.68h16.6v2.26h-16.6zM284.1 543.72h16.6v2.26h-16.6zM284.1 581.92h16.6v2.26h-16.6zM284.1 610.08h16.6v2.26h-16.6zM369.6 491.43h16.6v2.26h-16.6zM369.6 517.57h16.6v2.26h-16.6zM404.3 551.76h16.2v2.26h-16.2zM404.3 561.81h16.2v2.26h-16.2zM404.3 652.31h16.2v2.26h-16.2zM404.3 674.43h16.2v2.26h-16.2zM420.5 529.64h16.2v2.26h-16.2zM420.5 533.66h16.2v2.26h-16.2zM420.5 551.76h16.2v2.26h-16.2zM420.5 567.85h16.2v2.26h-16.2zM436.6 497.47h16.2v2.26h-16.2zM436.6 533.66h16.2v2.26h-16.2zM436.6 563.83h16.2v2.26h-16.2zM436.6 652.31h16.2v2.26h-16.2zM436.6 680.46h16.2v2.26h-16.2z" fill="#9a2c99" shape-rendering="crispEdges"/>
<path d="M250.8 487.41h16.6v2.26h-16.6zM250.8 624.15h16.6v2.26h-16.6zM267.4 491.43h16.6v2.26h-16.6zM267.4 533.66h16.6v2.26h-16.6zM267.4 539.69h16.6v2.26h-16.6zM284.1 487.41h16.6v2.26h-16.6zM284.1 493.44h16.6v2.26h-16.6zM284.1 626.16h16.6v2.26h-16.6zM302.3 656.33h16.3v2.26h-16.3zM353.0 507.52h16.6v2.26h-16.6zM353.0 519.59h16.6v2.26h-16.6zM353.0 632.20h16.6v2.26h-16.6zM369.6 499.48h16.6v2.26h-16.6zM369.6 501.49h16.6v2.26h-16.6zM369.6 519.59h16.6v2.26h-16.6zM369.6 529.64h16.6v2.26h-16.6zM386.2 499.48h16.6v2.26h-16.6zM404.3 507.52h16.2v2.26h-16.2zM404.3 537.68h16.2v2.26h-16.2zM404.3 583.93h16.2v2.26h-16.2zM404.3 591.98h16.2v2.26h-16.2zM404.3 598.01h16.2v2.26h-16.2zM404.3 610.08h16.2v2.26h-16.2zM404.3 616.11h16.2v2.26h-16.2zM404.3 632.20h16.2v2.26h-16.2zM404.3 682.47h16.2v2.26h-16.2zM404.3 686.49h16.2v2.26h-16.2zM420.5 499.48h16.2v2.26h-16.2zM420.5 513.55h16.2v2.26h-16.2zM420.5 521.60h16.2v2.26h-16.2zM420.5 600.02h16.2v2.26h-16.2zM420.5 612.09h16.2v2.26h-16.2zM420.5 614.10h16.2v2.26h-16.2zM420.5 632.20h16.2v2.26h-16.2zM420.5 638.23h16.2v2.26h-16.2zM420.5 680.46h16.2v2.26h-16.2zM436.6 487.41h16.2v2.26h-16.2zM436.6 517.57h16.2v2.26h-16.2zM436.6 543.72h16.2v2.26h-16.2zM436.6 547.74h16.2v2.26h-16.2zM436.6 559.80h16.2v2.26h-16.2zM436.6 614.10h16.2v2.26h-16.2zM436.6 628.17h16.2v2.26h-16.2zM436.6 636.22h16.2v2.26h-16.2z" fill="#bd398b" shape-rendering="crispEdges"/>
<path d="M250.8 489.42h16.6v2.26h-16.6zM250.8 491.43h16.6v2.26h-16.6zM250.8 511.54h16.6v2.26h-16.6zM284.1 513.55h16.6v2.26h-16.6zM353.0 505.51h16.6v2.26h-16.6zM353.0 511.54h16.6v2.26h-16.6zM353.0 513.55h16.6v2.26h-16.6zM353.0 523.61h16.6v2.26h-16.6zM353.0 626.16h16.6v2.26h-16.6zM353.0 628.17h16.6v2.26h-16.6zM369.6 489.42h16.6v2.26h-16.6zM369.6 493.44h16.6v2.26h-16.6zM369.6 497.47h16.6v2.26h-16.6zM369.6 505.51h16.6v2.26h-16.6zM369.6 507.52h16.6v2.26h-16.6zM369.6 549.75h16.6v2.26h-16.6zM369.6 630.19h16.6v2.26h-16.6zM369.6 664.37h16.6v2.26h-16.6zM369.6 666.38h16.6v2.26h-16.6zM386.2 507.52h16.6v2.26h-16.6zM386.2 523.61h16.6v2.26h-16.6zM386.2 525.62h16.6v2.26h-16.6zM404.3 493.44h16.2v2.26h-16.2zM404.3 499.48h16.2v2.26h-16.2zM404.3 505.51h16.2v2.26h-16.2zM404.3 509.53h16.2v2.26h-16.2zM404.3 543.72h16.2v2.26h-16.2zM404.3 545.73h16.2v2.26h-16.2zM404.3 593.99h16.2v2.26h-16.2zM404.3 604.04h16.2v2.26h-16.2zM404.3 650.29h16.2v2.26h-16.2zM404.3 662.36h16.2v2.26h-16.2zM404.3 684.48h16.2v2.26h-16.2zM420.5 509.53h16.2v2.26h-16.2zM420.5 511.54h16.2v2.26h-16.2zM420.5 555.78h16.2v2.26h-16.2zM420.5 559.80h16.2v2.26h-16.2zM420.5 569.86h16.2v2.26h-16.2zM420.5 571.87h16.2v2.26h-16.2zM420.5 616.11h16.2v2.26h-16.2zM420.5 640.24h16.2v2.26h-16.2zM420.5 698.56h16.2v2.26h-16.2zM436.6 527.63h16.2v2.26h-16.2zM436.6 531.65h16.2v2.26h-16.2zM436.6 660.35h16.2v2.26h-16.2zM436.6 692.52h16.2v2.26h-16.2z" fill="#c84187" shape-rendering="crispEdges"/>
<path d="M250.8 493.44h16.6v2.26h-16.6zM250.8 583.93h16.6v2.26h-16.6zM250.8 692.52h16.6v2.26h-16.6zM267.4 511.54h16.6v2.26h-16.6zM267.4 630.19h16.6v2.26h-16.6zM284.1 529.64h16.6v2.26h-16.6zM284.1 628.17h16.6v2.26h-16.6zM369.6 515.56h16.6v2.26h-16.6zM404.3 511.54h16.2v2.26h-16.2zM404.3 515.56h16.2v2.26h-16.2zM404.3 523.61h16.2v2.26h-16.2zM404.3 547.74h16.2v2.26h-16.2zM404.3 553.77h16.2v2.26h-16.2zM404.3 622.14h16.2v2.26h-16.2zM404.3 672.41h16.2v2.26h-16.2zM404.3 694.53h16.2v2.26h-16.2zM420.5 491.43h16.2v2.26h-16.2zM420.5 531.65h16.2v2.26h-16.2zM420.5 547.74h16.2v2.26h-16.2zM420.5 636.22h16.2v2.26h-16.2zM420.5 674.43h16.2v2.26h-16.2zM420.5 682.47h16.2v2.26h-16.2zM436.6 537.68h16.2v2.26h-16.2zM436.6 551.76h16.2v2.26h-16.2zM436.6 571.87h16.2v2.26h-16.2zM436.6 577.90h16.2v2.26h-16.2zM436.6 583.93h16.2v2.26h-16.2zM436.6 610.08h16.2v2.26h-16.2zM436.6 632.20h16.2v2.26h-16.2zM436.6 684.48h16.2v2.26h-16.2z" fill="#b2328f" shape-rendering="crispEdges"/>
<path d="M250.8 497.47h16.6v2.26h-16.6zM250.8 519.59h16.6v2.26h-16.6zM250.8 537.68h16.6v2.26h-16.6zM250.8 545.73h16.6v2.26h-16.6zM250.8 549.75h16.6v2.26h-16.6zM250.8 557.79h16.6v2.26h-16.6zM250.8 602.03h16.6v2.26h-16.6zM250.8 604.04h16.6v2.26h-16.6zM250.8 614.10h16.6v2.26h-16.6zM250.8 620.13h16.6v2.26h-16.6zM250.8 628.17h16.6v2.26h-16.6zM250.8 648.28h16.6v2.26h-16.6zM250.8 660.35h16.6v2.26h-16.6zM250.8 662.36h16.6v2.26h-16.6zM250.8 664.37h16.6v2.26h-16.6zM250.8 672.41h16.6v2.26h-16.6zM267.4 495.45h16.6v2.26h-16.6zM267.4 507.52h16.6v2.26h-16.6zM267.4 525.62h16.6v2.26h-16.6zM267.4 563.83h16.6v2.26h-16.6zM267.4 565.84h16.6v2.26h-16.6zM267.4 579.91h16.6v2.26h-16.6zM267.4 581.92h16.6v2.26h-16.6zM267.4 587.96h16.6v2.26h-16.6zM267.4 598.01h16.6v2.26h-16.6zM267.4 694.53h16.6v2.26h-16.6zM284.1 593.99h16.6v2.26h-16.6zM284.1 596.00h16.6v2.26h-16.6zM284.1 668.39h16.6v2.26h-16.6zM284.1 704.59h16.6v2.26h-16.6zM404.3 531.65h16.2v2.26h-16.2zM404.3 535.67h16.2v2.26h-16.2zM404.3 565.84h16.2v2.26h-16.2zM420.5 535.67h16.2v2.26h-16.2zM436.6 513.55h16.2v2.26h-16.2zM436.6 567.85h16.2v2.26h-16.2z" fill="#8e2a9e" shape-rendering="crispEdges"/>
<path d="M250.8 499.48h16.6v2.26h-16.6zM250.8 577.90h16.6v2.26h-16.6zM250.8 678.45h16.6v2.26h-16.6zM250.8 684.48h16.6v2.26h-16.6zM267.4 499.48h16.6v2.26h-16.6zM267.4 503.50h16.6v2.26h-16.6zM267.4 559.80h16.6v2.26h-16.6zM267.4 591.98h16.6v2.26h-16.6zM267.4 596.00h16.6v2.26h-16.6zM267.4 638.23h16.6v2.26h-16.6zM267.4 680.46h16.6v2.26h-16.6zM267.4 690.51h16.6v2.26h-16.6zM284.1 575.89h16.6v2.26h-16.6zM284.1 640.24h16.6v2.26h-16.6zM284.1 658.34h16.6v2.26h-16.6zM284.1 700.57h16.6v2.26h-16.6zM436.6 565.84h16.2v2.26h-16.2z" fill="#682b9e" shape-rendering="crispEdges"/>
<path d="M250.8 501.49h16.6v2.26h-16.6zM250.8 565.84h16.6v2.26h-16.6zM250.8 567.85h16.6v2.26h-16.6zM250.8 573.88h16.6v2.26h-16.6zM250.8 589.97h16.6v2.26h-16.6zM250.8 593.99h16.6v2.26h-16.6zM250.8 600.02h16.6v2.26h-16.6zM250.8 682.47h16.6v2.26h-16.6zM250.8 690.51h16.6v2.26h-16.6zM250.8 700.57h16.6v2.26h-16.6zM267.4 519.59h16.6v2.26h-16.6zM267.4 553.77h16.6v2.26h-16.6zM267.4 561.81h16.6v2.26h-16.6zM267.4 610.08h16.6v2.26h-16.6zM267.4 628.17h16.6v2.26h-16.6zM267.4 636.22h16.6v2.26h-16.6zM267.4 648.28h16.6v2.26h-16.6zM267.4 650.29h16.6v2.26h-16.6zM267.4 654.32h16.6v2.26h-16.6zM267.4 682.47h16.6v2.26h-16.6zM284.1 505.51h16.6v2.26h-16.6zM284.1 507.52h16.6v2.26h-16.6zM284.1 551.76h16.6v2.26h-16.6zM284.1 563.83h16.6v2.26h-16.6zM284.1 569.86h16.6v2.26h-16.6zM284.1 573.88h16.6v2.26h-16.6zM284.1 614.10h16.6v2.26h-16.6zM284.1 632.20h16.6v2.26h-16.6zM284.1 670.40h16.6v2.26h-16.6z" fill="#742aa0" shape-rendering="crispEdges"/>
<path d="M250.8 503.50h16.6v2.26h-16.6zM250.8 515.56h16.6v2.26h-16.6zM250.8 553.77h16.6v2.26h-16.6zM250.8 575.89h16.6v2.26h-16.6zM250.8 579.91h16.6v2.26h-16.6zM250.8 598.01h16.6v2.26h-16.6zM250.8 616.11h16.6v2.26h-16.6zM250.8 658.34h16.6v2.26h-16.6zM267.4 571.87h16.6v2.26h-16.6zM267.4 589.97h16.6v2.26h-16.6zM267.4 593.99h16.6v2.26h-16.6zM267.4 656.33h16.6v2.26h-16.6zM267.4 684.48h16.6v2.26h-16.6zM284.1 499.48h16.6v2.26h-16.6zM284.1 553.77h16.6v2.26h-16.6zM284.1 567.85h16.6v2.26h-16.6zM284.1 571.87h16.6v2.26h-16.6zM284.1 600.02h16.6v2.26h-16.6zM284.1 618.12h16.6v2.26h-16.6zM284.1 638.23h16.6v2.26h-16.6zM284.1 648.28h16.6v2.26h-16.6zM284.1 662.36h16.6v2.26h-16.6zM284.1 664.37h16.6v2.26h-16.6zM404.3 563.83h16.2v2.26h-16.2z" fill="#7b2a9f" shape-rendering="crispEdges"/>
<path d="M250.8 505.51h16.6v2.26h-16.6zM250.8 523.61h16.6v2.26h-16.6zM250.8 525.62h16.6v2.26h-16.6zM250.8 529.64h16.6v2.26h-16.6zM250.8 561.81h16.6v2.26h-16.6zM250.8 606.05h16.6v2.26h-16.6zM250.8 636.22h16.6v2.26h-16.6zM250.8 666.38h16.6v2.26h-16.6zM250.8 702.58h16.6v2.26h-16.6zM267.4 515.56h16.6v2.26h-16.6zM267.4 521.60h16.6v2.26h-16.6zM267.4 535.67h16.6v2.26h-16.6zM267.4 583.93h16.6v2.26h-16.6zM267.4 600.02h16.6v2.26h-16.6zM267.4 624.15h16.6v2.26h-16.6zM267.4 632.20h16.6v2.26h-16.6zM284.1 521.60h16.6v2.26h-16.6zM284.1 585.95h16.6v2.26h-16.6zM284.1 624.15h16.6v2.26h-16.6zM353.0 499.48h16.6v2.26h-16.6zM353.0 517.57h16.6v2.26h-16.6zM369.6 513.55h16.6v2.26h-16.6zM404.3 525.62h16.2v2.26h-16.2zM404.3 527.63h16.2v2.26h-16.2zM404.3 654.32h16.2v2.26h-16.2zM404.3 656.33h16.2v2.26h-16.2zM420.5 525.62h16.2v2.26h-16.2zM420.5 537.68h16.2v2.26h-16.2zM436.6 499.48h16.2v2.26h-16.2zM436.6 553.77h16.2v2.26h-16.2zM436.6 569.86h16.2v2.26h-16.2zM436.6 668.39h16.2v2.26h-16.2zM436.6 674.43h16.2v2.26h-16.2z" fill="#a02c96" shape-rendering="crispEdges"/>
<path d="M250.8 507.52h16.6v2.26h-16.6zM250.8 622.14h16.6v2.26h-16.6zM250.8 674.43h16.6v2.26h-16.6zM267.4 513.55h16.6v2.26h-16.6zM267.4 527.63h16.6v2.26h-16.6zM267.4 537.68h16.6v2.26h-16.6zM284.1 533.66h16.6v2.26h-16.6zM386.2 517.57h16.6v2.26h-16.6zM420.5 493.44h16.2v2.26h-16.2zM420.5 507.52h16.2v2.26h-16.2zM420.5 523.61h16.2v2.26h-16.2zM420.5 527.63h16.2v2.26h-16.2zM420.5 539.69h16.2v2.26h-16.2zM420.5 543.72h16.2v2.26h-16.2zM420.5 545.73h16.2v2.26h-16.2zM420.5 549.75h16.2v2.26h-16.2zM436.6 541.71h16.2v2.26h-16.2zM436.6 573.88h16.2v2.26h-16.2zM436.6 612.09h16.2v2.26h-16.2zM436.6 682.47h16.2v2.26h-16.2z" fill="#a62d94" shape-rendering="crispEdges"/>
<path d="M250.8 509.53h16.6v2.26h-16.6zM267.4 509.53h16.6v2.26h-16.6zM302.3 680.46h16.3v2.26h-16.3zM302.3 688.50h16.3v2.26h-16.3zM302.3 696.55h16.3v2.26h-16.3zM318.6 610.08h16.3v2.26h-16.3zM353.0 539.69h16.6v2.26h-16.6zM353.0 541.71h16.6v2.26h-16.6zM353.0 579.91h16.6v2.26h-16.6zM353.0 581.92h16.6v2.26h-16.6zM353.0 587.96h16.6v2.26h-16.6zM353.0 600.02h16.6v2.26h-16.6zM353.0 616.11h16.6v2.26h-16.6zM353.0 624.15h16.6v2.26h-16.6zM353.0 678.45h16.6v2.26h-16.6zM369.6 587.96h16.6v2.26h-16.6zM369.6 624.15h16.6v2.26h-16.6zM369.6 670.40h16.6v2.26h-16.6zM369.6 698.56h16.6v2.26h-16.6zM386.2 497.47h16.6v2.26h-16.6zM386.2 503.50h16.6v2.26h-16.6zM386.2 535.67h16.6v2.26h-16.6zM404.3 501.49h16.2v2.26h-16.2zM404.3 600.02h16.2v2.26h-16.2zM404.3 624.15h16.2v2.26h-16.2zM420.5 573.88h16.2v2.26h-16.2zM420.5 581.92h16.2v2.26h-16.2zM420.5 662.36h16.2v2.26h-16.2zM420.5 690.51h16.2v2.26h-16.2zM436.6 491.43h16.2v2.26h-16.2zM436.6 602.03h16.2v2.26h-16.2zM436.6 616.11h16.2v2.26h-16.2zM436.6 620.13h16.2v2.26h-16.2zM436.6 622.14h16.2v2.26h-16.2zM436.6 624.15h16.2v2.26h-16.2zM436.6 676.44h16.2v2.26h-16.2z" fill="#da557f" shape-rendering="crispEdges"/>
<path d="M250.8 513.55h16.6v2.26h-16.6zM250.8 533.66h16.6v2.26h-16.6zM250.8 535.67h16.6v2.26h-16.6zM250.8 543.72h16.6v2.26h-16.6zM250.8 585.95h16.6v2.26h-16.6zM250.8 610.08h16.6v2.26h-16.6zM284.1 523.61h16.6v2.26h-16.6zM284.1 539.69h16.6v2.26h-16.6zM284.1 541.71h16.6v2.26h-16.6zM284.1 604.04h16.6v2.26h-16.6zM284.1 702.58h16.6v2.26h-16.6zM353.0 515.56h16.6v2.26h-16.6zM369.6 511.54h16.6v2.26h-16.6zM369.6 571.87h16.6v2.26h-16.6zM404.3 497.47h16.2v2.26h-16.2zM404.3 533.66h16.2v2.26h-16.2zM404.3 539.69h16.2v2.26h-16.2zM404.3 569.86h16.2v2.26h-16.2zM404.3 571.87h16.2v2.26h-16.2zM404.3 587.96h16.2v2.26h-16.2zM404.3 640.24h16.2v2.26h-16.2zM404.3 664.37h16.2v2.26h-16.2zM404.3 668.39h16.2v2.26h-16.2zM404.3 676.44h16.2v2.26h-16.2zM420.5 505.51h16.2v2.26h-16.2zM420.5 541.71h16.2v2.26h-16.2zM420.5 583.93h16.2v2.26h-16.2zM420.5 652.31h16.2v2.26h-16.2zM420.5 656.33h16.2v2.26h-16.2zM436.6 501.49h16.2v2.26h-16.2zM436.6 515.56h16.2v2.26h-16.2zM436.6 549.75h16.2v2.26h-16.2zM436.6 555.78h16.2v2.26h-16.2zM436.6 670.40h16.2v2.26h-16.2z" fill="#ac2e91" shape-rendering="crispEdges"/>
<path d="M250.8 517.57h16.6v2.26h-16.6zM250.8 547.74h16.6v2.26h-16.6zM250.8 559.80h16.6v2.26h-16.6zM250.8 581.92h16.6v2.26h-16.6zM250.8 608.07h16.6v2.26h-16.6zM250.8 652.31h16.6v2.26h-16.6zM267.4 485.40h16.6v2.26h-16.6zM267.4 501.49h16.6v2.26h-16.6zM267.4 505.51h16.6v2.26h-16.6zM267.4 696.55h16.6v2.26h-16.6zM284.1 535.67h16.6v2.26h-16.6zM284.1 555.78h16.6v2.26h-16.6zM284.1 559.80h16.6v2.26h-16.6zM284.1 561.81h16.6v2.26h-16.6zM284.1 577.90h16.6v2.26h-16.6zM284.1 598.01h16.6v2.26h-16.6zM284.1 622.14h16.6v2.26h-16.6zM284.1 694.53h16.6v2.26h-16.6zM284.1 696.55h16.6v2.26h-16.6zM420.5 563.83h16.2v2.26h-16.2z" fill="#812a9f" shape-rendering="crispEdges"/>
<path d="M250.8 527.63h16.6v2.26h-16.6zM250.8 541.71h16.6v2.26h-16.6zM250.8 551.76h16.6v2.26h-16.6zM250.8 656.33h16.6v2.26h-16.6zM250.8 668.39h16.6v2.26h-16.6zM267.4 545.73h16.6v2.26h-16.6zM267.4 614.10h16.6v2.26h-16.6zM267.4 626.16h16.6v2.26h-16.6zM267.4 676.44h16.6v2.26h-16.6zM267.4 702.58h16.6v2.26h-16.6zM284.1 501.49h16.6v2.26h-16.6zM284.1 519.59h16.6v2.26h-16.6zM284.1 579.91h16.6v2.26h-16.6zM284.1 606.05h16.6v2.26h-16.6zM284.1 608.07h16.6v2.26h-16.6zM284.1 630.19h16.6v2.26h-16.6zM284.1 652.31h16.6v2.26h-16.6zM284.1 666.38h16.6v2.26h-16.6zM284.1 676.44h16.6v2.26h-16.6zM404.3 529.64h16.2v2.26h-16.2zM420.5 585.95h16.2v2.26h-16.2zM436.6 535.67h16.2v2.26h-16.2z" fill="#942b9b" shape-rendering="crispEdges"/>
<path d="M250.8 531.65h16.6v2.26h-16.6zM267.4 531.65h16.6v2.26h-16.6zM284.1 489.42h16.6v2.26h-16.6zM284.1 531.65h16.6v2.26h-16.6zM302.3 610.08h16.3v2.26h-16.3zM302.3 660.35h16.3v2.26h-16.3zM318.6 658.34h16.3v2.26h-16.3zM353.0 485.40h16.6v2.26h-16.6zM353.0 487.41h16.6v2.26h-16.6zM353.0 503.50h16.6v2.26h-16.6zM353.0 529.64h16.6v2.26h-16.6zM353.0 543.72h16.6v2.26h-16.6zM353.0 545.73h16.6v2.26h-16.6zM353.0 553.77h16.6v2.26h-16.6zM353.0 634.21h16.6v2.26h-16.6zM353.0 688.50h16.6v2.26h-16.6zM369.6 541.71h16.6v2.26h-16.6zM369.6 622.14h16.6v2.26h-16.6zM369.6 626.16h16.6v2.26h-16.6zM369.6 632.20h16.6v2.26h-16.6zM369.6 634.21h16.6v2.26h-16.6zM369.6 636.22h16.6v2.26h-16.6zM369.6 638.23h16.6v2.26h-16.6zM369.6 652.31h16.6v2.26h-16.6zM369.6 662.36h16.6v2.26h-16.6zM386.2 515.56h16.6v2.26h-16.6zM404.3 487.41h16.2v2.26h-16.2zM404.3 489.42h16.2v2.26h-16.2zM404.3 519.59h16.2v2.26h-16.2zM404.3 541.71h16.2v2.26h-16.2zM404.3 555.78h16.2v2.26h-16.2zM404.3 608.07h16.2v2.26h-16.2zM404.3 626.16h16.2v2.26h-16.2zM404.3 642.25h16.2v2.26h-16.2zM404.3 666.38h16.2v2.26h-16.2zM404.3 704.59h16.2v2.26h-16.2zM420.5 497.47h16.2v2.26h-16.2zM420.5 622.14h16.2v2.26h-16.2zM420.5 628.17h16.2v2.26h-16.2zM420.5 650.29h16.2v2.26h-16.2zM420.5 676.44h16.2v2.26h-16.2zM420.5 684.48h16.2v2.26h-16.2zM420.5 700.57h16.2v2.26h-16.2zM436.6 523.61h16.2v2.26h-16.2zM436.6 596.00h16.2v2.26h-16.2zM436.6 600.02h16.2v2.26h-16.2zM436.6 608.07h16.2v2.26h-16.2zM436.6 662.36h16.2v2.26h-16.2zM436.6 696.55h16.2v2.26h-16.2z" fill="#cc4685" shape-rendering="crispEdges"/>
<path d="M250.8 555.78h16.6v2.26h-16.6zM250.8 571.87h16.6v2.26h-16.6zM250.8 587.96h16.6v2.26h-16.6zM250.8 618.12h16.6v2.26h-16.6zM250.8 650.29h16.6v2.26h-16.6zM250.8 654.32h16.6v2.26h-16.6zM250.8 704.59h16.6v2.26h-16.6zM267.4 487.41h16.6v2.26h-16.6zM267.4 497.47h16.6v2.26h-16.6zM267.4 517.57h16.6v2.26h-16.6zM267.4 551.76h16.6v2.26h-16.6zM267.4 567.85h16.6v2.26h-16.6zM267.4 569.86h16.6v2.26h-16.6zM267.4 618.12h16.6v2.26h-16.6zM267.4 634.21h16.6v2.26h-16.6zM267.4 662.36h16.6v2.26h-16.6zM267.4 666.38h16.6v2.26h-16.6zM267.4 678.45h16.6v2.26h-16.6zM267.4 692.52h16.6v2.26h-16.6zM284.1 517.57h16.6v2.26h-16.6zM284.1 527.63h16.6v2.26h-16.6zM284.1 587.96h16.6v2.26h-16.6zM284.1 612.09h16.6v2.26h-16.6zM284.1 616.11h16.6v2.26h-16.6zM284.1 650.29h16.6v2.26h-16.6zM284.1 654.32h16.6v2.26h-16.6zM284.1 660.35h16.6v2.26h-16.6zM284.1 692.52h16.6v2.26h-16.6zM404.3 521.60h16.2v2.26h-16.2z" fill="#882a9e" shape-rendering="crispEdges"/>
<path d="M250.8 569.86h16.6v2.26h-16.6zM250.8 596.00h16.6v2.26h-16.6zM250.8 642.25h16.6v2.26h-16.6zM267.4 555.78h16.6v2.26h-16.6zM267.4 575.89h16.6v2.26h-16.6zM267.4 577.90h16.6v2.26h-16.6zM267.4 604.04h16.6v2.26h-16.6zM267.4 620.13h16.6v2.26h-16.6zM267.4 658.34h16.6v2.26h-16.6zM267.4 660.35h16.6v2.26h-16.6zM267.4 672.41h16.6v2.26h-16.6zM267.4 688.50h16.6v2.26h-16.6zM284.1 497.47h16.6v2.26h-16.6zM284.1 503.50h16.6v2.26h-16.6zM284.1 545.73h16.6v2.26h-16.6zM284.1 557.79h16.6v2.26h-16.6zM284.1 565.84h16.6v2.26h-16.6zM284.1 634.21h16.6v2.26h-16.6zM284.1 636.22h16.6v2.26h-16.6zM284.1 656.33h16.6v2.26h-16.6zM284.1 678.45h16.6v2.26h-16.6zM284.1 682.47h16.6v2.26h-16.6zM284.1 684.48h16.6v2.26h-16.6z" fill="#6e2aa0" shape-rendering="crispEdges"/>
<path d="M250.8 591.98h16.6v2.26h-16.6zM250.8 640.24h16.6v2.26h-16.6zM250.8 670.40h16.6v2.26h-16.6zM250.8 686.49h16.6v2.26h-16.6zM267.4 674.43h16.6v2.26h-16.6zM284.1 495.45h16.6v2.26h-16.6zM284.1 589.97h16.6v2.26h-16.6zM284.1 686.49h16.6v2.26h-16.6z" fill="#4e2d96" shape-rendering="crispEdges"/>
<path d="M250.8 632.20h16.6v2.26h-16.6zM250.8 646.27h16.6v2.26h-16.6zM250.8 688.50h16.6v2.26h-16.6zM267.4 573.88h16.6v2.26h-16.6zM267.4 606.05h16.6v2.26h-16.6zM267.4 652.31h16.6v2.26h-16.6zM267.4 686.49h16.6v2.26h-16.6zM267.4 700.57h16.6v2.26h-16.6zM284.1 549.75h16.6v2.26h-16.6zM284.1 602.03h16.6v2.26h-16.6zM284.1 620.13h16.6v2.26h-16.6zM284.1 642.25h16.6v2.26h-16.6zM284.1 688.50h16.6v2.26h-16.6zM284.1 690.51h16.6v2.26h-16.6zM284.1 698.56h16.6v2.26h-16.6zM420.5 565.84h16.2v2.26h-16.2z" fill="#5b2c9a" shape-rendering="crispEdges"/>
<path d="M250.8 638.23h16.6v2.26h-16.6zM250.8 644.26h16.6v2.26h-16.6zM267.4 557.79h16.6v2.26h-16.6zM267.4 602.03h16.6v2.26h-16.6zM267.4 608.07h16.6v2.26h-16.6zM267.4 698.56h16.6v2.26h-16.6zM284.1 547.74h16.6v2.26h-16.6zM284.1 644.26h16.6v2.26h-16.6zM284.1 672.41h16.6v2.26h-16.6z" fill="#612b9c" shape-rendering="crispEdges"/>
<path d="M250.8 680.46h16.6v2.26h-16.6zM267.4 640.24h16.6v2.26h-16.6zM267.4 670.40h16.6v2.26h-16.6zM284.1 591.98h16.6v2.26h-16.6zM284.1 646.27h16.6v2.26h-16.6zM284.1 674.43h16.6v2.26h-16.6z" fill="#542c98" shape-rendering="crispEdges"/>
<path d="M250.8 694.53h16.6v2.26h-16.6zM267.4 489.42h16.6v2.26h-16.6zM284.1 485.40h16.6v2.26h-16.6zM284.1 509.53h16.6v2.26h-16.6zM284.1 583.93h16.6v2.26h-16.6zM318.6 656.33h16.3v2.26h-16.3zM318.6 688.50h16.3v2.26h-16.3zM353.0 491.43h16.6v2.26h-16.6zM369.6 533.66h16.6v2.26h-16.6zM369.6 543.72h16.6v2.26h-16.6zM369.6 569.86h16.6v2.26h-16.6zM369.6 690.51h16.6v2.26h-16.6zM404.3 495.45h16.2v2.26h-16.2zM404.3 549.75h16.2v2.26h-16.2zM404.3 567.85h16.2v2.26h-16.2zM404.3 638.23h16.2v2.26h-16.2zM404.3 658.34h16.2v2.26h-16.2zM404.3 670.40h16.2v2.26h-16.2zM420.5 489.42h16.2v2.26h-16.2zM420.5 515.56h16.2v2.26h-16.2zM420.5 517.57h16.2v2.26h-16.2zM420.5 519.59h16.2v2.26h-16.2zM420.5 557.79h16.2v2.26h-16.2zM420.5 618.12h16.2v2.26h-16.2zM420.5 664.37h16.2v2.26h-16.2zM420.5 666.38h16.2v2.26h-16.2zM420.5 686.49h16.2v2.26h-16.2zM436.6 509.53h16.2v2.26h-16.2zM436.6 511.54h16.2v2.26h-16.2zM436.6 525.62h16.2v2.26h-16.2zM436.6 529.64h16.2v2.26h-16.2zM436.6 539.69h16.2v2.26h-16.2zM436.6 545.73h16.2v2.26h-16.2zM436.6 557.79h16.2v2.26h-16.2zM436.6 587.96h16.2v2.26h-16.2zM436.6 589.97h16.2v2.26h-16.2zM436.6 591.98h16.2v2.26h-16.2zM436.6 630.19h16.2v2.26h-16.2zM436.6 654.32h16.2v2.26h-16.2z" fill="#b7368d" shape-rendering="crispEdges"/>
<path d="M267.4 529.64h16.6v2.26h-16.6zM302.3 658.34h16.3v2.26h-16.3zM353.0 495.45h16.6v2.26h-16.6zM353.0 497.47h16.6v2.26h-16.6zM353.0 509.53h16.6v2.26h-16.6zM353.0 533.66h16.6v2.26h-16.6zM353.0 535.67h16.6v2.26h-16.6zM353.0 557.79h16.6v2.26h-16.6zM353.0 559.80h16.6v2.26h-16.6zM353.0 569.86h16.6v2.26h-16.6zM353.0 589.97h16.6v2.26h-16.6zM353.0 598.01h16.6v2.26h-16.6zM353.0 666.38h16.6v2.26h-16.6zM353.0 696.55h16.6v2.26h-16.6zM369.6 509.53h16.6v2.26h-16.6zM369.6 535.67h16.6v2.26h-16.6zM369.6 539.69h16.6v2.26h-16.6zM369.6 573.88h16.6v2.26h-16.6zM369.6 628.17h16.6v2.26h-16.6zM369.6 654.32h16.6v2.26h-16.6zM369.6 692.52h16.6v2.26h-16.6zM386.2 511.54h16.6v2.26h-16.6zM386.2 529.64h16.6v2.26h-16.6zM386.2 531.65h16.6v2.26h-16.6zM386.2 533.66h16.6v2.26h-16.6zM386.2 628.17h16.6v2.26h-16.6zM404.3 503.50h16.2v2.26h-16.2zM404.3 557.79h16.2v2.26h-16.2zM404.3 577.90h16.2v2.26h-16.2zM404.3 596.00h16.2v2.26h-16.2zM404.3 618.12h16.2v2.26h-16.2zM420.5 577.90h16.2v2.26h-16.2zM420.5 579.91h16.2v2.26h-16.2zM420.5 604.04h16.2v2.26h-16.2zM420.5 610.08h16.2v2.26h-16.2zM420.5 642.25h16.2v2.26h-16.2zM420.5 660.35h16.2v2.26h-16.2zM420.5 670.40h16.2v2.26h-16.2zM420.5 678.45h16.2v2.26h-16.2zM420.5 694.53h16.2v2.26h-16.2zM420.5 696.55h16.2v2.26h-16.2zM436.6 485.40h16.2v2.26h-16.2zM436.6 505.51h16.2v2.26h-16.2zM436.6 507.52h16.2v2.26h-16.2zM436.6 579.91h16.2v2.26h-16.2zM436.6 581.92h16.2v2.26h-16.2zM436.6 658.34h16.2v2.26h-16.2zM436.6 664.37h16.2v2.26h-16.2zM436.6 678.45h16.2v2.26h-16.2z" fill="#d14b83" shape-rendering="crispEdges"/>
<path d="M267.4 541.71h16.6v2.26h-16.6zM302.3 654.32h16.3v2.26h-16.3zM302.3 664.37h16.3v2.26h-16.3zM302.3 668.39h16.3v2.26h-16.3zM353.0 489.42h16.6v2.26h-16.6zM353.0 493.44h16.6v2.26h-16.6zM353.0 596.00h16.6v2.26h-16.6zM353.0 602.03h16.6v2.26h-16.6zM353.0 698.56h16.6v2.26h-16.6zM369.6 527.63h16.6v2.26h-16.6zM386.2 491.43h16.6v2.26h-16.6zM386.2 501.49h16.6v2.26h-16.6zM386.2 505.51h16.6v2.26h-16.6zM404.3 485.40h16.2v2.26h-16.2zM404.3 581.92h16.2v2.26h-16.2zM404.3 620.13h16.2v2.26h-16.2zM404.3 628.17h16.2v2.26h-16.2zM404.3 634.21h16.2v2.26h-16.2zM404.3 700.57h16.2v2.26h-16.2zM420.5 589.97h16.2v2.26h-16.2zM420.5 591.98h16.2v2.26h-16.2zM420.5 658.34h16.2v2.26h-16.2zM420.5 692.52h16.2v2.26h-16.2zM436.6 503.50h16.2v2.26h-16.2zM436.6 585.95h16.2v2.26h-16.2zM436.6 604.04h16.2v2.26h-16.2zM436.6 626.16h16.2v2.26h-16.2zM436.6 642.25h16.2v2.26h-16.2zM436.6 650.29h16.2v2.26h-16.2zM436.6 698.56h16.2v2.26h-16.2zM436.6 700.57h16.2v2.26h-16.2z" fill="#d55081" shape-rendering="crispEdges"/>
<path d="M267.4 543.72h16.6v2.26h-16.6zM284.1 491.43h16.6v2.26h-16.6zM284.1 511.54h16.6v2.26h-16.6zM353.0 501.49h16.6v2.26h-16.6zM353.0 525.62h16.6v2.26h-16.6zM353.0 527.63h16.6v2.26h-16.6zM353.0 531.65h16.6v2.26h-16.6zM353.0 630.19h16.6v2.26h-16.6zM369.6 495.45h16.6v2.26h-16.6zM369.6 503.50h16.6v2.26h-16.6zM369.6 531.65h16.6v2.26h-16.6zM369.6 547.74h16.6v2.26h-16.6zM369.6 600.02h16.6v2.26h-16.6zM386.2 513.55h16.6v2.26h-16.6zM404.3 491.43h16.2v2.26h-16.2zM404.3 513.55h16.2v2.26h-16.2zM404.3 517.57h16.2v2.26h-16.2zM404.3 559.80h16.2v2.26h-16.2zM404.3 573.88h16.2v2.26h-16.2zM404.3 579.91h16.2v2.26h-16.2zM404.3 589.97h16.2v2.26h-16.2zM404.3 602.03h16.2v2.26h-16.2zM404.3 606.05h16.2v2.26h-16.2zM404.3 614.10h16.2v2.26h-16.2zM404.3 636.22h16.2v2.26h-16.2zM404.3 660.35h16.2v2.26h-16.2zM404.3 680.46h16.2v2.26h-16.2zM404.3 688.50h16.2v2.26h-16.2zM404.3 690.51h16.2v2.26h-16.2zM404.3 696.55h16.2v2.26h-16.2zM420.5 487.41h16.2v2.26h-16.2zM420.5 495.45h16.2v2.26h-16.2zM420.5 501.49h16.2v2.26h-16.2zM420.5 553.77h16.2v2.26h-16.2zM420.5 561.81h16.2v2.26h-16.2zM420.5 587.96h16.2v2.26h-16.2zM420.5 596.00h16.2v2.26h-16.2zM420.5 598.01h16.2v2.26h-16.2zM420.5 606.05h16.2v2.26h-16.2zM420.5 620.13h16.2v2.26h-16.2zM420.5 630.19h16.2v2.26h-16.2zM420.5 654.32h16.2v2.26h-16.2zM420.5 668.39h16.2v2.26h-16.2zM420.5 672.41h16.2v2.26h-16.2zM436.6 489.42h16.2v2.26h-16.2zM436.6 493.44h16.2v2.26h-16.2zM436.6 495.45h16.2v2.26h-16.2zM436.6 561.81h16.2v2.26h-16.2zM436.6 575.89h16.2v2.26h-16.2zM436.6 593.99h16.2v2.26h-16.2zM436.6 640.24h16.2v2.26h-16.2zM436.6 656.33h16.2v2.26h-16.2zM436.6 666.38h16.2v2.26h-16.2zM436.6 672.41h16.2v2.26h-16.2zM436.6 686.49h16.2v2.26h-16.2z" fill="#c23d89" shape-rendering="crispEdges"/>
<path d="M267.4 642.25h16.6v2.26h-16.6z" fill="#3d2d90" shape-rendering="crispEdges"/>
<path d="M267.4 644.26h16.6v2.26h-16.6z" fill="#432d92" shape-rendering="crispEdges"/>
<path d="M267.4 646.27h16.6v2.26h-16.6zM267.4 668.39h16.6v2.26h-16.6zM284.1 680.46h16.6v2.26h-16.6z" fill="#482d94" shape-rendering="crispEdges"/>
<path d="M302.3 485.40h16.3v2.26h-16.3zM302.3 523.61h16.3v2.26h-16.3zM302.3 563.83h16.3v2.26h-16.3zM302.3 577.90h16.3v2.26h-16.3zM302.3 648.28h16.3v2.26h-16.3zM318.6 511.54h16.3v2.26h-16.3zM318.6 517.57h16.3v2.26h-16.3zM318.6 525.62h16.3v2.26h-16.3zM318.6 547.74h16.3v2.26h-16.3zM318.6 549.75h16.3v2.26h-16.3zM318.6 622.14h16.3v2.26h-16.3zM335.0 541.71h16.3v2.26h-16.3zM335.0 636.22h16.3v2.26h-16.3zM335.0 652.31h16.3v2.26h-16.3zM335.0 678.45h16.3v2.26h-16.3zM335.0 692.52h16.3v2.26h-16.3zM353.0 682.47h16.6v2.26h-16.6zM369.6 559.80h16.6v2.26h-16.6zM369.6 604.04h16.6v2.26h-16.6zM386.2 565.84h16.6v2.26h-16.6zM386.2 589.97h16.6v2.26h-16.6zM386.2 608.07h16.6v2.26h-16.6zM386.2 654.32h16.6v2.26h-16.6zM386.2 672.41h16.6v2.26h-16.6zM386.2 684.48h16.6v2.26h-16.6zM386.2 704.59h16.6v2.26h-16.6z" fill="#f0965f" shape-rendering="crispEdges"/>
<path d="M302.3 487.41h16.3v2.26h-16.3zM302.3 567.85h16.3v2.26h-16.3zM318.6 551.76h16.3v2.26h-16.3zM318.6 553.77h16.3v2.26h-16.3zM318.6 563.83h16.3v2.26h-16.3zM318.6 579.91h16.3v2.26h-16.3zM335.0 545.73h16.3v2.26h-16.3zM335.0 553.77h16.3v2.26h-16.3zM335.0 573.88h16.3v2.26h-16.3zM335.0 591.98h16.3v2.26h-16.3zM335.0 593.99h16.3v2.26h-16.3zM335.0 598.01h16.3v2.26h-16.3zM335.0 624.15h16.3v2.26h-16.3zM335.0 628.17h16.3v2.26h-16.3zM335.0 644.26h16.3v2.26h-16.3zM335.0 682.47h16.3v2.26h-16.3z" fill="#f2ac57" shape-rendering="crispEdges"/>
<path d="M302.3 489.42h16.3v2.26h-16.3zM302.3 517.57h16.3v2.26h-16.3zM302.3 521.60h16.3v2.26h-16.3zM302.3 646.27h16.3v2.26h-16.3zM302.3 702.58h16.3v2.26h-16.3zM318.6 491.43h16.3v2.26h-16.3zM318.6 515.56h16.3v2.26h-16.3zM318.6 537.68h16.3v2.26h-16.3zM318.6 543.72h16.3v2.26h-16.3zM318.6 557.79h16.3v2.26h-16.3zM318.6 559.80h16.3v2.26h-16.3zM318.6 575.89h16.3v2.26h-16.3zM318.6 591.98h16.3v2.26h-16.3zM318.6 596.00h16.3v2.26h-16.3zM318.6 668.39h16.3v2.26h-16.3zM318.6 670.40h16.3v2.26h-16.3zM318.6 678.45h16.3v2.26h-16.3zM318.6 682.47h16.3v2.26h-16.3zM318.6 684.48h16.3v2.26h-16.3zM335.0 640.24h16.3v2.26h-16.3zM353.0 575.89h16.6v2.26h-16.6zM353.0 608.07h16.6v2.26h-16.6zM353.0 684.48h16.6v2.26h-16.6zM369.6 596.00h16.6v2.26h-16.6zM369.6 682.47h16.6v2.26h-16.6zM369.6 684.48h16.6v2.26h-16.6zM386.2 551.76h16.6v2.26h-16.6zM386.2 563.83h16.6v2.26h-16.6zM386.2 618.12h16.6v2.26h-16.6zM386.2 652.31h16.6v2.26h-16.6zM436.6 702.58h16.2v2.26h-16.2z" fill="#ef9062" shape-rendering="crispEdges"/>
<path d="M302.3 491.43h16.3v2.26h-16.3zM302.3 529.64h16.3v2.26h-16.3zM302.3 581.92h16.3v2.26h-16.3zM318.6 507.52h16.3v2.26h-16.3zM318.6 561.81h16.3v2.26h-16.3zM318.6 620.13h16.3v2.26h-16.3zM318.6 624.15h16.3v2.26h-16.3zM318.6 672.41h16.3v2.26h-16.3zM335.0 487.41h16.3v2.26h-16.3zM335.0 511.54h16.3v2.26h-16.3zM335.0 519.59h16.3v2.26h-16.3zM335.0 537.68h16.3v2.26h-16.3zM335.0 585.95h16.3v2.26h-16.3zM335.0 596.00h16.3v2.26h-16.3zM335.0 632.20h16.3v2.26h-16.3zM335.0 634.21h16.3v2.26h-16.3zM335.0 668.39h16.3v2.26h-16.3zM335.0 684.48h16.3v2.26h-16.3zM353.0 644.26h16.6v2.26h-16.6zM353.0 646.27h16.6v2.26h-16.6zM386.2 612.09h16.6v2.26h-16.6zM386.2 642.25h16.6v2.26h-16.6zM386.2 644.26h16.6v2.26h-16.6zM386.2 670.40h16.6v2.26h-16.6z" fill="#f1a15b" shape-rendering="crispEdges"/>
<path d="M302.3 493.44h16.3v2.26h-16.3zM302.3 499.48h16.3v2.26h-16.3zM302.3 505.51h16.3v2.26h-16.3zM302.3 515.56h16.3v2.26h-16.3zM302.3 549.75h16.3v2.26h-16.3zM302.3 589.97h16.3v2.26h-16.3zM318.6 489.42h16.3v2.26h-16.3zM318.6 555.78h16.3v2.26h-16.3zM318.6 676.44h16.3v2.26h-16.3zM318.6 692.52h16.3v2.26h-16.3zM335.0 497.47h16.3v2.26h-16.3zM335.0 513.55h16.3v2.26h-16.3zM335.0 539.69h16.3v2.26h-16.3zM335.0 557.79h16.3v2.26h-16.3zM335.0 626.16h16.3v2.26h-16.3zM335.0 666.38h16.3v2.26h-16.3zM335.0 698.56h16.3v2.26h-16.3zM335.0 702.58h16.3v2.26h-16.3zM335.0 704.59h16.3v2.26h-16.3zM353.0 565.84h16.6v2.26h-16.6zM353.0 642.25h16.6v2.26h-16.6zM386.2 585.95h16.6v2.26h-16.6zM386.2 624.15h16.6v2.26h-16.6z" fill="#f19c5d" shape-rendering="crispEdges"/>
<path d="M302.3 495.45h16.3v2.26h-16.3zM302.3 511.54h16.3v2.26h-16.3zM302.3 553.77h16.3v2.26h-16.3zM318.6 499.48h16.3v2.26h-16.3zM318.6 503.50h16.3v2.26h-16.3zM318.6 523.61h16.3v2.26h-16.3zM318.6 535.67h16.3v2.26h-16.3zM318.6 589.97h16.3v2.26h-16.3zM318.6 593.99h16.3v2.26h-16.3zM335.0 549.75h16.3v2.26h-16.3zM335.0 551.76h16.3v2.26h-16.3zM335.0 561.81h16.3v2.26h-16.3zM335.0 630.19h16.3v2.26h-16.3zM386.2 591.98h16.6v2.26h-16.6zM386.2 702.58h16.6v2.26h-16.6z" fill="#f2a759" shape-rendering="crispEdges"/>
<path d="M302.3 497.47h16.3v2.26h-16.3zM302.3 507.52h16.3v2.26h-16.3zM318.6 487.41h16.3v2.26h-16.3zM318.6 497.47h16.3v2.26h-16.3zM318.6 529.64h16.3v2.26h-16.3zM318.6 585.95h16.3v2.26h-16.3zM318.6 587.96h16.3v2.26h-16.3zM318.6 646.27h16.3v2.26h-16.3zM318.6 648.28h16.3v2.26h-16.3zM318.6 694.53h16.3v2.26h-16.3zM335.0 515.56h16.3v2.26h-16.3zM335.0 517.57h16.3v2.26h-16.3zM335.0 543.72h16.3v2.26h-16.3zM335.0 577.90h16.3v2.26h-16.3zM335.0 589.97h16.3v2.26h-16.3zM335.0 622.14h16.3v2.26h-16.3zM335.0 700.57h16.3v2.26h-16.3z" fill="#f3b654" shape-rendering="crispEdges"/>
<path d="M302.3 501.49h16.3v2.26h-16.3zM302.3 519.59h16.3v2.26h-16.3zM302.3 537.68h16.3v2.26h-16.3zM302.3 539.69h16.3v2.26h-16.3zM302.3 541.71h16.3v2.26h-16.3zM302.3 608.07h16.3v2.26h-16.3zM302.3 626.16h16.3v2.26h-16.3zM302.3 628.17h16.3v2.26h-16.3zM302.3 632.20h16.3v2.26h-16.3zM302.3 634.21h16.3v2.26h-16.3zM302.3 652.31h16.3v2.26h-16.3zM302.3 682.47h16.3v2.26h-16.3zM318.6 539.69h16.3v2.26h-16.3zM318.6 598.01h16.3v2.26h-16.3zM318.6 606.05h16.3v2.26h-16.3zM318.6 666.38h16.3v2.26h-16.3zM318.6 680.46h16.3v2.26h-16.3zM335.0 610.08h16.3v2.26h-16.3zM335.0 676.44h16.3v2.26h-16.3zM335.0 694.53h16.3v2.26h-16.3zM369.6 523.61h16.6v2.26h-16.6zM369.6 591.98h16.6v2.26h-16.6zM369.6 593.99h16.6v2.26h-16.6zM369.6 642.25h16.6v2.26h-16.6zM369.6 660.35h16.6v2.26h-16.6zM369.6 672.41h16.6v2.26h-16.6zM369.6 702.58h16.6v2.26h-16.6zM386.2 487.41h16.6v2.26h-16.6zM386.2 547.74h16.6v2.26h-16.6zM386.2 598.01h16.6v2.26h-16.6zM386.2 626.16h16.6v2.26h-16.6zM386.2 658.34h16.6v2.26h-16.6zM386.2 668.39h16.6v2.26h-16.6zM386.2 694.53h16.6v2.26h-16.6zM420.5 646.27h16.2v2.26h-16.2z" fill="#ea786e" shape-rendering="crispEdges"/>
<path d="M302.3 503.50h16.3v2.26h-16.3zM302.3 547.74h16.3v2.26h-16.3zM302.3 561.81h16.3v2.26h-16.3zM302.3 579.91h16.3v2.26h-16.3zM302.3 587.96h16.3v2.26h-16.3zM302.3 591.98h16.3v2.26h-16.3zM302.3 612.09h16.3v2.26h-16.3zM302.3 676.44h16.3v2.26h-16.3zM302.3 704.59h16.3v2.26h-16.3zM318.6 493.44h16.3v2.26h-16.3zM318.6 545.73h16.3v2.26h-16.3zM318.6 604.04h16.3v2.26h-16.3zM318.6 608.07h16.3v2.26h-16.3zM318.6 616.11h16.3v2.26h-16.3zM318.6 630.19h16.3v2.26h-16.3zM318.6 640.24h16.3v2.26h-16.3zM318.6 644.26h16.3v2.26h-16.3zM335.0 499.48h16.3v2.26h-16.3zM335.0 600.02h16.3v2.26h-16.3zM335.0 664.37h16.3v2.26h-16.3zM335.0 674.43h16.3v2.26h-16.3zM353.0 674.43h16.6v2.26h-16.6zM353.0 686.49h16.6v2.26h-16.6zM369.6 555.78h16.6v2.26h-16.6zM369.6 561.81h16.6v2.26h-16.6zM369.6 598.01h16.6v2.26h-16.6zM369.6 606.05h16.6v2.26h-16.6zM369.6 618.12h16.6v2.26h-16.6zM386.2 545.73h16.6v2.26h-16.6zM386.2 573.88h16.6v2.26h-16.6zM386.2 593.99h16.6v2.26h-16.6zM386.2 602.03h16.6v2.26h-16.6zM386.2 620.13h16.6v2.26h-16.6zM386.2 622.14h16.6v2.26h-16.6zM386.2 640.24h16.6v2.26h-16.6zM386.2 648.28h16.6v2.26h-16.6zM386.2 650.29h16.6v2.26h-16.6zM386.2 676.44h16.6v2.26h-16.6zM386.2 686.49h16.6v2.26h-16.6zM386.2 696.55h16.6v2.26h-16.6zM420.5 624.15h16.2v2.26h-16.2zM420.5 648.28h16.2v2.26h-16.2z" fill="#ec8468" shape-rendering="crispEdges"/>
<path d="M302.3 509.53h16.3v2.26h-16.3zM302.3 555.78h16.3v2.26h-16.3zM318.6 565.84h16.3v2.26h-16.3zM318.6 569.86h16.3v2.26h-16.3zM335.0 493.44h16.3v2.26h-16.3zM335.0 521.60h16.3v2.26h-16.3zM335.0 523.61h16.3v2.26h-16.3zM335.0 525.62h16.3v2.26h-16.3zM335.0 559.80h16.3v2.26h-16.3zM335.0 579.91h16.3v2.26h-16.3zM335.0 646.27h16.3v2.26h-16.3zM335.0 670.40h16.3v2.26h-16.3z" fill="#f3b952" shape-rendering="crispEdges"/>
<path d="M302.3 513.55h16.3v2.26h-16.3zM302.3 551.76h16.3v2.26h-16.3zM302.3 569.86h16.3v2.26h-16.3zM318.6 505.51h16.3v2.26h-16.3zM318.6 519.59h16.3v2.26h-16.3zM318.6 521.60h16.3v2.26h-16.3zM318.6 527.63h16.3v2.26h-16.3zM335.0 495.45h16.3v2.26h-16.3zM335.0 501.49h16.3v2.26h-16.3zM335.0 575.89h16.3v2.26h-16.3zM335.0 583.93h16.3v2.26h-16.3zM335.0 587.96h16.3v2.26h-16.3zM335.0 604.04h16.3v2.26h-16.3zM335.0 612.09h16.3v2.26h-16.3zM335.0 614.10h16.3v2.26h-16.3zM335.0 648.28h16.3v2.26h-16.3zM335.0 672.41h16.3v2.26h-16.3zM386.2 575.89h16.6v2.26h-16.6z" fill="#f3b255" shape-rendering="crispEdges"/>
<path d="M302.3 525.62h16.3v2.26h-16.3zM302.3 666.38h16.3v2.26h-16.3zM318.6 614.10h16.3v2.26h-16.3zM318.6 662.36h16.3v2.26h-16.3zM318.6 702.58h16.3v2.26h-16.3zM318.6 704.59h16.3v2.26h-16.3zM335.0 606.05h16.3v2.26h-16.3zM335.0 662.36h16.3v2.26h-16.3zM353.0 593.99h16.6v2.26h-16.6zM353.0 606.05h16.6v2.26h-16.6zM353.0 614.10h16.6v2.26h-16.6zM353.0 640.24h16.6v2.26h-16.6zM353.0 648.28h16.6v2.26h-16.6zM353.0 662.36h16.6v2.26h-16.6zM353.0 670.40h16.6v2.26h-16.6zM353.0 672.41h16.6v2.26h-16.6zM353.0 690.51h16.6v2.26h-16.6zM353.0 694.53h16.6v2.26h-16.6zM353.0 704.59h16.6v2.26h-16.6zM369.6 557.79h16.6v2.26h-16.6zM369.6 579.91h16.6v2.26h-16.6zM369.6 585.95h16.6v2.26h-16.6zM369.6 612.09h16.6v2.26h-16.6zM369.6 616.11h16.6v2.26h-16.6zM369.6 640.24h16.6v2.26h-16.6zM369.6 656.33h16.6v2.26h-16.6zM369.6 674.43h16.6v2.26h-16.6zM369.6 678.45h16.6v2.26h-16.6zM369.6 680.46h16.6v2.26h-16.6zM369.6 686.49h16.6v2.26h-16.6zM369.6 694.53h16.6v2.26h-16.6zM369.6 704.59h16.6v2.26h-16.6zM386.2 519.59h16.6v2.26h-16.6zM386.2 555.78h16.6v2.26h-16.6zM386.2 557.79h16.6v2.26h-16.6zM386.2 581.92h16.6v2.26h-16.6zM386.2 632.20h16.6v2.26h-16.6zM386.2 692.52h16.6v2.26h-16.6zM404.3 646.27h16.2v2.26h-16.2zM404.3 678.45h16.2v2.26h-16.2zM420.5 593.99h16.2v2.26h-16.2zM420.5 634.21h16.2v2.26h-16.2zM420.5 644.26h16.2v2.26h-16.2zM436.6 648.28h16.2v2.26h-16.2z" fill="#e0607a" shape-rendering="crispEdges"/>
<path d="M302.3 527.63h16.3v2.26h-16.3zM302.3 531.65h16.3v2.26h-16.3zM302.3 535.67h16.3v2.26h-16.3zM302.3 571.87h16.3v2.26h-16.3zM302.3 583.93h16.3v2.26h-16.3zM302.3 602.03h16.3v2.26h-16.3zM318.6 495.45h16.3v2.26h-16.3zM318.6 513.55h16.3v2.26h-16.3zM318.6 618.12h16.3v2.26h-16.3zM318.6 628.17h16.3v2.26h-16.3zM318.6 650.29h16.3v2.26h-16.3zM318.6 696.55h16.3v2.26h-16.3zM335.0 602.03h16.3v2.26h-16.3zM335.0 608.07h16.3v2.26h-16.3zM335.0 642.25h16.3v2.26h-16.3zM335.0 680.46h16.3v2.26h-16.3zM353.0 567.85h16.6v2.26h-16.6zM369.6 646.27h16.6v2.26h-16.6zM386.2 577.90h16.6v2.26h-16.6zM386.2 604.04h16.6v2.26h-16.6zM386.2 610.08h16.6v2.26h-16.6zM386.2 634.21h16.6v2.26h-16.6zM386.2 680.46h16.6v2.26h-16.6z" fill="#ee8a65" shape-rendering="crispEdges"/>
<path d="M302.3 533.66h16.3v2.26h-16.3zM302.3 559.80h16.3v2.26h-16.3zM302.3 565.84h16.3v2.26h-16.3zM302.3 573.88h16.3v2.26h-16.3zM302.3 575.89h16.3v2.26h-16.3zM302.3 593.99h16.3v2.26h-16.3zM302.3 604.04h16.3v2.26h-16.3zM302.3 616.11h16.3v2.26h-16.3zM302.3 618.12h16.3v2.26h-16.3zM302.3 670.40h16.3v2.26h-16.3zM318.6 577.90h16.3v2.26h-16.3zM318.6 626.16h16.3v2.26h-16.3zM318.6 652.31h16.3v2.26h-16.3zM318.6 674.43h16.3v2.26h-16.3zM335.0 654.32h16.3v2.26h-16.3zM353.0 563.83h16.6v2.26h-16.6zM369.6 567.85h16.6v2.26h-16.6zM369.6 608.07h16.6v2.26h-16.6zM369.6 696.55h16.6v2.26h-16.6zM369.6 700.57h16.6v2.26h-16.6zM386.2 521.60h16.6v2.26h-16.6zM386.2 537.68h16.6v2.26h-16.6zM386.2 561.81h16.6v2.26h-16.6zM386.2 567.85h16.6v2.26h-16.6zM386.2 587.96h16.6v2.26h-16.6zM386.2 616.11h16.6v2.26h-16.6zM386.2 646.27h16.6v2.26h-16.6zM386.2 674.43h16.6v2.26h-16.6zM386.2 700.57h16.6v2.26h-16.6z" fill="#eb7e6b" shape-rendering="crispEdges"/>
<path d="M302.3 543.72h16.3v2.26h-16.3zM302.3 672.41h16.3v2.26h-16.3zM302.3 674.43h16.3v2.26h-16.3zM302.3 678.45h16.3v2.26h-16.3zM302.3 694.53h16.3v2.26h-16.3zM302.3 698.56h16.3v2.26h-16.3zM318.6 541.71h16.3v2.26h-16.3zM318.6 638.23h16.3v2.26h-16.3zM318.6 654.32h16.3v2.26h-16.3zM318.6 660.35h16.3v2.26h-16.3zM318.6 686.49h16.3v2.26h-16.3zM335.0 656.33h16.3v2.26h-16.3zM353.0 521.60h16.6v2.26h-16.6zM353.0 549.75h16.6v2.26h-16.6zM353.0 555.78h16.6v2.26h-16.6zM353.0 561.81h16.6v2.26h-16.6zM353.0 585.95h16.6v2.26h-16.6zM353.0 622.14h16.6v2.26h-16.6zM353.0 636.22h16.6v2.26h-16.6zM353.0 638.23h16.6v2.26h-16.6zM353.0 660.35h16.6v2.26h-16.6zM353.0 668.39h16.6v2.26h-16.6zM369.6 521.60h16.6v2.26h-16.6zM369.6 525.62h16.6v2.26h-16.6zM369.6 537.68h16.6v2.26h-16.6zM369.6 545.73h16.6v2.26h-16.6zM369.6 577.90h16.6v2.26h-16.6zM369.6 583.93h16.6v2.26h-16.6zM369.6 589.97h16.6v2.26h-16.6zM369.6 602.03h16.6v2.26h-16.6zM369.6 620.13h16.6v2.26h-16.6zM369.6 644.26h16.6v2.26h-16.6zM369.6 668.39h16.6v2.26h-16.6zM369.6 688.50h16.6v2.26h-16.6zM386.2 495.45h16.6v2.26h-16.6zM386.2 509.53h16.6v2.26h-16.6zM386.2 559.80h16.6v2.26h-16.6zM386.2 569.86h16.6v2.26h-16.6zM386.2 662.36h16.6v2.26h-16.6zM386.2 688.50h16.6v2.26h-16.6zM386.2 690.51h16.6v2.26h-16.6zM404.3 585.95h16.2v2.26h-16.2zM404.3 612.09h16.2v2.26h-16.2zM404.3 630.19h16.2v2.26h-16.2zM404.3 692.52h16.2v2.26h-16.2zM420.5 485.40h16.2v2.26h-16.2zM420.5 503.50h16.2v2.26h-16.2zM420.5 626.16h16.2v2.26h-16.2zM420.5 702.58h16.2v2.26h-16.2zM420.5 704.59h16.2v2.26h-16.2zM436.6 521.60h16.2v2.26h-16.2zM436.6 598.01h16.2v2.26h-16.2zM436.6 618.12h16.2v2.26h-16.2zM436.6 634.21h16.2v2.26h-16.2zM436.6 638.23h16.2v2.26h-16.2zM436.6 694.53h16.2v2.26h-16.2z" fill="#de5a7d" shape-rendering="crispEdges"/>
<path d="M302.3 545.73h16.3v2.26h-16.3zM302.3 585.95h16.3v2.26h-16.3zM302.3 600.02h16.3v2.26h-16.3zM302.3 606.05h16.3v2.26h-16.3zM302.3 614.10h16.3v2.26h-16.3zM302.3 624.15h16.3v2.26h-16.3zM302.3 630.19h16.3v2.26h-16.3zM302.3 636.22h16.3v2.26h-16.3zM302.3 638.23h16.3v2.26h-16.3zM302.3 640.24h16.3v2.26h-16.3zM302.3 684.48h16.3v2.26h-16.3zM302.3 692.52h16.3v2.26h-16.3zM318.6 501.49h16.3v2.26h-16.3zM318.6 600.02h16.3v2.26h-16.3zM318.6 612.09h16.3v2.26h-16.3zM318.6 632.20h16.3v2.26h-16.3zM318.6 636.22h16.3v2.26h-16.3zM318.6 642.25h16.3v2.26h-16.3zM318.6 664.37h16.3v2.26h-16.3zM318.6 698.56h16.3v2.26h-16.3zM318.6 700.57h16.3v2.26h-16.3zM335.0 660.35h16.3v2.26h-16.3zM335.0 690.51h16.3v2.26h-16.3zM335.0 696.55h16.3v2.26h-16.3zM353.0 537.68h16.6v2.26h-16.6zM353.0 573.88h16.6v2.26h-16.6zM353.0 577.90h16.6v2.26h-16.6zM353.0 604.04h16.6v2.26h-16.6zM353.0 610.08h16.6v2.26h-16.6zM353.0 612.09h16.6v2.26h-16.6zM353.0 654.32h16.6v2.26h-16.6zM353.0 664.37h16.6v2.26h-16.6zM353.0 676.44h16.6v2.26h-16.6zM353.0 700.57h16.6v2.26h-16.6zM369.6 553.77h16.6v2.26h-16.6zM369.6 565.84h16.6v2.26h-16.6zM369.6 610.08h16.6v2.26h-16.6zM369.6 676.44h16.6v2.26h-16.6zM386.2 493.44h16.6v2.26h-16.6zM386.2 527.63h16.6v2.26h-16.6zM386.2 539.69h16.6v2.26h-16.6zM386.2 553.77h16.6v2.26h-16.6zM386.2 571.87h16.6v2.26h-16.6zM386.2 596.00h16.6v2.26h-16.6zM386.2 630.19h16.6v2.26h-16.6zM386.2 636.22h16.6v2.26h-16.6zM386.2 656.33h16.6v2.26h-16.6zM386.2 664.37h16.6v2.26h-16.6zM386.2 698.56h16.6v2.26h-16.6zM404.3 644.26h16.2v2.26h-16.2zM420.5 688.50h16.2v2.26h-16.2zM436.6 606.05h16.2v2.26h-16.2zM436.6 646.27h16.2v2.26h-16.2zM436.6 688.50h16.2v2.26h-16.2z" fill="#e87271" shape-rendering="crispEdges"/>
<path d="M302.3 557.79h16.3v2.26h-16.3zM302.3 596.00h16.3v2.26h-16.3zM302.3 622.14h16.3v2.26h-16.3zM302.3 642.25h16.3v2.26h-16.3zM302.3 650.29h16.3v2.26h-16.3zM302.3 686.49h16.3v2.26h-16.3zM318.6 602.03h16.3v2.26h-16.3zM335.0 688.50h16.3v2.26h-16.3zM353.0 547.74h16.6v2.26h-16.6zM353.0 571.87h16.6v2.26h-16.6zM353.0 591.98h16.6v2.26h-16.6zM353.0 650.29h16.6v2.26h-16.6zM353.0 652.31h16.6v2.26h-16.6zM353.0 702.58h16.6v2.26h-16.6zM369.6 485.40h16.6v2.26h-16.6zM369.6 551.76h16.6v2.26h-16.6zM369.6 563.83h16.6v2.26h-16.6zM369.6 575.89h16.6v2.26h-16.6zM386.2 489.42h16.6v2.26h-16.6zM386.2 541.71h16.6v2.26h-16.6zM386.2 543.72h16.6v2.26h-16.6zM386.2 579.91h16.6v2.26h-16.6zM386.2 600.02h16.6v2.26h-16.6zM386.2 614.10h16.6v2.26h-16.6zM386.2 638.23h16.6v2.26h-16.6zM386.2 660.35h16.6v2.26h-16.6zM386.2 666.38h16.6v2.26h-16.6zM386.2 678.45h16.6v2.26h-16.6zM404.3 575.89h16.2v2.26h-16.2zM404.3 648.28h16.2v2.26h-16.2zM404.3 698.56h16.2v2.26h-16.2zM420.5 575.89h16.2v2.26h-16.2zM420.5 602.03h16.2v2.26h-16.2zM420.5 608.07h16.2v2.26h-16.2zM436.6 644.26h16.2v2.26h-16.2zM436.6 704.59h16.2v2.26h-16.2z" fill="#e36677" shape-rendering="crispEdges"/>
<path d="M302.3 598.01h16.3v2.26h-16.3zM302.3 620.13h16.3v2.26h-16.3zM302.3 644.26h16.3v2.26h-16.3zM302.3 662.36h16.3v2.26h-16.3zM302.3 690.51h16.3v2.26h-16.3zM302.3 700.57h16.3v2.26h-16.3zM318.6 634.21h16.3v2.26h-16.3zM318.6 690.51h16.3v2.26h-16.3zM335.0 638.23h16.3v2.26h-16.3zM335.0 650.29h16.3v2.26h-16.3zM335.0 658.34h16.3v2.26h-16.3zM335.0 686.49h16.3v2.26h-16.3zM353.0 551.76h16.6v2.26h-16.6zM353.0 583.93h16.6v2.26h-16.6zM353.0 618.12h16.6v2.26h-16.6zM353.0 620.13h16.6v2.26h-16.6zM353.0 656.33h16.6v2.26h-16.6zM353.0 658.34h16.6v2.26h-16.6zM353.0 680.46h16.6v2.26h-16.6zM353.0 692.52h16.6v2.26h-16.6zM369.6 487.41h16.6v2.26h-16.6zM369.6 581.92h16.6v2.26h-16.6zM369.6 614.10h16.6v2.26h-16.6zM369.6 648.28h16.6v2.26h-16.6zM369.6 650.29h16.6v2.26h-16.6zM369.6 658.34h16.6v2.26h-16.6zM386.2 485.40h16.6v2.26h-16.6zM386.2 549.75h16.6v2.26h-16.6zM386.2 583.93h16.6v2.26h-16.6zM386.2 606.05h16.6v2.26h-16.6zM404.3 702.58h16.2v2.26h-16.2zM436.6 519.59h16.2v2.26h-16.2zM436.6 690.51h16.2v2.26h-16.2z" fill="#e56c74" shape-rendering="crispEdges"/>
<path d="M318.6 485.40h16.3v2.26h-16.3zM318.6 533.66h16.3v2.26h-16.3z" fill="#f4c44e" shape-rendering="crispEdges"/>
<path d="M318.6 509.53h16.3v2.26h-16.3zM318.6 531.65h16.3v2.26h-16.3zM318.6 581.92h16.3v2.26h-16.3zM335.0 489.42h16.3v2.26h-16.3zM335.0 503.50h16.3v2.26h-16.3zM335.0 531.65h16.3v2.26h-16.3zM335.0 533.66h16.3v2.26h-16.3zM335.0 547.74h16.3v2.26h-16.3zM335.0 555.78h16.3v2.26h-16.3zM335.0 565.84h16.3v2.26h-16.3zM335.0 616.11h16.3v2.26h-16.3zM335.0 620.13h16.3v2.26h-16.3z" fill="#f4c14f" shape-rendering="crispEdges"/>
<path d="M318.6 567.85h16.3v2.26h-16.3z" fill="#f4cc4a" shape-rendering="crispEdges"/>
<path d="M318.6 571.87h16.3v2.26h-16.3zM318.6 573.88h16.3v2.26h-16.3zM318.6 583.93h16.3v2.26h-16.3zM335.0 485.40h16.3v2.26h-16.3zM335.0 535.67h16.3v2.26h-16.3zM335.0 571.87h16.3v2.26h-16.3zM335.0 618.12h16.3v2.26h-16.3zM386.2 682.47h16.6v2.26h-16.6z" fill="#f4bd50" shape-rendering="crispEdges"/>
<path d="M335.0 491.43h16.3v2.26h-16.3z" fill="#f5d348" shape-rendering="crispEdges"/>
<path d="M335.0 505.51h16.3v2.26h-16.3zM335.0 507.52h16.3v2.26h-16.3zM335.0 569.86h16.3v2.26h-16.3z" fill="#f5d746" shape-rendering="crispEdges"/>
<path d="M335.0 509.53h16.3v2.26h-16.3zM335.0 527.63h16.3v2.26h-16.3z" fill="#f5d049" shape-rendering="crispEdges"/>
<path d="M335.0 529.64h16.3v2.26h-16.3zM335.0 563.83h16.3v2.26h-16.3zM335.0 581.92h16.3v2.26h-16.3z" fill="#f4c84c" shape-rendering="crispEdges"/>
<path d="M335.0 567.85h16.3v2.26h-16.3z" fill="#f5d944" shape-rendering="crispEdges"/>
<rect x="248.30" y="485.40" width="2.30" height="221.20" fill="#cfcfcf" stroke="none" stroke-width="1" />
<path d="M248.60,492.44 L246.72,492.44 L246.72,494.45 L248.60,494.45 M248.60,496.46 L246.26,496.46 L246.26,498.47 L248.60,498.47 M246.72,493.44 L245.69,493.44 L245.69,497.47 L246.26,497.47 M248.60,504.50 L246.51,504.50 L246.51,506.51 L248.60,506.51 M248.60,502.49 L245.66,502.49 L245.66,505.51 L246.51,505.51 M248.60,500.48 L244.97,500.48 L244.97,504.00 L245.66,504.00 M245.69,495.45 L244.62,495.45 L244.62,502.24 L244.97,502.24 M248.60,490.43 L243.16,490.43 L243.16,498.85 L244.62,498.85 M248.60,508.53 L244.44,508.53 L244.44,510.54 L248.60,510.54 M248.60,514.56 L245.83,514.56 L245.83,516.57 L248.60,516.57 M248.60,512.55 L244.41,512.55 L244.41,515.56 L245.83,515.56 M244.44,509.53 L242.74,509.53 L242.74,514.06 L244.41,514.06 M243.16,494.64 L242.37,494.64 L242.37,511.79 L242.74,511.79 M248.60,518.58 L245.31,518.58 L245.31,520.59 L248.60,520.59 M248.60,522.60 L244.44,522.60 L244.44,524.61 L248.60,524.61 M248.60,528.63 L244.66,528.63 L244.66,530.65 L248.60,530.65 M248.60,526.62 L244.38,526.62 L244.38,529.64 L244.66,529.64 M248.60,532.66 L246.03,532.66 L246.03,534.67 L248.60,534.67 M248.60,536.68 L245.71,536.68 L245.71,538.69 L248.60,538.69 M246.03,533.66 L244.36,533.66 L244.36,537.68 L245.71,537.68 M244.38,528.13 L242.90,528.13 L242.90,535.67 L244.36,535.67 M244.44,523.61 L242.05,523.61 L242.05,531.90 L242.90,531.90 M245.31,519.59 L241.14,519.59 L241.14,527.75 L242.05,527.75 M242.37,503.22 L240.71,503.22 L240.71,523.67 L241.14,523.67 M248.60,540.70 L246.61,540.70 L246.61,542.71 L248.60,542.71 M248.60,544.72 L245.77,544.72 L245.77,546.73 L248.60,546.73 M246.61,541.71 L245.31,541.71 L245.31,545.73 L245.77,545.73 M248.60,550.75 L245.49,550.75 L245.49,552.77 L248.60,552.77 M248.60,548.74 L244.50,548.74 L244.50,551.76 L245.49,551.76 M245.31,543.72 L244.11,543.72 L244.11,550.25 L244.50,550.25 M248.60,554.78 L246.09,554.78 L246.09,556.79 L248.60,556.79 M248.60,560.81 L245.85,560.81 L245.85,562.82 L248.60,562.82 M248.60,558.80 L244.21,558.80 L244.21,561.81 L245.85,561.81 M246.09,555.78 L243.96,555.78 L243.96,560.31 L244.21,560.31 M244.11,546.98 L242.27,546.98 L242.27,558.04 L243.96,558.04 M248.60,566.84 L247.12,566.84 L247.12,568.85 L248.60,568.85 M248.60,564.83 L244.13,564.83 L244.13,567.85 L247.12,567.85 M248.60,572.87 L245.59,572.87 L245.59,574.89 L248.60,574.89 M248.60,570.86 L244.03,570.86 L244.03,573.88 L245.59,573.88 M244.13,566.34 L243.10,566.34 L243.10,572.37 L244.03,572.37 M248.60,576.90 L243.95,576.90 L243.95,578.91 L248.60,578.91 M248.60,582.93 L245.83,582.93 L245.83,584.94 L248.60,584.94 M248.60,580.92 L245.20,580.92 L245.20,583.93 L245.83,583.93 M248.60,590.97 L247.55,590.97 L247.55,592.98 L248.60,592.98 M248.60,588.96 L246.46,588.96 L246.46,591.98 L247.55,591.98 M248.60,594.99 L246.23,594.99 L246.23,597.01 L248.60,597.01 M246.46,590.47 L245.50,590.47 L245.50,596.00 L246.23,596.00 M248.60,586.95 L244.90,586.95 L244.90,593.24 L245.50,593.24 M245.20,582.43 L243.05,582.43 L243.05,590.09 L244.90,590.09 M243.95,577.90 L242.78,577.90 L242.78,586.26 L243.05,586.26 M243.10,569.36 L241.46,569.36 L241.46,582.08 L242.78,582.08 M242.27,552.51 L240.59,552.51 L240.59,575.72 L241.46,575.72 M248.60,599.02 L245.87,599.02 L245.87,601.03 L248.60,601.03 M248.60,603.04 L245.14,603.04 L245.14,605.05 L248.60,605.05 M248.60,607.06 L244.71,607.06 L244.71,609.07 L248.60,609.07 M245.14,604.04 L243.65,604.04 L243.65,608.07 L244.71,608.07 M245.87,600.02 L242.05,600.02 L242.05,606.05 L243.65,606.05 M248.60,611.08 L244.87,611.08 L244.87,613.09 L248.60,613.09 M248.60,615.10 L244.84,615.10 L244.84,617.11 L248.60,617.11 M248.60,621.14 L246.07,621.14 L246.07,623.15 L248.60,623.15 M248.60,619.13 L245.25,619.13 L245.25,622.14 L246.07,622.14 M248.60,631.19 L247.71,631.19 L247.71,633.20 L248.60,633.20 M248.60,629.18 L246.30,629.18 L246.30,632.20 L247.71,632.20 M248.60,637.22 L246.73,637.22 L246.73,639.23 L248.60,639.23 M248.60,635.21 L245.75,635.21 L245.75,638.23 L246.73,638.23 M246.30,630.69 L245.53,630.69 L245.53,636.72 L245.75,636.72 M248.60,627.17 L244.98,627.17 L244.98,633.70 L245.53,633.70 M248.60,625.16 L244.37,625.16 L244.37,630.44 L244.98,630.44 M245.25,620.63 L243.91,620.63 L243.91,627.80 L244.37,627.80 M244.84,616.11 L243.28,616.11 L243.28,624.22 L243.91,624.22 M248.60,643.26 L244.55,643.26 L244.55,645.27 L248.60,645.27 M248.60,641.25 L243.67,641.25 L243.67,644.26 L244.55,644.26 M248.60,649.29 L246.76,649.29 L246.76,651.30 L248.60,651.30 M248.60,647.28 L245.71,647.28 L245.71,650.29 L246.76,650.29 M248.60,655.32 L246.60,655.32 L246.60,657.33 L248.60,657.33 M248.60,659.34 L246.59,659.34 L246.59,661.35 L248.60,661.35 M246.60,656.33 L246.10,656.33 L246.10,660.35 L246.59,660.35 M248.60,653.31 L245.78,653.31 L245.78,658.34 L246.10,658.34 M248.60,665.38 L245.81,665.38 L245.81,667.39 L248.60,667.39 M248.60,663.37 L245.17,663.37 L245.17,666.38 L245.81,666.38 M245.78,655.82 L244.38,655.82 L244.38,664.87 L245.17,664.87 M245.71,648.79 L243.44,648.79 L243.44,660.35 L244.38,660.35 M243.67,642.75 L243.00,642.75 L243.00,654.57 L243.44,654.57 M248.60,669.40 L246.10,669.40 L246.10,671.41 L248.60,671.41 M248.60,673.42 L246.46,673.42 L246.46,675.43 L248.60,675.43 M248.60,677.44 L246.16,677.44 L246.16,679.45 L248.60,679.45 M246.46,674.43 L244.95,674.43 L244.95,678.45 L246.16,678.45 M246.10,670.40 L244.77,670.40 L244.77,676.44 L244.95,676.44 M248.60,681.46 L246.55,681.46 L246.55,683.47 L248.60,683.47 M248.60,685.49 L246.62,685.49 L246.62,687.50 L248.60,687.50 M248.60,691.52 L246.91,691.52 L246.91,693.53 L248.60,693.53 M248.60,689.51 L246.58,689.51 L246.58,692.52 L246.91,692.52 M246.62,686.49 L246.25,686.49 L246.25,691.02 L246.58,691.02 M246.55,682.47 L245.56,682.47 L245.56,688.75 L246.25,688.75 M248.60,699.56 L246.71,699.56 L246.71,701.57 L248.60,701.57 M248.60,697.55 L246.10,697.55 L246.10,700.57 L246.71,700.57 M248.60,703.58 L245.13,703.58 L245.13,705.59 L248.60,705.59 M246.10,699.06 L244.68,699.06 L244.68,704.59 L245.13,704.59 M248.60,695.54 L244.32,695.54 L244.32,701.82 L244.68,701.82 M245.56,685.61 L243.83,685.61 L243.83,698.68 L244.32,698.68 M244.77,673.42 L242.62,673.42 L242.62,692.15 L243.83,692.15 M243.00,648.66 L242.16,648.66 L242.16,682.78 L242.62,682.78 M243.28,620.16 L241.83,620.16 L241.83,665.72 L242.16,665.72 M244.87,612.09 L241.17,612.09 L241.17,642.94 L241.83,642.94 M242.05,603.04 L240.18,603.04 L240.18,627.51 L241.17,627.51 M240.59,564.12 L239.94,564.12 L239.94,615.28 L240.18,615.28 M240.71,513.44 L239.74,513.44 L239.74,589.70 L239.94,589.70 M248.60,488.42 L237.80,488.42 L237.80,551.57 L239.74,551.57 M248.60,486.41 L236.40,486.41 L236.40,519.99 L237.80,519.99" fill="none" stroke="#333" stroke-width="0.55"/>
<text x="276.20" y="718.17" font-size="6.9" text-anchor="middle" fill="#222" stroke="#222" font-weight="normal" >control-HSPCs</text>
<text x="327.00" y="718.17" font-size="6.9" text-anchor="middle" fill="#222" stroke="#222" font-weight="normal" >AML-HSPCs</text>
<text x="378.50" y="718.17" font-size="6.9" text-anchor="middle" fill="#222" stroke="#222" font-weight="normal" >AML-HSPCs</text>
<text x="378.50" y="726.27" font-size="6.9" text-anchor="middle" fill="#222" stroke="#222" font-weight="normal" >UNC1999</text>
<text x="429.30" y="718.17" font-size="6.9" text-anchor="middle" fill="#222" stroke="#222" font-weight="normal" >AML-HSPCs</text>
<text x="429.30" y="726.27" font-size="6.9" text-anchor="middle" fill="#222" stroke="#222" font-weight="normal" >UNC1999 + AZA</text>
<text x="456.20" y="568.27" font-size="6.9" text-anchor="start" fill="#222" stroke="#222" font-weight="normal" >Z-score</text>
<defs><linearGradient id="zs" x1="0" x2="0" y1="0" y2="1"><stop offset="0" stop-color="#1e2d87"/><stop offset="0.22" stop-color="#1e2d87"/><stop offset="0.27" stop-color="#4a1f8e"/><stop offset="0.38" stop-color="#9a1f86"/><stop offset="0.5" stop-color="#d3406e"/><stop offset="0.63" stop-color="#ee8a52"/><stop offset="0.75" stop-color="#f3d532"/><stop offset="1" stop-color="#f0e426"/></linearGradient></defs>
<rect x="456.10" y="575.10" width="9.90" height="48.80" fill="url(#zs)" stroke="none" stroke-width="1" />
<line x1="456.10" y1="577.40" x2="457.80" y2="577.40" stroke="#fff" stroke-width="0.6" />
<line x1="464.30" y1="577.40" x2="466.00" y2="577.40" stroke="#fff" stroke-width="0.6" />
<text x="469.20" y="579.87" font-size="6.9" text-anchor="start" fill="#222" stroke="#222" font-weight="normal" >4</text>
<line x1="456.10" y1="588.55" x2="457.80" y2="588.55" stroke="#fff" stroke-width="0.6" />
<line x1="464.30" y1="588.55" x2="466.00" y2="588.55" stroke="#fff" stroke-width="0.6" />
<text x="469.20" y="591.02" font-size="6.9" text-anchor="start" fill="#222" stroke="#222" font-weight="normal" >2</text>
<line x1="456.10" y1="599.70" x2="457.80" y2="599.70" stroke="#fff" stroke-width="0.6" />
<line x1="464.30" y1="599.70" x2="466.00" y2="599.70" stroke="#fff" stroke-width="0.6" />
<text x="469.20" y="602.17" font-size="6.9" text-anchor="start" fill="#222" stroke="#222" font-weight="normal" >0</text>
<line x1="456.10" y1="610.85" x2="457.80" y2="610.85" stroke="#fff" stroke-width="0.6" />
<line x1="464.30" y1="610.85" x2="466.00" y2="610.85" stroke="#fff" stroke-width="0.6" />
<text x="467.80" y="613.32" font-size="6.9" text-anchor="start" fill="#222" stroke="#222" font-weight="normal" >−2</text>
<line x1="456.10" y1="622.00" x2="457.80" y2="622.00" stroke="#fff" stroke-width="0.6" />
<line x1="464.30" y1="622.00" x2="466.00" y2="622.00" stroke="#fff" stroke-width="0.6" />
<text x="467.80" y="624.47" font-size="6.9" text-anchor="start" fill="#222" stroke="#222" font-weight="normal" >−4</text>
<rect x="0.50" y="0.50" width="519.00" height="734.00" fill="none" stroke="#555" stroke-width="1" />
</svg></body></html>
